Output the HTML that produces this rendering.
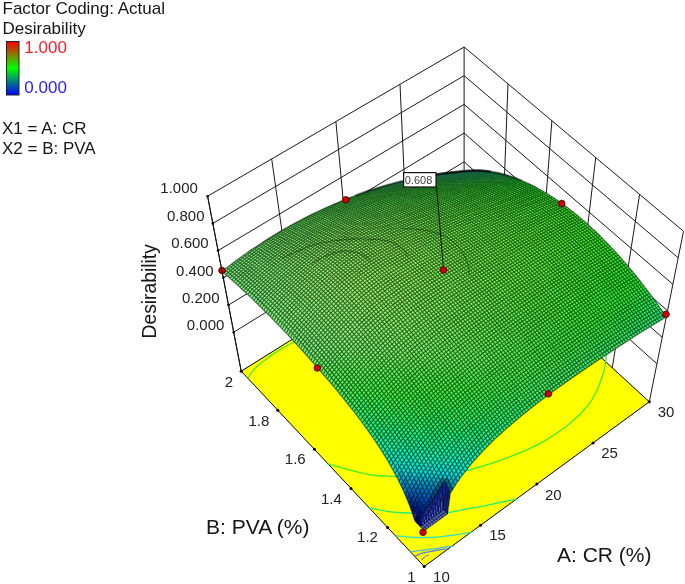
<!DOCTYPE html>
<html><head><meta charset="utf-8"><title>Desirability</title>
<style>html,body{margin:0;padding:0;background:#fff}svg{display:block;font-family:"Liberation Sans",sans-serif;filter:blur(0.45px)}</style></head>
<body>
<svg width="685" height="584" viewBox="0 0 685 584">
<rect width="685" height="584" fill="#fff"/>
<polygon points="424.2,566.5 649.3,401.8 464.1,231.7 241.2,371.2" fill="#ffff00" stroke="#000" stroke-width="1"/>
<path fill="none" stroke="#46eb32" stroke-width="1.3" d="M248.1 378.2 C249.1 376.7 251.3 372.3 254 369.4 C256.7 366.5 260.1 363.9 264.2 360.7 C268.3 357.5 273.5 353.7 278.8 350.4 C284.1 347.1 293.1 342.6 296 341"/>
<path fill="none" stroke="#46eb32" stroke-width="1.3" d="M327.5 463.8 C330.8 464.8 340 467.6 347.4 469.5 C354.8 471.4 363.9 473.8 372.1 475 C380.3 476.2 388.8 476.2 396.8 476.5 C404.8 476.8 412 476.8 420 476.5 C428 476.2 436.8 475.6 445 474.5 C453.2 473.4 458.7 472.8 469.1 470 C479.6 467.2 495.4 462.4 507.7 457.7 C520 453 532.3 447.8 542.8 441.9 C553.3 436 562.7 429.6 570.9 422.6 C579.1 415.6 586.3 408.6 591.9 399.8 C597.5 391 601.7 379.1 604.2 370 C606.7 360.9 606.5 349.2 607 345"/>
<path fill="none" stroke="#28eb6e" stroke-width="1.3" d="M369.3 507.8 C372 508.4 380.5 510.4 385.4 511.2 C390.3 512 394.3 512.2 398.7 512.5 C403.1 512.8 406.8 512.9 412 513.1 C417.2 513.3 423.8 513.6 430 513.5 C436.2 513.4 443.1 513.1 449.2 512.4 C455.3 511.6 460.8 510.1 466.8 509 C472.8 507.9 479.5 506.9 485 505.8 C490.5 504.7 494.8 503.6 500 502.5 C505.2 501.4 513.8 499.7 516.5 499.1"/>
<path fill="none" stroke="#32e1be" stroke-width="1.3" d="M396 535.8 C398.3 536 405.3 536.9 409.8 537.2 C414.3 537.5 418.6 537.7 423 537.7 C427.4 537.7 431.5 537.6 436.1 537.2 C440.7 536.8 446.3 536 450.7 535.5 C455.1 535 458.8 534.5 462.4 533.9 C466 533.3 470.9 532.4 472.6 532.1"/>
<path fill="none" stroke="#46bedc" stroke-width="1.3" d="M410.5 551.8 C412.3 551.6 417.7 550.9 421.5 550.4 C425.3 549.9 429.6 549.4 433.2 548.9 C436.8 548.4 440.1 547.9 443.4 547.4 C446.7 546.9 451.3 546.2 452.9 546"/>
<path fill="none" stroke="#5a82dc" stroke-width="1.3" d="M414.9 556.2 C415.9 555.8 418.7 554.3 421 553.6 C423.3 552.9 426 552.4 428.8 551.8 C431.6 551.2 434.8 550.5 438 550 C441.2 549.5 446.2 549.1 447.8 548.9"/>
<path fill="none" stroke="#8c8cc8" stroke-width="1.3" d="M421.5 559.9 C422.1 559.4 423.8 557.7 425 556.8 C426.2 555.9 428.2 555.1 428.8 554.7"/>
<path d="M233.7 332.2 L464.1 190.5 M464.1 190.5 L656.9 363.8 M228.5 305 L464.1 161.8 M464.1 161.8 L662.2 337.3 M223.3 277.8 L464.1 133.1 M464.1 133.1 L667.6 310.8 M218 250.6 L464.1 104.4 M464.1 104.4 L672.9 284.3 M212.8 223.4 L464.1 75.7 M464.1 75.7 L678.2 257.8 M207.6 196.2 L464.1 47 M464.1 47 L683.5 231.3 M241.2 371.2 L207.6 196.2 M296.9 336.3 L271.7 158.9 M352.6 301.4 L335.9 121.6 M408.4 266.6 L400 84.3 M464.1 231.7 L464.1 47 M649.3 401.8 L683.5 231.3 M612.3 367.8 L639.6 194.4 M575.2 333.8 L595.7 157.6 M538.2 299.7 L551.9 120.7 M501.1 265.7 L508 83.9" fill="none" stroke="#1a1a1a" stroke-width="1"/>
<g shape-rendering="crispEdges"><path fill="#3c9fec" d="M463.3 171.4l4.7-.5-3.9 .4-4.7 .4z"/><path fill="#3cb9ee" d="M467.3 171.2l4.7-.6-4 .3-4.7 .5z"/><path fill="#3cd3f0" d="M471.3 171.2l4.7-.6-4 0-4.7 .6z"/><path fill="#3bedf0" d="M475.3 171.4l4.7-.8-4 0-4.7 .6z"/><path fill="#3bf0df" d="M479.4 171.7l4.7-.8-4.1-.3-4.7 .8z"/><path fill="#3bf0cc" d="M483.4 172.3l4.7-1-4-.4-4.7 .8z"/><path fill="#3af0ba" d="M487.5 172.9l4.7-1-4.1-.6-4.7 1z"/><path fill="#3af0a9" d="M491.6 173.8l4.7-1.2-4.1-.7-4.7 1z"/><path fill="#39f099" d="M495.7 174.7l4.7-1.2-4.1-.9-4.7 1.2z"/><path fill="#39f089" d="M499.8 175.9l4.8-1.3-4.2-1.1-4.7 1.2z"/><path fill="#39f07b" d="M504 177.1l4.7-1.3-4.1-1.2-4.8 1.3z"/><path fill="#38f06d" d="M508.1 178.6l4.8-1.4-4.2-1.4-4.7 1.3z"/><path fill="#38f060" d="M512.3 180.2l4.7-1.5-4.1-1.5-4.8 1.4z"/><path fill="#37f054" d="M516.4 181.9l4.8-1.6-4.2-1.6-4.7 1.5z"/><path fill="#37f049" d="M520.6 183.7l4.8-1.6-4.2-1.8-4.8 1.6z"/><path fill="#37f03e" d="M524.8 185.7l4.8-1.7-4.2-1.9-4.8 1.6z"/><path fill="#36f036" d="M529 187.9l4.8-1.8-4.2-2.1-4.8 1.7z"/><path fill="#36f036" d="M533.2 190.1l4.7-1.8-4.1-2.2-4.8 1.8z"/><path fill="#36f036" d="M537.3 192.5l4.8-1.9-4.2-2.3-4.7 1.8z"/><path fill="#39f035" d="M541.5 195l4.8-1.9-4.2-2.5-4.8 1.9z"/><path fill="#3bf035" d="M545.7 197.7l4.8-2-4.2-2.6-4.8 1.9z"/><path fill="#3df034" d="M549.9 200.5l4.8-2.1-4.2-2.7-4.8 2z"/><path fill="#3ef034" d="M554.1 203.4l4.8-2.2-4.2-2.8-4.8 2.1z"/><path fill="#40f034" d="M558.3 206.4l4.8-2.2-4.2-3-4.8 2.2z"/><path fill="#41f033" d="M562.4 209.5l4.8-2.2-4.1-3.1-4.8 2.2z"/><path fill="#41f033" d="M566.6 212.8l4.8-2.3-4.2-3.2-4.8 2.2z"/><path fill="#42f032" d="M570.7 216.1l4.9-2.3-4.2-3.3-4.8 2.3z"/><path fill="#42f032" d="M574.9 219.6l4.8-2.4-4.1-3.4-4.9 2.3z"/><path fill="#42f032" d="M579 223.2l4.8-2.4-4.1-3.6-4.8 2.4z"/><path fill="#41f031" d="M583.1 226.9l4.9-2.5-4.2-3.6-4.8 2.4z"/><path fill="#41f031" d="M587.2 230.7l4.9-2.5-4.1-3.8-4.9 2.5z"/><path fill="#40f031" d="M591.3 234.6l4.9-2.6-4.1-3.8-4.9 2.5z"/><path fill="#3ef030" d="M595.4 238.6l4.8-2.6-4-4-4.9 2.6z"/><path fill="#3df030" d="M599.5 242.7l4.8-2.6-4.1-4.1-4.8 2.6z"/><path fill="#3bf02f" d="M603.5 246.8l4.8-2.6-4-4.1-4.8 2.6z"/><path fill="#39f02f" d="M607.5 251.1l4.9-2.6-4.1-4.3-4.8 2.6z"/><path fill="#37f02f" d="M611.6 255.5l4.8-2.7-4-4.3-4.9 2.6z"/><path fill="#34f02e" d="M615.5 260l4.9-2.8-4-4.4-4.8 2.7z"/><path fill="#31f02e" d="M619.5 264.5l4.8-2.7-3.9-4.6-4.9 2.8z"/><path fill="#2ef02d" d="M623.5 269.1l4.8-2.7-4-4.6-4.8 2.7z"/><path fill="#2df02d" d="M627.4 273.8l4.8-2.7-3.9-4.7-4.8 2.7z"/><path fill="#2df02d" d="M631.3 278.6l4.8-2.8-3.9-4.7-4.8 2.7z"/><path fill="#2cf030" d="M635.2 283.5l4.8-2.8-3.9-4.9-4.8 2.8z"/><path fill="#2cf039" d="M639 288.5l4.8-2.9-3.8-4.9-4.8 2.8z"/><path fill="#2cf042" d="M642.9 293.5l4.7-2.9-3.8-5-4.8 2.9z"/><path fill="#2bf04c" d="M646.7 298.6l4.7-2.9-3.8-5.1-4.7 2.9z"/><path fill="#2bf057" d="M650.4 303.7l4.8-2.8-3.8-5.2-4.7 2.9z"/><path fill="#2af062" d="M654.2 309l4.8-2.9-3.8-5.2-4.8 2.8z"/><path fill="#2af06d" d="M657.9 314.3l4.8-2.9-3.7-5.3-4.8 2.9z"/><path fill="#2af079" d="M661.6 319.6l4.8-2.8-3.7-5.4-4.8 2.9z"/><path fill="#3db0ee" d="M458.6 171.9l4.7-.5-3.9 .3-4.7 .4z"/><path fill="#3dcaf0" d="M462.6 171.8l4.7-.6-4 .2-4.7 .5z"/><path fill="#3de4f0" d="M466.6 171.9l4.7-.7-4 0-4.7 .6z"/><path fill="#3df0e5" d="M470.6 172.2l4.7-.8-4-.2-4.7 .7z"/><path fill="#3cf0d3" d="M474.6 172.7l4.8-1-4.1-.3-4.7 .8z"/><path fill="#3cf0c0" d="M478.7 173.3l4.7-1-4-.6-4.8 1z"/><path fill="#3cf0af" d="M482.7 174l4.8-1.1-4.1-.6-4.7 1z"/><path fill="#3bf09f" d="M486.8 174.9l4.8-1.1-4.1-.9-4.8 1.1z"/><path fill="#3bf08f" d="M490.9 176l4.8-1.3-4.1-.9-4.8 1.1z"/><path fill="#3af080" d="M495.1 177.2l4.7-1.3-4.1-1.2-4.8 1.3z"/><path fill="#3af072" d="M499.2 178.5l4.8-1.4-4.2-1.2-4.7 1.3z"/><path fill="#3af065" d="M503.3 180.1l4.8-1.5-4.1-1.5-4.8 1.4z"/><path fill="#39f058" d="M507.5 181.7l4.8-1.5-4.2-1.6-4.8 1.5z"/><path fill="#39f04c" d="M511.7 183.5l4.7-1.6-4.1-1.7-4.8 1.5z"/><path fill="#39f041" d="M515.8 185.4l4.8-1.7-4.2-1.8-4.7 1.6z"/><path fill="#38f038" d="M520 187.5l4.8-1.8-4.2-2-4.8 1.7z"/><path fill="#38f038" d="M524.2 189.7l4.8-1.8-4.2-2.2-4.8 1.8z"/><path fill="#38f037" d="M528.4 192l4.8-1.9-4.2-2.2-4.8 1.8z"/><path fill="#3bf037" d="M532.5 194.5l4.8-2-4.1-2.4-4.8 1.9z"/><path fill="#3df037" d="M536.7 197.1l4.8-2.1-4.2-2.5-4.8 2z"/><path fill="#3ff036" d="M540.9 199.8l4.8-2.1-4.2-2.7-4.8 2.1z"/><path fill="#41f036" d="M545.1 202.6l4.8-2.1-4.2-2.8-4.8 2.1z"/><path fill="#42f035" d="M549.3 205.6l4.8-2.2-4.2-2.9-4.8 2.1z"/><path fill="#43f035" d="M553.4 208.6l4.9-2.2-4.2-3-4.8 2.2z"/><path fill="#44f035" d="M557.6 211.8l4.8-2.3-4.1-3.1-4.9 2.2z"/><path fill="#45f034" d="M561.8 215.1l4.8-2.3-4.2-3.3-4.8 2.3z"/><path fill="#45f034" d="M565.9 218.5l4.8-2.4-4.1-3.3-4.8 2.3z"/><path fill="#45f034" d="M570.1 222l4.8-2.4-4.2-3.5-4.8 2.4z"/><path fill="#45f033" d="M574.2 225.7l4.8-2.5-4.1-3.6-4.8 2.4z"/><path fill="#45f033" d="M578.3 229.4l4.8-2.5-4.1-3.7-4.8 2.5z"/><path fill="#44f032" d="M582.4 233.2l4.8-2.5-4.1-3.8-4.8 2.5z"/><path fill="#43f032" d="M586.5 237.2l4.8-2.6-4.1-3.9-4.8 2.5z"/><path fill="#42f032" d="M590.6 241.2l4.8-2.6-4.1-4-4.8 2.6z"/><path fill="#40f031" d="M594.6 245.3l4.9-2.6-4.1-4.1-4.8 2.6z"/><path fill="#3ef031" d="M598.7 249.5l4.8-2.7-4-4.1-4.9 2.6z"/><path fill="#3cf030" d="M602.7 253.8l4.8-2.7-4-4.3-4.8 2.7z"/><path fill="#3af030" d="M606.7 258.2l4.9-2.7-4.1-4.4-4.8 2.7z"/><path fill="#37f030" d="M610.7 262.7l4.8-2.7-3.9-4.5-4.9 2.7z"/><path fill="#34f02f" d="M614.7 267.3l4.8-2.8-4-4.5-4.8 2.7z"/><path fill="#31f02f" d="M618.6 271.9l4.9-2.8-4-4.6-4.8 2.8z"/><path fill="#2ff02f" d="M622.6 276.7l4.8-2.9-3.9-4.7-4.9 2.8z"/><path fill="#2ef02e" d="M626.5 281.5l4.8-2.9-3.9-4.8-4.8 2.9z"/><path fill="#2ef02e" d="M630.4 286.4l4.8-2.9-3.9-4.9-4.8 2.9z"/><path fill="#2df037" d="M634.2 291.3l4.8-2.8-3.8-5-4.8 2.9z"/><path fill="#2df040" d="M638.1 296.4l4.8-2.9-3.9-5-4.8 2.8z"/><path fill="#2df04a" d="M641.9 301.5l4.8-2.9-3.8-5.1-4.8 2.9z"/><path fill="#2cf054" d="M645.7 306.6l4.7-2.9-3.7-5.1-4.8 2.9z"/><path fill="#2cf05f" d="M649.4 311.9l4.8-2.9-3.8-5.3-4.7 2.9z"/><path fill="#2bf06b" d="M653.2 317.2l4.7-2.9-3.7-5.3-4.8 2.9z"/><path fill="#2bf077" d="M656.9 322.6l4.7-3-3.7-5.3-4.7 2.9z"/><path fill="#3fc1ef" d="M453.9 172.5l4.7-.6-3.9 .2-4.7 .5z"/><path fill="#3fdbf0" d="M457.9 172.5l4.7-.7-4 .1-4.7 .6z"/><path fill="#3ff0ed" d="M461.8 172.7l4.8-.8-4-.1-4.7 .7z"/><path fill="#3ef0d9" d="M465.8 173.1l4.8-.9-4-.3-4.8 .8z"/><path fill="#3ef0c7" d="M469.9 173.6l4.7-.9-4-.5-4.8 .9z"/><path fill="#3df0b5" d="M473.9 174.3l4.8-1-4.1-.6-4.7 .9z"/><path fill="#3df0a5" d="M478 175.1l4.7-1.1-4-.7-4.8 1z"/><path fill="#3df095" d="M482.1 176.1l4.7-1.2-4.1-.9-4.7 1.1z"/><path fill="#3cf085" d="M486.2 177.3l4.7-1.3-4.1-1.1-4.7 1.2z"/><path fill="#3cf077" d="M490.3 178.6l4.8-1.4-4.2-1.2-4.7 1.3z"/><path fill="#3bf069" d="M494.4 180l4.8-1.5-4.1-1.3-4.8 1.4z"/><path fill="#3bf05c" d="M498.6 181.6l4.7-1.5-4.1-1.6-4.8 1.5z"/><path fill="#3bf050" d="M502.7 183.3l4.8-1.6-4.2-1.6-4.7 1.5z"/><path fill="#3af045" d="M506.9 185.2l4.8-1.7-4.2-1.8-4.8 1.6z"/><path fill="#3af03a" d="M511 187.2l4.8-1.8-4.1-1.9-4.8 1.7z"/><path fill="#3af03a" d="M515.2 189.3l4.8-1.8-4.2-2.1-4.8 1.8z"/><path fill="#3af039" d="M519.4 191.5l4.8-1.8-4.2-2.2-4.8 1.8z"/><path fill="#3cf039" d="M523.6 193.9l4.8-1.9-4.2-2.3-4.8 1.8z"/><path fill="#3ff038" d="M527.7 196.5l4.8-2-4.1-2.5-4.8 1.9z"/><path fill="#41f038" d="M531.9 199.1l4.8-2-4.2-2.6-4.8 2z"/><path fill="#43f038" d="M536.1 201.9l4.8-2.1-4.2-2.7-4.8 2z"/><path fill="#45f037" d="M540.3 204.8l4.8-2.2-4.2-2.8-4.8 2.1z"/><path fill="#46f037" d="M544.4 207.8l4.9-2.2-4.2-3-4.8 2.2z"/><path fill="#47f037" d="M548.6 210.9l4.8-2.3-4.1-3-4.9 2.2z"/><path fill="#48f036" d="M552.8 214.1l4.8-2.3-4.2-3.2-4.8 2.3z"/><path fill="#48f036" d="M556.9 217.5l4.9-2.4-4.2-3.3-4.8 2.3z"/><path fill="#49f035" d="M561.1 220.9l4.8-2.4-4.1-3.4-4.9 2.4z"/><path fill="#49f035" d="M565.2 224.5l4.9-2.5-4.2-3.5-4.8 2.4z"/><path fill="#48f035" d="M569.4 228.2l4.8-2.5-4.1-3.7-4.9 2.5z"/><path fill="#48f034" d="M573.5 231.9l4.8-2.5-4.1-3.7-4.8 2.5z"/><path fill="#47f034" d="M577.6 235.8l4.8-2.6-4.1-3.8-4.8 2.5z"/><path fill="#46f033" d="M581.7 239.8l4.8-2.6-4.1-4-4.8 2.6z"/><path fill="#44f033" d="M585.7 243.8l4.9-2.6-4.1-4-4.8 2.6z"/><path fill="#43f033" d="M589.8 248l4.8-2.7-4-4.1-4.9 2.6z"/><path fill="#41f032" d="M593.9 252.2l4.8-2.7-4.1-4.2-4.8 2.7z"/><path fill="#3ff032" d="M597.9 256.6l4.8-2.8-4-4.3-4.8 2.7z"/><path fill="#3cf032" d="M601.9 261l4.8-2.8-4-4.4-4.8 2.8z"/><path fill="#3af031" d="M605.9 265.5l4.8-2.8-4-4.5-4.8 2.8z"/><path fill="#37f031" d="M609.9 270.1l4.8-2.8-4-4.6-4.8 2.8z"/><path fill="#34f030" d="M613.8 274.8l4.8-2.9-3.9-4.6-4.8 2.8z"/><path fill="#30f030" d="M617.8 279.5l4.8-2.8-4-4.8-4.8 2.9z"/><path fill="#30f030" d="M621.7 284.3l4.8-2.8-3.9-4.8-4.8 2.8z"/><path fill="#2ff02f" d="M625.6 289.2l4.8-2.8-3.9-4.9-4.8 2.8z"/><path fill="#2ff035" d="M629.4 294.2l4.8-2.9-3.8-4.9-4.8 2.8z"/><path fill="#2ef03e" d="M633.3 299.3l4.8-2.9-3.9-5.1-4.8 2.9z"/><path fill="#2ef048" d="M637.1 304.4l4.8-2.9-3.8-5.1-4.8 2.9z"/><path fill="#2ef052" d="M640.9 309.6l4.8-3-3.8-5.1-4.8 2.9z"/><path fill="#2df05d" d="M644.7 314.8l4.7-2.9-3.7-5.3-4.8 3z"/><path fill="#2df069" d="M648.4 320.1l4.8-2.9-3.8-5.3-4.7 2.9z"/><path fill="#2df074" d="M652.1 325.5l4.8-2.9-3.7-5.4-4.8 2.9z"/><path fill="#41d1f0" d="M449.2 173.2l4.7-.7-3.9 .1-4.8 .6z"/><path fill="#40ebf0" d="M453.1 173.3l4.8-.8-4 0-4.7 .7z"/><path fill="#40f0e0" d="M457.1 173.6l4.7-.9-3.9-.2-4.8 .8z"/><path fill="#40f0ce" d="M461.1 174l4.7-.9-4-.4-4.7 .9z"/><path fill="#3ff0bc" d="M465.1 174.6l4.8-1-4.1-.5-4.7 .9z"/><path fill="#3ff0ab" d="M469.2 175.4l4.7-1.1-4-.7-4.8 1z"/><path fill="#3ef09b" d="M473.2 176.3l4.8-1.2-4.1-.8-4.7 1.1z"/><path fill="#3ef08b" d="M477.3 177.4l4.8-1.3-4.1-1-4.8 1.2z"/><path fill="#3ef07c" d="M481.4 178.6l4.8-1.3-4.1-1.2-4.8 1.3z"/><path fill="#3df06e" d="M485.5 180l4.8-1.4-4.1-1.3-4.8 1.3z"/><path fill="#3df061" d="M489.6 181.5l4.8-1.5-4.1-1.4-4.8 1.4z"/><path fill="#3df055" d="M493.8 183.2l4.8-1.6-4.2-1.6-4.8 1.5z"/><path fill="#3cf049" d="M497.9 184.9l4.8-1.6-4.1-1.7-4.8 1.6z"/><path fill="#3cf03e" d="M502.1 186.9l4.8-1.7-4.2-1.9-4.8 1.6z"/><path fill="#3bf03b" d="M506.2 188.9l4.8-1.7-4.1-2-4.8 1.7z"/><path fill="#3bf03b" d="M510.4 191.1l4.8-1.8-4.2-2.1-4.8 1.7z"/><path fill="#3ef03b" d="M514.6 193.5l4.8-2-4.2-2.2-4.8 1.8z"/><path fill="#41f03a" d="M518.7 195.9l4.9-2-4.2-2.4-4.8 2z"/><path fill="#43f03a" d="M522.9 198.5l4.8-2-4.1-2.6-4.9 2z"/><path fill="#45f039" d="M527.1 201.2l4.8-2.1-4.2-2.6-4.8 2z"/><path fill="#47f039" d="M531.3 204l4.8-2.1-4.2-2.8-4.8 2.1z"/><path fill="#48f039" d="M535.4 207l4.9-2.2-4.2-2.9-4.8 2.1z"/><path fill="#4af038" d="M539.6 210l4.8-2.2-4.1-3-4.9 2.2z"/><path fill="#4bf038" d="M543.8 213.2l4.8-2.3-4.2-3.1-4.8 2.2z"/><path fill="#4bf038" d="M547.9 216.5l4.9-2.4-4.2-3.2-4.8 2.3z"/><path fill="#4cf037" d="M552.1 219.9l4.8-2.4-4.1-3.4-4.9 2.4z"/><path fill="#4cf037" d="M556.2 223.4l4.9-2.5-4.2-3.4-4.8 2.4z"/><path fill="#4cf036" d="M560.4 227l4.8-2.5-4.1-3.6-4.9 2.5z"/><path fill="#4bf036" d="M564.5 230.7l4.9-2.5-4.2-3.7-4.8 2.5z"/><path fill="#4bf036" d="M568.6 234.5l4.9-2.6-4.1-3.7-4.9 2.5z"/><path fill="#4af035" d="M572.7 238.4l4.9-2.6-4.1-3.9-4.9 2.6z"/><path fill="#49f035" d="M576.8 242.4l4.9-2.6-4.1-4-4.9 2.6z"/><path fill="#47f034" d="M580.9 246.5l4.8-2.7-4-4-4.9 2.6z"/><path fill="#46f034" d="M585 250.7l4.8-2.7-4.1-4.2-4.8 2.7z"/><path fill="#44f034" d="M589 255l4.9-2.8-4.1-4.2-4.8 2.7z"/><path fill="#42f033" d="M593 259.3l4.9-2.7-4-4.4-4.9 2.8z"/><path fill="#3ff033" d="M597.1 263.8l4.8-2.8-4-4.4-4.9 2.7z"/><path fill="#3cf033" d="M601.1 268.3l4.8-2.8-4-4.5-4.8 2.8z"/><path fill="#3af032" d="M605 272.9l4.9-2.8-4-4.6-4.8 2.8z"/><path fill="#36f032" d="M609 277.6l4.8-2.8-3.9-4.7-4.9 2.8z"/><path fill="#33f031" d="M612.9 282.4l4.9-2.9-4-4.7-4.8 2.8z"/><path fill="#31f031" d="M616.8 287.2l4.9-2.9-3.9-4.8-4.9 2.9z"/><path fill="#31f031" d="M620.7 292.1l4.9-2.9-3.9-4.9-4.9 2.9z"/><path fill="#30f034" d="M624.6 297.1l4.8-2.9-3.8-5-4.9 2.9z"/><path fill="#30f03d" d="M628.5 302.2l4.8-2.9-3.9-5.1-4.8 2.9z"/><path fill="#30f046" d="M632.3 307.3l4.8-2.9-3.8-5.1-4.8 2.9z"/><path fill="#2ff051" d="M636.1 312.5l4.8-2.9-3.8-5.2-4.8 2.9z"/><path fill="#2ff05b" d="M639.9 317.8l4.8-3-3.8-5.2-4.8 2.9z"/><path fill="#2ef067" d="M643.6 323.1l4.8-3-3.7-5.3-4.8 3z"/><path fill="#2ef072" d="M647.3 328.4l4.8-2.9-3.7-5.4-4.8 3z"/><path fill="#42e1f0" d="M444.4 173.9l4.8-.7-4 0-4.7 .6z"/><path fill="#42f0e8" d="M448.4 174.1l4.7-.8-3.9-.1-4.8 .7z"/><path fill="#41f0d5" d="M452.3 174.5l4.8-.9-4-.3-4.7 .8z"/><path fill="#41f0c3" d="M456.3 175l4.8-1-4-.4-4.8 .9z"/><path fill="#41f0b1" d="M460.3 175.7l4.8-1.1-4-.6-4.8 1z"/><path fill="#40f0a1" d="M464.4 176.6l4.8-1.2-4.1-.8-4.8 1.1z"/><path fill="#40f091" d="M468.4 177.6l4.8-1.3-4-.9-4.8 1.2z"/><path fill="#40f082" d="M472.5 178.7l4.8-1.3-4.1-1.1-4.8 1.3z"/><path fill="#3ff074" d="M476.6 180l4.8-1.4-4.1-1.2-4.8 1.3z"/><path fill="#3ff066" d="M480.7 181.5l4.8-1.5-4.1-1.4-4.8 1.4z"/><path fill="#3ef059" d="M484.8 183.1l4.8-1.6-4.1-1.5-4.8 1.5z"/><path fill="#3ef04d" d="M489 184.8l4.8-1.6-4.2-1.7-4.8 1.6z"/><path fill="#3ef042" d="M493.1 186.6l4.8-1.7-4.1-1.7-4.8 1.6z"/><path fill="#3df03d" d="M497.2 188.6l4.9-1.7-4.2-2-4.8 1.7z"/><path fill="#3df03d" d="M501.4 190.8l4.8-1.9-4.1-2-4.9 1.7z"/><path fill="#3ff03c" d="M505.6 193l4.8-1.9-4.2-2.2-4.8 1.9z"/><path fill="#42f03c" d="M509.7 195.4l4.9-1.9-4.2-2.4-4.8 1.9z"/><path fill="#45f03c" d="M513.9 197.9l4.8-2-4.1-2.4-4.9 1.9z"/><path fill="#47f03b" d="M518.1 200.6l4.8-2.1-4.2-2.6-4.8 2z"/><path fill="#49f03b" d="M522.2 203.3l4.9-2.1-4.2-2.7-4.8 2.1z"/><path fill="#4bf03b" d="M526.4 206.2l4.9-2.2-4.2-2.8-4.9 2.1z"/><path fill="#4cf03a" d="M530.6 209.2l4.8-2.2-4.1-3-4.9 2.2z"/><path fill="#4df03a" d="M534.8 212.3l4.8-2.3-4.2-3-4.8 2.2z"/><path fill="#4ef039" d="M538.9 215.5l4.9-2.3-4.2-3.2-4.8 2.3z"/><path fill="#4ff039" d="M543.1 218.9l4.8-2.4-4.1-3.3-4.9 2.3z"/><path fill="#4ff039" d="M547.2 222.3l4.9-2.4-4.2-3.4-4.8 2.4z"/><path fill="#4ff038" d="M551.4 225.8l4.8-2.4-4.1-3.5-4.9 2.4z"/><path fill="#4ff038" d="M555.5 229.5l4.9-2.5-4.2-3.6-4.8 2.4z"/><path fill="#4ef037" d="M559.7 233.2l4.8-2.5-4.1-3.7-4.9 2.5z"/><path fill="#4ef037" d="M563.8 237.1l4.8-2.6-4.1-3.8-4.8 2.5z"/><path fill="#4df037" d="M567.9 241l4.8-2.6-4.1-3.9-4.8 2.6z"/><path fill="#4cf036" d="M572 245.1l4.8-2.7-4.1-4-4.8 2.6z"/><path fill="#4af036" d="M576 249.2l4.9-2.7-4.1-4.1-4.8 2.7z"/><path fill="#48f036" d="M580.1 253.4l4.9-2.7-4.1-4.2-4.9 2.7z"/><path fill="#46f035" d="M584.2 257.7l4.8-2.7-4-4.3-4.9 2.7z"/><path fill="#44f035" d="M588.2 262.1l4.8-2.8-4-4.3-4.8 2.7z"/><path fill="#42f034" d="M592.2 266.6l4.9-2.8-4.1-4.5-4.8 2.8z"/><path fill="#3ff034" d="M596.2 271.1l4.9-2.8-4-4.5-4.9 2.8z"/><path fill="#3cf034" d="M600.2 275.8l4.8-2.9-3.9-4.6-4.9 2.8z"/><path fill="#39f033" d="M604.2 280.5l4.8-2.9-4-4.7-4.8 2.9z"/><path fill="#36f033" d="M608.1 285.3l4.8-2.9-3.9-4.8-4.8 2.9z"/><path fill="#32f032" d="M612 290.1l4.8-2.9-3.9-4.8-4.8 2.9z"/><path fill="#32f032" d="M615.9 295.1l4.8-3-3.9-4.9-4.8 2.9z"/><path fill="#32f032" d="M619.8 300.1l4.8-3-3.9-5-4.8 3z"/><path fill="#31f03b" d="M623.7 305.1l4.8-2.9-3.9-5.1-4.8 3z"/><path fill="#31f045" d="M627.5 310.3l4.8-3-3.8-5.1-4.8 2.9z"/><path fill="#31f04f" d="M631.3 315.5l4.8-3-3.8-5.2-4.8 3z"/><path fill="#30f05a" d="M635.1 320.7l4.8-2.9-3.8-5.3-4.8 3z"/><path fill="#30f065" d="M638.8 326l4.8-2.9-3.7-5.3-4.8 2.9z"/><path fill="#2ff070" d="M642.6 331.4l4.7-3-3.7-5.3-4.8 2.9z"/><path fill="#44f0ef" d="M439.6 174.7l4.8-.8-3.9-.1-4.8 .7z"/><path fill="#43f0dc" d="M443.6 175l4.8-.9-4-.2-4.8 .8z"/><path fill="#43f0ca" d="M447.5 175.5l4.8-1-3.9-.4-4.8 .9z"/><path fill="#42f0b8" d="M451.5 176.1l4.8-1.1-4-.5-4.8 1z"/><path fill="#42f0a7" d="M455.5 176.9l4.8-1.2-4-.7-4.8 1.1z"/><path fill="#42f097" d="M459.6 177.8l4.8-1.2-4.1-.9-4.8 1.2z"/><path fill="#41f088" d="M463.6 178.9l4.8-1.3-4-1-4.8 1.2z"/><path fill="#41f079" d="M467.7 180.1l4.8-1.4-4.1-1.1-4.8 1.3z"/><path fill="#41f06c" d="M471.8 181.5l4.8-1.5-4.1-1.3-4.8 1.4z"/><path fill="#40f05e" d="M475.9 183l4.8-1.5-4.1-1.5-4.8 1.5z"/><path fill="#40f052" d="M480 184.6l4.8-1.5-4.1-1.6-4.8 1.5z"/><path fill="#3ff047" d="M484.1 186.4l4.9-1.6-4.2-1.7-4.8 1.5z"/><path fill="#3ff03f" d="M488.3 188.4l4.8-1.8-4.1-1.8-4.9 1.6z"/><path fill="#3ff03f" d="M492.4 190.4l4.8-1.8-4.1-2-4.8 1.8z"/><path fill="#41f03e" d="M496.6 192.6l4.8-1.8-4.2-2.2-4.8 1.8z"/><path fill="#44f03e" d="M500.7 194.9l4.9-1.9-4.2-2.2-4.8 1.8z"/><path fill="#46f03e" d="M504.9 197.4l4.8-2-4.1-2.4-4.9 1.9z"/><path fill="#49f03d" d="M509.1 200l4.8-2.1-4.2-2.5-4.8 2z"/><path fill="#4bf03d" d="M513.2 202.7l4.9-2.1-4.2-2.7-4.8 2.1z"/><path fill="#4df03c" d="M517.4 205.5l4.8-2.2-4.1-2.7-4.9 2.1z"/><path fill="#4ef03c" d="M521.6 208.4l4.8-2.2-4.2-2.9-4.8 2.2z"/><path fill="#50f03c" d="M525.7 211.5l4.9-2.3-4.2-3-4.8 2.2z"/><path fill="#51f03b" d="M529.9 214.6l4.9-2.3-4.2-3.1-4.9 2.3z"/><path fill="#51f03b" d="M534.1 217.9l4.8-2.4-4.1-3.2-4.9 2.3z"/><path fill="#52f03a" d="M538.2 221.3l4.9-2.4-4.2-3.4-4.8 2.4z"/><path fill="#52f03a" d="M542.4 224.8l4.8-2.5-4.1-3.4-4.9 2.4z"/><path fill="#52f03a" d="M546.5 228.4l4.9-2.6-4.2-3.5-4.8 2.5z"/><path fill="#52f039" d="M550.7 232l4.8-2.5-4.1-3.7-4.9 2.6z"/><path fill="#51f039" d="M554.8 235.8l4.9-2.6-4.2-3.7-4.8 2.5z"/><path fill="#51f039" d="M558.9 239.7l4.9-2.6-4.1-3.9-4.9 2.6z"/><path fill="#50f038" d="M563 243.7l4.9-2.7-4.1-3.9-4.9 2.6z"/><path fill="#4ef038" d="M567.1 247.8l4.9-2.7-4.1-4.1-4.9 2.7z"/><path fill="#4df037" d="M571.2 251.9l4.8-2.7-4-4.1-4.9 2.7z"/><path fill="#4bf037" d="M575.3 256.2l4.8-2.8-4.1-4.2-4.8 2.7z"/><path fill="#49f037" d="M579.3 260.5l4.9-2.8-4.1-4.3-4.8 2.8z"/><path fill="#47f036" d="M583.3 264.9l4.9-2.8-4-4.4-4.9 2.8z"/><path fill="#44f036" d="M587.4 269.4l4.8-2.8-4-4.5-4.9 2.8z"/><path fill="#42f035" d="M591.4 274l4.8-2.9-4-4.5-4.8 2.8z"/><path fill="#3ff035" d="M595.3 278.7l4.9-2.9-4-4.7-4.8 2.9z"/><path fill="#3cf035" d="M599.3 283.4l4.9-2.9-4-4.7-4.9 2.9z"/><path fill="#38f034" d="M603.3 288.2l4.8-2.9-3.9-4.8-4.9 2.9z"/><path fill="#35f034" d="M607.2 293.1l4.8-3-3.9-4.8-4.8 2.9z"/><path fill="#34f034" d="M611.1 298l4.8-2.9-3.9-5-4.8 3z"/><path fill="#33f033" d="M615 303l4.8-2.9-3.9-5-4.8 2.9z"/><path fill="#33f03a" d="M618.8 308.1l4.9-3-3.9-5-4.8 2.9z"/><path fill="#32f044" d="M622.7 313.3l4.8-3-3.8-5.2-4.9 3z"/><path fill="#32f04e" d="M626.5 318.5l4.8-3-3.8-5.2-4.8 3z"/><path fill="#32f058" d="M630.3 323.7l4.8-3-3.8-5.2-4.8 3z"/><path fill="#31f063" d="M634 329l4.8-3-3.7-5.3-4.8 3z"/><path fill="#31f06f" d="M637.8 334.4l4.8-3-3.8-5.4-4.8 3z"/><path fill="#45f0e3" d="M434.9 175.5l4.7-.8-3.9-.2-4.8 .8z"/><path fill="#45f0d1" d="M438.8 175.9l4.8-.9-4-.3-4.7 .8z"/><path fill="#44f0bf" d="M442.7 176.5l4.8-1-3.9-.5-4.8 .9z"/><path fill="#44f0ae" d="M446.7 177.2l4.8-1.1-4-.6-4.8 1z"/><path fill="#44f09e" d="M450.7 178.1l4.8-1.2-4-.8-4.8 1.1z"/><path fill="#43f08e" d="M454.8 179.1l4.8-1.3-4.1-.9-4.8 1.2z"/><path fill="#43f07f" d="M458.8 180.2l4.8-1.3-4-1.1-4.8 1.3z"/><path fill="#42f071" d="M462.9 181.5l4.8-1.4-4.1-1.2-4.8 1.3z"/><path fill="#42f064" d="M467 183l4.8-1.5-4.1-1.4-4.8 1.4z"/><path fill="#42f057" d="M471.1 184.6l4.8-1.6-4.1-1.5-4.8 1.5z"/><path fill="#41f04b" d="M475.2 186.3l4.8-1.7-4.1-1.6-4.8 1.6z"/><path fill="#41f041" d="M479.3 188.1l4.8-1.7-4.1-1.8-4.8 1.7z"/><path fill="#40f040" d="M483.4 190.1l4.9-1.7-4.2-2-4.8 1.7z"/><path fill="#42f040" d="M487.6 192.3l4.8-1.9-4.1-2-4.9 1.7z"/><path fill="#45f040" d="M491.7 194.5l4.9-1.9-4.2-2.2-4.8 1.9z"/><path fill="#48f03f" d="M495.9 196.9l4.8-2-4.1-2.3-4.9 1.9z"/><path fill="#4af03f" d="M500 199.4l4.9-2-4.2-2.5-4.8 2z"/><path fill="#4df03f" d="M504.2 202.1l4.9-2.1-4.2-2.6-4.9 2z"/><path fill="#4ff03e" d="M508.4 204.8l4.8-2.1-4.1-2.7-4.9 2.1z"/><path fill="#50f03e" d="M512.5 207.7l4.9-2.2-4.2-2.8-4.8 2.1z"/><path fill="#52f03d" d="M516.7 210.7l4.9-2.3-4.2-2.9-4.9 2.2z"/><path fill="#53f03d" d="M520.9 213.8l4.8-2.3-4.1-3.1-4.9 2.3z"/><path fill="#54f03d" d="M525 217l4.9-2.4-4.2-3.1-4.8 2.3z"/><path fill="#55f03c" d="M529.2 220.3l4.9-2.4-4.2-3.3-4.9 2.4z"/><path fill="#55f03c" d="M533.4 223.7l4.8-2.4-4.1-3.4-4.9 2.4z"/><path fill="#55f03b" d="M537.5 227.3l4.9-2.5-4.2-3.5-4.8 2.4z"/><path fill="#55f03b" d="M541.7 230.9l4.8-2.5-4.1-3.6-4.9 2.5z"/><path fill="#55f03b" d="M545.8 234.6l4.9-2.6-4.2-3.6-4.8 2.5z"/><path fill="#54f03a" d="M549.9 238.5l4.9-2.7-4.1-3.8-4.9 2.6z"/><path fill="#53f03a" d="M554 242.4l4.9-2.7-4.1-3.9-4.9 2.7z"/><path fill="#52f03a" d="M558.1 246.4l4.9-2.7-4.1-4-4.9 2.7z"/><path fill="#51f039" d="M562.2 250.5l4.9-2.7-4.1-4.1-4.9 2.7z"/><path fill="#4ff039" d="M566.3 254.7l4.9-2.8-4.1-4.1-4.9 2.7z"/><path fill="#4df038" d="M570.4 259l4.9-2.8-4.1-4.3-4.9 2.8z"/><path fill="#4bf038" d="M574.4 263.3l4.9-2.8-4-4.3-4.9 2.8z"/><path fill="#49f038" d="M578.5 267.8l4.8-2.9-4-4.4-4.9 2.8z"/><path fill="#47f037" d="M582.5 272.3l4.9-2.9-4.1-4.5-4.8 2.9z"/><path fill="#44f037" d="M586.5 276.9l4.9-2.9-4-4.6-4.9 2.9z"/><path fill="#41f037" d="M590.5 281.6l4.8-2.9-3.9-4.7-4.9 2.9z"/><path fill="#3ef036" d="M594.5 286.3l4.8-2.9-4-4.7-4.8 2.9z"/><path fill="#3bf036" d="M598.4 291.2l4.9-3-4-4.8-4.8 2.9z"/><path fill="#37f035" d="M602.3 296.1l4.9-3-3.9-4.9-4.9 3z"/><path fill="#35f035" d="M606.2 301l4.9-3-3.9-4.9-4.9 3z"/><path fill="#35f035" d="M610.1 306l4.9-3-3.9-5-4.9 3z"/><path fill="#34f039" d="M614 311.1l4.8-3-3.8-5.1-4.9 3z"/><path fill="#34f043" d="M617.9 316.3l4.8-3-3.9-5.2-4.8 3z"/><path fill="#33f04d" d="M621.7 321.5l4.8-3-3.8-5.2-4.8 3z"/><path fill="#33f057" d="M625.5 326.7l4.8-3-3.8-5.2-4.8 3z"/><path fill="#33f062" d="M629.3 332.1l4.7-3.1-3.7-5.3-4.8 3z"/><path fill="#32f06d" d="M633 337.4l4.8-3-3.8-5.4-4.7 3.1z"/><path fill="#47f0d8" d="M430.1 176.4l4.8-.9-4-.2-4.8 .8z"/><path fill="#46f0c6" d="M434 176.9l4.8-1-3.9-.4-4.8 .9z"/><path fill="#46f0b5" d="M437.9 177.6l4.8-1.1-3.9-.6-4.8 1z"/><path fill="#45f0a4" d="M441.9 178.3l4.8-1.1-4-.7-4.8 1.1z"/><path fill="#45f094" d="M445.9 179.3l4.8-1.2-4-.9-4.8 1.1z"/><path fill="#45f085" d="M450 180.4l4.8-1.3-4.1-1-4.8 1.2z"/><path fill="#44f077" d="M454 181.6l4.8-1.4-4-1.1-4.8 1.3z"/><path fill="#44f069" d="M458.1 183l4.8-1.5-4.1-1.3-4.8 1.4z"/><path fill="#43f05c" d="M462.1 184.5l4.9-1.5-4.1-1.5-4.8 1.5z"/><path fill="#43f050" d="M466.2 186.2l4.9-1.6-4.1-1.6-4.9 1.5z"/><path fill="#43f045" d="M470.3 188l4.9-1.7-4.1-1.7-4.9 1.6z"/><path fill="#42f042" d="M474.5 189.9l4.8-1.8-4.1-1.8-4.9 1.7z"/><path fill="#43f042" d="M478.6 192l4.8-1.9-4.1-2-4.8 1.8z"/><path fill="#46f042" d="M482.7 194.1l4.9-1.8-4.2-2.2-4.8 1.9z"/><path fill="#49f041" d="M486.9 196.5l4.8-2-4.1-2.2-4.9 1.8z"/><path fill="#4cf041" d="M491 198.9l4.9-2-4.2-2.4-4.8 2z"/><path fill="#4ef040" d="M495.2 201.5l4.8-2.1-4.1-2.5-4.9 2z"/><path fill="#50f040" d="M499.4 204.2l4.8-2.1-4.2-2.7-4.8 2.1z"/><path fill="#52f040" d="M503.5 207l4.9-2.2-4.2-2.7-4.8 2.1z"/><path fill="#54f03f" d="M507.7 209.9l4.8-2.2-4.1-2.9-4.9 2.2z"/><path fill="#55f03f" d="M511.9 212.9l4.8-2.2-4.2-3-4.8 2.2z"/><path fill="#56f03e" d="M516 216.1l4.9-2.3-4.2-3.1-4.8 2.2z"/><path fill="#57f03e" d="M520.2 219.4l4.8-2.4-4.1-3.2-4.9 2.3z"/><path fill="#58f03e" d="M524.3 222.7l4.9-2.4-4.2-3.3-4.8 2.4z"/><path fill="#58f03d" d="M528.5 226.2l4.9-2.5-4.2-3.4-4.9 2.4z"/><path fill="#58f03d" d="M532.6 229.8l4.9-2.5-4.1-3.6-4.9 2.5z"/><path fill="#58f03d" d="M536.8 233.5l4.9-2.6-4.2-3.6-4.9 2.5z"/><path fill="#57f03c" d="M540.9 237.2l4.9-2.6-4.1-3.7-4.9 2.6z"/><path fill="#57f03c" d="M545 241.1l4.9-2.6-4.1-3.9-4.9 2.6z"/><path fill="#56f03b" d="M549.2 245.1l4.8-2.7-4.1-3.9-4.9 2.6z"/><path fill="#55f03b" d="M553.3 249.1l4.8-2.7-4.1-4-4.8 2.7z"/><path fill="#53f03b" d="M557.4 253.3l4.8-2.8-4.1-4.1-4.8 2.7z"/><path fill="#52f03a" d="M561.4 257.5l4.9-2.8-4.1-4.2-4.8 2.8z"/><path fill="#50f03a" d="M565.5 261.8l4.9-2.8-4.1-4.3-4.9 2.8z"/><path fill="#4ef039" d="M569.6 266.2l4.8-2.9-4-4.3-4.9 2.8z"/><path fill="#4cf039" d="M573.6 270.7l4.9-2.9-4.1-4.5-4.8 2.9z"/><path fill="#49f039" d="M577.6 275.2l4.9-2.9-4-4.5-4.9 2.9z"/><path fill="#46f038" d="M581.6 279.8l4.9-2.9-4-4.6-4.9 2.9z"/><path fill="#43f038" d="M585.6 284.5l4.9-2.9-4-4.7-4.9 2.9z"/><path fill="#40f038" d="M589.6 289.3l4.9-3-4-4.7-4.9 2.9z"/><path fill="#3df037" d="M593.6 294.1l4.8-2.9-3.9-4.9-4.9 3z"/><path fill="#39f037" d="M597.5 299.1l4.8-3-3.9-4.9-4.8 2.9z"/><path fill="#36f036" d="M601.4 304l4.8-3-3.9-4.9-4.8 3z"/><path fill="#36f036" d="M605.3 309.1l4.8-3.1-3.9-5-4.8 3z"/><path fill="#36f038" d="M609.2 314.2l4.8-3.1-3.9-5.1-4.8 3.1z"/><path fill="#35f042" d="M613 319.3l4.9-3-3.9-5.2-4.8 3.1z"/><path fill="#35f04c" d="M616.9 324.5l4.8-3-3.8-5.2-4.9 3z"/><path fill="#34f056" d="M620.7 329.8l4.8-3.1-3.8-5.2-4.8 3z"/><path fill="#34f061" d="M624.5 335.1l4.8-3-3.8-5.4-4.8 3.1z"/><path fill="#34f06c" d="M628.2 340.5l4.8-3.1-3.7-5.3-4.8 3z"/><path fill="#48f0cd" d="M425.2 177.4l4.9-1-4-.3-4.8 .9z"/><path fill="#48f0bc" d="M429.2 178l4.8-1.1-3.9-.5-4.9 1z"/><path fill="#47f0ab" d="M433.1 178.7l4.8-1.1-3.9-.7-4.8 1.1z"/><path fill="#47f09b" d="M437.1 179.6l4.8-1.3-4-.7-4.8 1.1z"/><path fill="#46f08c" d="M441.1 180.6l4.8-1.3-4-1-4.8 1.3z"/><path fill="#46f07d" d="M445.1 181.8l4.9-1.4-4.1-1.1-4.8 1.3z"/><path fill="#46f06f" d="M449.2 183.1l4.8-1.5-4-1.2-4.9 1.4z"/><path fill="#45f062" d="M453.2 184.5l4.9-1.5-4.1-1.4-4.8 1.5z"/><path fill="#45f055" d="M457.3 186.1l4.8-1.6-4-1.5-4.9 1.5z"/><path fill="#45f04a" d="M461.4 187.8l4.8-1.6-4.1-1.7-4.8 1.6z"/><path fill="#44f044" d="M465.5 189.7l4.8-1.7-4.1-1.8-4.8 1.6z"/><path fill="#44f044" d="M469.6 191.7l4.9-1.8-4.2-1.9-4.8 1.7z"/><path fill="#47f043" d="M473.7 193.8l4.9-1.8-4.1-2.1-4.9 1.8z"/><path fill="#4af043" d="M477.9 196.1l4.8-2-4.1-2.1-4.9 1.8z"/><path fill="#4df043" d="M482 198.4l4.9-1.9-4.2-2.4-4.8 2z"/><path fill="#50f042" d="M486.2 200.9l4.8-2-4.1-2.4-4.9 1.9z"/><path fill="#52f042" d="M490.3 203.6l4.9-2.1-4.2-2.6-4.8 2z"/><path fill="#54f041" d="M494.5 206.3l4.9-2.1-4.2-2.7-4.9 2.1z"/><path fill="#56f041" d="M498.7 209.2l4.8-2.2-4.1-2.8-4.9 2.1z"/><path fill="#57f041" d="M502.8 212.2l4.9-2.3-4.2-2.9-4.8 2.2z"/><path fill="#59f040" d="M507 215.3l4.9-2.4-4.2-3-4.9 2.3z"/><path fill="#5af040" d="M511.1 218.5l4.9-2.4-4.1-3.2-4.9 2.4z"/><path fill="#5af040" d="M515.3 221.8l4.9-2.4-4.2-3.3-4.9 2.4z"/><path fill="#5bf03f" d="M519.5 225.2l4.8-2.5-4.1-3.3-4.9 2.4z"/><path fill="#5bf03f" d="M523.6 228.7l4.9-2.5-4.2-3.5-4.8 2.5z"/><path fill="#5bf03e" d="M527.8 232.3l4.8-2.5-4.1-3.6-4.9 2.5z"/><path fill="#5bf03e" d="M531.9 236.1l4.9-2.6-4.2-3.7-4.8 2.5z"/><path fill="#5af03e" d="M536 239.9l4.9-2.7-4.1-3.7-4.9 2.6z"/><path fill="#59f03d" d="M540.2 243.8l4.8-2.7-4.1-3.9-4.9 2.7z"/><path fill="#58f03d" d="M544.3 247.8l4.9-2.7-4.2-4-4.8 2.7z"/><path fill="#57f03c" d="M548.4 251.9l4.9-2.8-4.1-4-4.9 2.7z"/><path fill="#56f03c" d="M552.5 256.1l4.9-2.8-4.1-4.2-4.9 2.8z"/><path fill="#54f03c" d="M556.6 260.3l4.8-2.8-4-4.2-4.9 2.8z"/><path fill="#52f03b" d="M560.6 264.7l4.9-2.9-4.1-4.3-4.8 2.8z"/><path fill="#50f03b" d="M564.7 269.1l4.9-2.9-4.1-4.4-4.9 2.9z"/><path fill="#4ef03b" d="M568.7 273.6l4.9-2.9-4-4.5-4.9 2.9z"/><path fill="#4bf03a" d="M572.8 278.2l4.8-3-4-4.5-4.9 2.9z"/><path fill="#49f03a" d="M576.8 282.8l4.8-3-4-4.6-4.8 3z"/><path fill="#46f039" d="M580.8 287.5l4.8-3-4-4.7-4.8 3z"/><path fill="#42f039" d="M584.7 292.3l4.9-3-4-4.8-4.8 3z"/><path fill="#3ff039" d="M588.7 297.2l4.9-3.1-4-4.8-4.9 3z"/><path fill="#3cf038" d="M592.6 302.1l4.9-3-3.9-5-4.9 3.1z"/><path fill="#38f038" d="M596.6 307.1l4.8-3.1-3.9-4.9-4.9 3z"/><path fill="#37f037" d="M600.5 312.1l4.8-3-3.9-5.1-4.8 3.1z"/><path fill="#37f038" d="M604.3 317.2l4.9-3-3.9-5.1-4.8 3z"/><path fill="#37f041" d="M608.2 322.4l4.8-3.1-3.8-5.1-4.9 3z"/><path fill="#36f04b" d="M612 327.6l4.9-3.1-3.9-5.2-4.8 3.1z"/><path fill="#36f055" d="M615.8 332.9l4.9-3.1-3.8-5.3-4.9 3.1z"/><path fill="#36f060" d="M619.6 338.2l4.9-3.1-3.8-5.3-4.9 3.1z"/><path fill="#35f06b" d="M623.4 343.6l4.8-3.1-3.7-5.4-4.9 3.1z"/><path fill="#49f0c3" d="M420.4 178.4l4.8-1-3.9-.4-4.8 1z"/><path fill="#49f0b2" d="M424.3 179.1l4.9-1.1-4-.6-4.8 1z"/><path fill="#49f0a2" d="M428.3 179.9l4.8-1.2-3.9-.7-4.9 1.1z"/><path fill="#48f092" d="M432.3 180.8l4.8-1.2-4-.9-4.8 1.2z"/><path fill="#48f083" d="M436.3 181.9l4.8-1.3-4-1-4.8 1.2z"/><path fill="#47f075" d="M440.3 183.2l4.8-1.4-4-1.2-4.8 1.3z"/><path fill="#47f068" d="M444.3 184.6l4.9-1.5-4.1-1.3-4.8 1.4z"/><path fill="#47f05b" d="M448.4 186.1l4.8-1.6-4-1.4-4.9 1.5z"/><path fill="#46f04f" d="M452.4 187.7l4.9-1.6-4.1-1.6-4.8 1.6z"/><path fill="#46f046" d="M456.5 189.5l4.9-1.7-4.1-1.7-4.9 1.6z"/><path fill="#46f046" d="M460.6 191.4l4.9-1.7-4.1-1.9-4.9 1.7z"/><path fill="#48f045" d="M464.8 193.5l4.8-1.8-4.1-2-4.9 1.7z"/><path fill="#4bf045" d="M468.9 195.7l4.8-1.9-4.1-2.1-4.8 1.8z"/><path fill="#4ef044" d="M473 198l4.9-1.9-4.2-2.3-4.8 1.9z"/><path fill="#51f044" d="M477.2 200.4l4.8-2-4.1-2.3-4.9 1.9z"/><path fill="#53f044" d="M481.3 203l4.9-2.1-4.2-2.5-4.8 2z"/><path fill="#56f043" d="M485.5 205.7l4.8-2.1-4.1-2.7-4.9 2.1z"/><path fill="#58f043" d="M489.6 208.5l4.9-2.2-4.2-2.7-4.8 2.1z"/><path fill="#59f042" d="M493.8 211.4l4.9-2.2-4.2-2.9-4.9 2.2z"/><path fill="#5bf042" d="M497.9 214.4l4.9-2.2-4.1-3-4.9 2.2z"/><path fill="#5cf042" d="M502.1 217.6l4.9-2.3-4.2-3.1-4.9 2.2z"/><path fill="#5df041" d="M506.3 220.8l4.8-2.3-4.1-3.2-4.9 2.3z"/><path fill="#5df041" d="M510.4 224.2l4.9-2.4-4.2-3.3-4.8 2.3z"/><path fill="#5ef041" d="M514.6 227.7l4.9-2.5-4.2-3.4-4.9 2.4z"/><path fill="#5ef040" d="M518.7 231.2l4.9-2.5-4.1-3.5-4.9 2.5z"/><path fill="#5ef040" d="M522.9 234.9l4.9-2.6-4.2-3.6-4.9 2.5z"/><path fill="#5df03f" d="M527 238.7l4.9-2.6-4.1-3.8-4.9 2.6z"/><path fill="#5df03f" d="M531.1 242.6l4.9-2.7-4.1-3.8-4.9 2.6z"/><path fill="#5cf03f" d="M535.3 246.5l4.9-2.7-4.2-3.9-4.9 2.7z"/><path fill="#5bf03e" d="M539.4 250.5l4.9-2.7-4.1-4-4.9 2.7z"/><path fill="#5af03e" d="M543.5 254.7l4.9-2.8-4.1-4.1-4.9 2.7z"/><path fill="#58f03e" d="M547.6 258.9l4.9-2.8-4.1-4.2-4.9 2.8z"/><path fill="#56f03d" d="M551.7 263.2l4.9-2.9-4.1-4.2-4.9 2.8z"/><path fill="#54f03d" d="M555.7 267.6l4.9-2.9-4-4.4-4.9 2.9z"/><path fill="#52f03c" d="M559.8 272l4.9-2.9-4.1-4.4-4.9 2.9z"/><path fill="#50f03c" d="M563.8 276.5l4.9-2.9-4-4.5-4.9 2.9z"/><path fill="#4df03c" d="M567.9 281.1l4.9-2.9-4.1-4.6-4.9 2.9z"/><path fill="#4bf03b" d="M571.9 285.8l4.9-3-4-4.6-4.9 2.9z"/><path fill="#48f03b" d="M575.9 290.5l4.9-3-4-4.7-4.9 3z"/><path fill="#45f03a" d="M579.9 295.3l4.8-3-3.9-4.8-4.9 3z"/><path fill="#41f03a" d="M583.8 300.2l4.9-3-4-4.9-4.8 3z"/><path fill="#3ef03a" d="M587.8 305.1l4.8-3-3.9-4.9-4.9 3z"/><path fill="#3af039" d="M591.7 310.1l4.9-3-4-5-4.8 3z"/><path fill="#39f039" d="M595.6 315.2l4.9-3.1-3.9-5-4.9 3z"/><path fill="#39f039" d="M599.5 320.3l4.8-3.1-3.8-5.1-4.9 3.1z"/><path fill="#38f041" d="M603.4 325.5l4.8-3.1-3.9-5.2-4.8 3.1z"/><path fill="#38f04a" d="M607.2 330.7l4.8-3.1-3.8-5.2-4.8 3.1z"/><path fill="#37f054" d="M611 336l4.8-3.1-3.8-5.3-4.8 3.1z"/><path fill="#37f05f" d="M614.8 341.3l4.8-3.1-3.8-5.3-4.8 3.1z"/><path fill="#37f06a" d="M618.6 346.7l4.8-3.1-3.8-5.4-4.8 3.1z"/><path fill="#4bf0ba" d="M415.6 179.5l4.8-1.1-3.9-.4-4.8 1z"/><path fill="#4af0a9" d="M419.5 180.2l4.8-1.1-3.9-.7-4.8 1.1z"/><path fill="#4af099" d="M423.4 181.1l4.9-1.2-4-.8-4.8 1.1z"/><path fill="#4af08a" d="M427.4 182.2l4.9-1.4-4-.9-4.9 1.2z"/><path fill="#49f07c" d="M431.4 183.3l4.9-1.4-4-1.1-4.9 1.4z"/><path fill="#49f06e" d="M435.4 184.6l4.9-1.4-4-1.3-4.9 1.4z"/><path fill="#49f061" d="M439.5 186.1l4.8-1.5-4-1.4-4.9 1.4z"/><path fill="#48f054" d="M443.5 187.7l4.9-1.6-4.1-1.5-4.8 1.5z"/><path fill="#48f049" d="M447.6 189.4l4.8-1.7-4-1.6-4.9 1.6z"/><path fill="#47f047" d="M451.7 191.3l4.8-1.8-4.1-1.8-4.8 1.7z"/><path fill="#49f047" d="M455.8 193.2l4.8-1.8-4.1-1.9-4.8 1.8z"/><path fill="#4cf047" d="M459.9 195.4l4.9-1.9-4.2-2.1-4.8 1.8z"/><path fill="#4ff046" d="M464 197.6l4.9-1.9-4.1-2.2-4.9 1.9z"/><path fill="#52f046" d="M468.1 200l4.9-2-4.1-2.3-4.9 1.9z"/><path fill="#55f045" d="M472.3 202.5l4.9-2.1-4.2-2.4-4.9 2z"/><path fill="#57f045" d="M476.4 205.1l4.9-2.1-4.1-2.6-4.9 2.1z"/><path fill="#59f045" d="M480.6 207.8l4.9-2.1-4.2-2.7-4.9 2.1z"/><path fill="#5bf044" d="M484.7 210.7l4.9-2.2-4.1-2.8-4.9 2.1z"/><path fill="#5df044" d="M488.9 213.6l4.9-2.2-4.2-2.9-4.9 2.2z"/><path fill="#5ef044" d="M493.1 216.7l4.8-2.3-4.1-3-4.9 2.2z"/><path fill="#5ff043" d="M497.2 219.9l4.9-2.3-4.2-3.2-4.8 2.3z"/><path fill="#60f043" d="M501.4 223.2l4.9-2.4-4.2-3.2-4.9 2.3z"/><path fill="#60f042" d="M505.5 226.7l4.9-2.5-4.1-3.4-4.9 2.4z"/><path fill="#60f042" d="M509.7 230.2l4.9-2.5-4.2-3.5-4.9 2.5z"/><path fill="#61f042" d="M513.8 233.8l4.9-2.6-4.1-3.5-4.9 2.5z"/><path fill="#60f041" d="M518 237.5l4.9-2.6-4.2-3.7-4.9 2.6z"/><path fill="#60f041" d="M522.1 241.3l4.9-2.6-4.1-3.8-4.9 2.6z"/><path fill="#5ff040" d="M526.3 245.2l4.8-2.6-4.1-3.9-4.9 2.6z"/><path fill="#5ef040" d="M530.4 249.2l4.9-2.7-4.2-3.9-4.8 2.6z"/><path fill="#5df040" d="M534.5 253.3l4.9-2.8-4.1-4-4.9 2.7z"/><path fill="#5cf03f" d="M538.6 257.5l4.9-2.8-4.1-4.2-4.9 2.8z"/><path fill="#5af03f" d="M542.7 261.7l4.9-2.8-4.1-4.2-4.9 2.8z"/><path fill="#59f03f" d="M546.8 266.1l4.9-2.9-4.1-4.3-4.9 2.8z"/><path fill="#57f03e" d="M550.9 270.5l4.8-2.9-4-4.4-4.9 2.9z"/><path fill="#54f03e" d="M554.9 274.9l4.9-2.9-4.1-4.4-4.8 2.9z"/><path fill="#52f03d" d="M559 279.5l4.8-3-4-4.5-4.9 2.9z"/><path fill="#50f03d" d="M563 284.1l4.9-3-4.1-4.6-4.8 3z"/><path fill="#4df03d" d="M567 288.8l4.9-3-4-4.7-4.9 3z"/><path fill="#4af03c" d="M571 293.6l4.9-3.1-4-4.7-4.9 3z"/><path fill="#47f03c" d="M575 298.4l4.9-3.1-4-4.8-4.9 3.1z"/><path fill="#43f03b" d="M579 303.3l4.8-3.1-3.9-4.9-4.9 3.1z"/><path fill="#40f03b" d="M582.9 308.2l4.9-3.1-4-4.9-4.8 3.1z"/><path fill="#3cf03b" d="M586.8 313.2l4.9-3.1-3.9-5-4.9 3.1z"/><path fill="#3af03a" d="M590.7 318.3l4.9-3.1-3.9-5.1-4.9 3.1z"/><path fill="#3af03a" d="M594.6 323.4l4.9-3.1-3.9-5.1-4.9 3.1z"/><path fill="#3af040" d="M598.5 328.6l4.9-3.1-3.9-5.2-4.9 3.1z"/><path fill="#39f04a" d="M602.4 333.8l4.8-3.1-3.8-5.2-4.9 3.1z"/><path fill="#39f054" d="M606.2 339.1l4.8-3.1-3.8-5.3-4.8 3.1z"/><path fill="#38f05e" d="M610 344.4l4.8-3.1-3.8-5.3-4.8 3.1z"/><path fill="#38f069" d="M613.8 349.8l4.8-3.1-3.8-5.4-4.8 3.1z"/><path fill="#4cf0b0" d="M410.7 180.7l4.9-1.2-3.9-.5-4.9 1.1z"/><path fill="#4cf0a0" d="M414.6 181.5l4.9-1.3-3.9-.7-4.9 1.2z"/><path fill="#4cf091" d="M418.6 182.4l4.8-1.3-3.9-.9-4.9 1.3z"/><path fill="#4bf082" d="M422.6 183.5l4.8-1.3-4-1.1-4.8 1.3z"/><path fill="#4bf074" d="M426.6 184.8l4.8-1.5-4-1.1-4.8 1.3z"/><path fill="#4af067" d="M430.6 186.2l4.8-1.6-4-1.3-4.8 1.5z"/><path fill="#4af05a" d="M434.6 187.7l4.9-1.6-4.1-1.5-4.8 1.6z"/><path fill="#4af04e" d="M438.6 189.3l4.9-1.6-4-1.6-4.9 1.6z"/><path fill="#49f049" d="M442.7 191.1l4.9-1.7-4.1-1.7-4.9 1.6z"/><path fill="#49f049" d="M446.8 193l4.9-1.7-4.1-1.9-4.9 1.7z"/><path fill="#4df048" d="M450.9 195.1l4.9-1.9-4.1-1.9-4.9 1.7z"/><path fill="#50f048" d="M455 197.2l4.9-1.8-4.1-2.2-4.9 1.9z"/><path fill="#53f048" d="M459.1 199.5l4.9-1.9-4.1-2.2-4.9 1.8z"/><path fill="#56f047" d="M463.3 202l4.8-2-4.1-2.4-4.9 1.9z"/><path fill="#59f047" d="M467.4 204.5l4.9-2-4.2-2.5-4.8 2z"/><path fill="#5bf047" d="M471.5 207.2l4.9-2.1-4.1-2.6-4.9 2z"/><path fill="#5df046" d="M475.7 210l4.9-2.2-4.2-2.7-4.9 2.1z"/><path fill="#5ef046" d="M479.8 212.9l4.9-2.2-4.1-2.9-4.9 2.2z"/><path fill="#60f045" d="M484 215.9l4.9-2.3-4.2-2.9-4.9 2.2z"/><path fill="#61f045" d="M488.2 219.1l4.9-2.4-4.2-3.1-4.9 2.3z"/><path fill="#62f045" d="M492.3 222.3l4.9-2.4-4.1-3.2-4.9 2.4z"/><path fill="#63f044" d="M496.5 225.7l4.9-2.5-4.2-3.3-4.9 2.4z"/><path fill="#63f044" d="M500.6 229.2l4.9-2.5-4.1-3.5-4.9 2.5z"/><path fill="#63f043" d="M504.8 232.7l4.9-2.5-4.2-3.5-4.9 2.5z"/><path fill="#63f043" d="M508.9 236.4l4.9-2.6-4.1-3.6-4.9 2.5z"/><path fill="#63f043" d="M513.1 240.2l4.9-2.7-4.2-3.7-4.9 2.6z"/><path fill="#62f042" d="M517.2 244l4.9-2.7-4.1-3.8-4.9 2.7z"/><path fill="#62f042" d="M521.4 248l4.9-2.8-4.2-3.9-4.9 2.7z"/><path fill="#61f042" d="M525.5 252l4.9-2.8-4.1-4-4.9 2.8z"/><path fill="#60f041" d="M529.6 256.1l4.9-2.8-4.1-4.1-4.9 2.8z"/><path fill="#5ef041" d="M533.7 260.3l4.9-2.8-4.1-4.2-4.9 2.8z"/><path fill="#5df040" d="M537.8 264.6l4.9-2.9-4.1-4.2-4.9 2.8z"/><path fill="#5bf040" d="M541.9 269l4.9-2.9-4.1-4.4-4.9 2.9z"/><path fill="#59f040" d="M546 273.4l4.9-2.9-4.1-4.4-4.9 2.9z"/><path fill="#57f03f" d="M550 277.9l4.9-3-4-4.4-4.9 2.9z"/><path fill="#54f03f" d="M554.1 282.5l4.9-3-4.1-4.6-4.9 3z"/><path fill="#52f03e" d="M558.1 287.1l4.9-3-4-4.6-4.9 3z"/><path fill="#4ff03e" d="M562.1 291.8l4.9-3-4-4.7-4.9 3z"/><path fill="#4cf03e" d="M566.1 296.6l4.9-3-4-4.8-4.9 3z"/><path fill="#49f03d" d="M570.1 301.5l4.9-3.1-4-4.8-4.9 3z"/><path fill="#45f03d" d="M574.1 306.4l4.9-3.1-4-4.9-4.9 3.1z"/><path fill="#42f03d" d="M578 311.3l4.9-3.1-3.9-4.9-4.9 3.1z"/><path fill="#3ef03c" d="M582 316.3l4.8-3.1-3.9-5-4.9 3.1z"/><path fill="#3cf03c" d="M585.9 321.4l4.8-3.1-3.9-5.1-4.8 3.1z"/><path fill="#3bf03b" d="M589.8 326.5l4.8-3.1-3.9-5.1-4.8 3.1z"/><path fill="#3bf040" d="M593.7 331.7l4.8-3.1-3.9-5.2-4.8 3.1z"/><path fill="#3bf04a" d="M597.5 336.9l4.9-3.1-3.9-5.2-4.8 3.1z"/><path fill="#3af053" d="M601.4 342.2l4.8-3.1-3.8-5.3-4.9 3.1z"/><path fill="#3af05e" d="M605.2 347.6l4.8-3.2-3.8-5.3-4.8 3.1z"/><path fill="#39f068" d="M609 352.9l4.8-3.1-3.8-5.4-4.8 3.2z"/><path fill="#4ef0a8" d="M405.9 181.9l4.8-1.2-3.9-.6-4.8 1.1z"/><path fill="#4df098" d="M409.8 182.8l4.8-1.3-3.9-.8-4.8 1.2z"/><path fill="#4df089" d="M413.7 183.8l4.9-1.4-4-.9-4.8 1.3z"/><path fill="#4df07b" d="M417.7 185l4.9-1.5-4-1.1-4.9 1.4z"/><path fill="#4cf06d" d="M421.7 186.3l4.9-1.5-4-1.3-4.9 1.5z"/><path fill="#4cf060" d="M425.7 187.7l4.9-1.5-4-1.4-4.9 1.5z"/><path fill="#4bf054" d="M429.7 189.3l4.9-1.6-4-1.5-4.9 1.5z"/><path fill="#4bf04b" d="M433.8 191l4.8-1.7-4-1.6-4.9 1.6z"/><path fill="#4bf04b" d="M437.8 192.8l4.9-1.7-4.1-1.8-4.8 1.7z"/><path fill="#4ef04a" d="M441.9 194.8l4.9-1.8-4.1-1.9-4.9 1.7z"/><path fill="#51f04a" d="M446 196.9l4.9-1.8-4.1-2.1-4.9 1.8z"/><path fill="#54f049" d="M450.1 199.1l4.9-1.9-4.1-2.1-4.9 1.8z"/><path fill="#57f049" d="M454.2 201.5l4.9-2-4.1-2.3-4.9 1.9z"/><path fill="#5af049" d="M458.4 204l4.9-2-4.2-2.5-4.9 2z"/><path fill="#5cf048" d="M462.5 206.6l4.9-2.1-4.1-2.5-4.9 2z"/><path fill="#5ef048" d="M466.6 209.3l4.9-2.1-4.1-2.7-4.9 2.1z"/><path fill="#60f048" d="M470.8 212.2l4.9-2.2-4.2-2.8-4.9 2.1z"/><path fill="#62f047" d="M474.9 215.1l4.9-2.2-4.1-2.9-4.9 2.2z"/><path fill="#63f047" d="M479.1 218.2l4.9-2.3-4.2-3-4.9 2.2z"/><path fill="#64f046" d="M483.3 221.4l4.9-2.3-4.2-3.2-4.9 2.3z"/><path fill="#65f046" d="M487.4 224.7l4.9-2.4-4.1-3.2-4.9 2.3z"/><path fill="#65f046" d="M491.6 228.1l4.9-2.4-4.2-3.4-4.9 2.4z"/><path fill="#66f045" d="M495.7 231.7l4.9-2.5-4.1-3.5-4.9 2.4z"/><path fill="#66f045" d="M499.9 235.3l4.9-2.6-4.2-3.5-4.9 2.5z"/><path fill="#66f045" d="M504 239l4.9-2.6-4.1-3.7-4.9 2.6z"/><path fill="#65f044" d="M508.2 242.8l4.9-2.6-4.2-3.8-4.9 2.6z"/><path fill="#65f044" d="M512.3 246.7l4.9-2.7-4.1-3.8-4.9 2.6z"/><path fill="#64f043" d="M516.5 250.7l4.9-2.7-4.2-4-4.9 2.7z"/><path fill="#63f043" d="M520.6 254.8l4.9-2.8-4.1-4-4.9 2.7z"/><path fill="#62f043" d="M524.7 259l4.9-2.9-4.1-4.1-4.9 2.8z"/><path fill="#60f042" d="M528.8 263.2l4.9-2.9-4.1-4.2-4.9 2.9z"/><path fill="#5ff042" d="M532.9 267.5l4.9-2.9-4.1-4.3-4.9 2.9z"/><path fill="#5df041" d="M537 271.9l4.9-2.9-4.1-4.4-4.9 2.9z"/><path fill="#5bf041" d="M541.1 276.4l4.9-3-4.1-4.4-4.9 2.9z"/><path fill="#59f041" d="M545.1 280.9l4.9-3-4-4.5-4.9 3z"/><path fill="#56f040" d="M549.2 285.5l4.9-3-4.1-4.6-4.9 3z"/><path fill="#53f040" d="M553.2 290.2l4.9-3.1-4-4.6-4.9 3z"/><path fill="#51f040" d="M557.2 294.9l4.9-3.1-4-4.7-4.9 3.1z"/><path fill="#4ef03f" d="M561.2 299.7l4.9-3.1-4-4.8-4.9 3.1z"/><path fill="#4bf03f" d="M565.2 304.6l4.9-3.1-4-4.9-4.9 3.1z"/><path fill="#47f03e" d="M569.2 309.5l4.9-3.1-4-4.9-4.9 3.1z"/><path fill="#44f03e" d="M573.2 314.5l4.8-3.2-3.9-4.9-4.9 3.1z"/><path fill="#40f03e" d="M577.1 319.5l4.9-3.2-4-5-4.8 3.2z"/><path fill="#3df03d" d="M581 324.6l4.9-3.2-3.9-5.1-4.9 3.2z"/><path fill="#3df03d" d="M584.9 329.7l4.9-3.2-3.9-5.1-4.9 3.2z"/><path fill="#3cf040" d="M588.8 334.9l4.9-3.2-3.9-5.2-4.9 3.2z"/><path fill="#3cf04a" d="M592.7 340.1l4.8-3.2-3.8-5.2-4.9 3.2z"/><path fill="#3cf053" d="M596.5 345.4l4.9-3.2-3.9-5.3-4.8 3.2z"/><path fill="#3bf05d" d="M600.3 350.7l4.9-3.1-3.8-5.4-4.9 3.2z"/><path fill="#3bf068" d="M604.1 356.1l4.9-3.2-3.8-5.3-4.9 3.1z"/><path fill="#4ff0a0" d="M401 183.1l4.9-1.2-3.9-.7-4.9 1.2z"/><path fill="#4ff090" d="M404.9 184.1l4.9-1.3-3.9-.9-4.9 1.2z"/><path fill="#4ef082" d="M408.9 185.2l4.8-1.4-3.9-1-4.9 1.3z"/><path fill="#4ef074" d="M412.8 186.4l4.9-1.4-4-1.2-4.8 1.4z"/><path fill="#4ef066" d="M416.8 187.8l4.9-1.5-4-1.3-4.9 1.4z"/><path fill="#4df05a" d="M420.8 189.3l4.9-1.6-4-1.4-4.9 1.5z"/><path fill="#4df04e" d="M424.8 191l4.9-1.7-4-1.6-4.9 1.6z"/><path fill="#4cf04c" d="M428.9 192.7l4.9-1.7-4.1-1.7-4.9 1.7z"/><path fill="#4ef04c" d="M432.9 194.6l4.9-1.8-4-1.8-4.9 1.7z"/><path fill="#52f04c" d="M437 196.6l4.9-1.8-4.1-2-4.9 1.8z"/><path fill="#55f04b" d="M441.1 198.8l4.9-1.9-4.1-2.1-4.9 1.8z"/><path fill="#58f04b" d="M445.2 201.1l4.9-2-4.1-2.2-4.9 1.9z"/><path fill="#5bf04b" d="M449.3 203.5l4.9-2-4.1-2.4-4.9 2z"/><path fill="#5df04a" d="M453.5 206l4.9-2-4.2-2.5-4.9 2z"/><path fill="#60f04a" d="M457.6 208.7l4.9-2.1-4.1-2.6-4.9 2z"/><path fill="#62f049" d="M461.7 211.5l4.9-2.2-4.1-2.7-4.9 2.1z"/><path fill="#63f049" d="M465.9 214.4l4.9-2.2-4.2-2.9-4.9 2.2z"/><path fill="#65f049" d="M470 217.4l4.9-2.3-4.1-2.9-4.9 2.2z"/><path fill="#66f048" d="M474.2 220.5l4.9-2.3-4.2-3.1-4.9 2.3z"/><path fill="#67f048" d="M478.4 223.8l4.9-2.4-4.2-3.2-4.9 2.3z"/><path fill="#68f047" d="M482.5 227.2l4.9-2.5-4.1-3.3-4.9 2.4z"/><path fill="#68f047" d="M486.7 230.6l4.9-2.5-4.2-3.4-4.9 2.5z"/><path fill="#68f047" d="M490.8 234.2l4.9-2.5-4.1-3.6-4.9 2.5z"/><path fill="#68f046" d="M495 237.9l4.9-2.6-4.2-3.6-4.9 2.5z"/><path fill="#68f046" d="M499.1 241.6l4.9-2.6-4.1-3.7-4.9 2.6z"/><path fill="#68f046" d="M503.3 245.5l4.9-2.7-4.2-3.8-4.9 2.6z"/><path fill="#67f045" d="M507.4 249.4l4.9-2.7-4.1-3.9-4.9 2.7z"/><path fill="#66f045" d="M511.5 253.5l5-2.8-4.2-4-4.9 2.7z"/><path fill="#65f044" d="M515.7 257.6l4.9-2.8-4.1-4.1-5 2.8z"/><path fill="#64f044" d="M519.8 261.8l4.9-2.8-4.1-4.2-4.9 2.8z"/><path fill="#62f044" d="M523.9 266.1l4.9-2.9-4.1-4.2-4.9 2.8z"/><path fill="#61f043" d="M528 270.4l4.9-2.9-4.1-4.3-4.9 2.9z"/><path fill="#5ff043" d="M532.1 274.9l4.9-3-4.1-4.4-4.9 2.9z"/><path fill="#5df042" d="M536.2 279.4l4.9-3-4.1-4.5-4.9 3z"/><path fill="#5af042" d="M540.2 283.9l4.9-3-4-4.5-4.9 3z"/><path fill="#58f042" d="M544.3 288.6l4.9-3.1-4.1-4.6-4.9 3z"/><path fill="#55f041" d="M548.3 293.3l4.9-3.1-4-4.7-4.9 3.1z"/><path fill="#53f041" d="M552.3 298l4.9-3.1-4-4.7-4.9 3.1z"/><path fill="#50f041" d="M556.3 302.8l4.9-3.1-4-4.8-4.9 3.1z"/><path fill="#4cf040" d="M560.3 307.7l4.9-3.1-4-4.9-4.9 3.1z"/><path fill="#49f040" d="M564.3 312.6l4.9-3.1-4-4.9-4.9 3.1z"/><path fill="#46f03f" d="M568.3 317.6l4.9-3.1-4-5-4.9 3.1z"/><path fill="#42f03f" d="M572.2 322.7l4.9-3.2-3.9-5-4.9 3.1z"/><path fill="#3ff03f" d="M576.1 327.7l4.9-3.1-3.9-5.1-4.9 3.2z"/><path fill="#3ef03e" d="M580.1 332.9l4.8-3.2-3.9-5.1-4.9 3.1z"/><path fill="#3ef041" d="M583.9 338.1l4.9-3.2-3.9-5.2-4.8 3.2z"/><path fill="#3ef04a" d="M587.8 343.3l4.9-3.2-3.9-5.2-4.9 3.2z"/><path fill="#3df053" d="M591.7 348.6l4.8-3.2-3.8-5.3-4.9 3.2z"/><path fill="#3df05d" d="M595.5 353.9l4.8-3.2-3.8-5.3-4.8 3.2z"/><path fill="#3cf068" d="M599.3 359.3l4.8-3.2-3.8-5.4-4.8 3.2z"/><path fill="#51f098" d="M396.1 184.5l4.9-1.4-3.9-.7-4.9 1.3z"/><path fill="#50f089" d="M400 185.5l4.9-1.4-3.9-1-4.9 1.4z"/><path fill="#50f07b" d="M404 186.7l4.9-1.5-4-1.1-4.9 1.4z"/><path fill="#4ff06d" d="M407.9 188l4.9-1.6-3.9-1.2-4.9 1.5z"/><path fill="#4ff060" d="M411.9 189.4l4.9-1.6-4-1.4-4.9 1.6z"/><path fill="#4ff054" d="M415.9 191l4.9-1.7-4-1.5-4.9 1.6z"/><path fill="#4ef04e" d="M419.9 192.7l4.9-1.7-4-1.7-4.9 1.7z"/><path fill="#4ff04e" d="M424 194.5l4.9-1.8-4.1-1.7-4.9 1.7z"/><path fill="#52f04e" d="M428 196.4l4.9-1.8-4-1.9-4.9 1.8z"/><path fill="#56f04d" d="M432.1 198.5l4.9-1.9-4.1-2-4.9 1.8z"/><path fill="#59f04d" d="M436.2 200.7l4.9-1.9-4.1-2.2-4.9 1.9z"/><path fill="#5cf04c" d="M440.3 203l4.9-1.9-4.1-2.3-4.9 1.9z"/><path fill="#5ff04c" d="M444.4 205.5l4.9-2-4.1-2.4-4.9 1.9z"/><path fill="#61f04c" d="M448.6 208.1l4.9-2.1-4.2-2.5-4.9 2z"/><path fill="#63f04b" d="M452.7 210.8l4.9-2.1-4.1-2.7-4.9 2.1z"/><path fill="#65f04b" d="M456.8 213.6l4.9-2.1-4.1-2.8-4.9 2.1z"/><path fill="#67f04a" d="M461 216.6l4.9-2.2-4.2-2.9-4.9 2.1z"/><path fill="#68f04a" d="M465.1 219.7l4.9-2.3-4.1-3-4.9 2.2z"/><path fill="#69f04a" d="M469.3 222.9l4.9-2.4-4.2-3.1-4.9 2.3z"/><path fill="#6af049" d="M473.4 226.2l5-2.4-4.2-3.3-4.9 2.4z"/><path fill="#6bf049" d="M477.6 229.6l4.9-2.4-4.1-3.4-5 2.4z"/><path fill="#6bf049" d="M481.8 233.1l4.9-2.5-4.2-3.4-4.9 2.4z"/><path fill="#6bf048" d="M485.9 236.7l4.9-2.5-4.1-3.6-4.9 2.5z"/><path fill="#6bf048" d="M490.1 240.5l4.9-2.6-4.2-3.7-4.9 2.5z"/><path fill="#6bf047" d="M494.2 244.3l4.9-2.7-4.1-3.7-4.9 2.6z"/><path fill="#6af047" d="M498.4 248.2l4.9-2.7-4.2-3.9-4.9 2.7z"/><path fill="#69f047" d="M502.5 252.2l4.9-2.8-4.1-3.9-4.9 2.7z"/><path fill="#68f046" d="M506.6 256.3l4.9-2.8-4.1-4.1-4.9 2.8z"/><path fill="#67f046" d="M510.8 260.4l4.9-2.8-4.2-4.1-4.9 2.8z"/><path fill="#66f045" d="M514.9 264.7l4.9-2.9-4.1-4.2-4.9 2.8z"/><path fill="#64f045" d="M519 269l4.9-2.9-4.1-4.3-4.9 2.9z"/><path fill="#63f045" d="M523.1 273.4l4.9-3-4.1-4.3-4.9 2.9z"/><path fill="#61f044" d="M527.2 277.9l4.9-3-4.1-4.5-4.9 3z"/><path fill="#5ff044" d="M531.2 282.4l5-3-4.1-4.5-4.9 3z"/><path fill="#5cf044" d="M535.3 287l4.9-3.1-4-4.5-5 3z"/><path fill="#5af043" d="M539.4 291.6l4.9-3-4.1-4.7-4.9 3.1z"/><path fill="#57f043" d="M543.4 296.4l4.9-3.1-4-4.7-4.9 3z"/><path fill="#54f042" d="M547.4 301.1l4.9-3.1-4-4.7-4.9 3.1z"/><path fill="#51f042" d="M551.4 306l4.9-3.2-4-4.8-4.9 3.1z"/><path fill="#4ef042" d="M555.4 310.9l4.9-3.2-4-4.9-4.9 3.2z"/><path fill="#4bf041" d="M559.4 315.8l4.9-3.2-4-4.9-4.9 3.2z"/><path fill="#47f041" d="M563.4 320.8l4.9-3.2-4-5-4.9 3.2z"/><path fill="#44f040" d="M567.3 325.9l4.9-3.2-3.9-5.1-4.9 3.2z"/><path fill="#40f040" d="M571.3 331l4.8-3.3-3.9-5-4.9 3.2z"/><path fill="#40f040" d="M575.2 336.1l4.9-3.2-4-5.2-4.8 3.3z"/><path fill="#3ff041" d="M579.1 341.3l4.8-3.2-3.8-5.2-4.9 3.2z"/><path fill="#3ff04a" d="M583 346.6l4.8-3.3-3.9-5.2-4.8 3.2z"/><path fill="#3ff054" d="M586.8 351.8l4.9-3.2-3.9-5.3-4.8 3.3z"/><path fill="#3ef05d" d="M590.7 357.2l4.8-3.3-3.8-5.3-4.9 3.2z"/><path fill="#3ef068" d="M594.5 362.5l4.8-3.2-3.8-5.4-4.8 3.3z"/><path fill="#52f091" d="M391.2 185.9l4.9-1.4-3.9-.8-4.8 1.4z"/><path fill="#52f082" d="M395.1 186.9l4.9-1.4-3.9-1-4.9 1.4z"/><path fill="#51f074" d="M399.1 188.2l4.9-1.5-4-1.2-4.9 1.4z"/><path fill="#51f067" d="M403 189.5l4.9-1.5-3.9-1.3-4.9 1.5z"/><path fill="#50f05a" d="M407 191l4.9-1.6-4-1.4-4.9 1.5z"/><path fill="#50f050" d="M411 192.6l4.9-1.6-4-1.6-4.9 1.6z"/><path fill="#50f050" d="M415 194.4l4.9-1.7-4-1.7-4.9 1.6z"/><path fill="#53f04f" d="M419.1 196.3l4.9-1.8-4.1-1.8-4.9 1.7z"/><path fill="#56f04f" d="M423.1 198.3l4.9-1.9-4-1.9-4.9 1.8z"/><path fill="#5af04f" d="M427.2 200.4l4.9-1.9-4.1-2.1-4.9 1.9z"/><path fill="#5df04e" d="M431.3 202.6l4.9-1.9-4.1-2.2-4.9 1.9z"/><path fill="#60f04e" d="M435.4 205l4.9-2-4.1-2.3-4.9 1.9z"/><path fill="#62f04d" d="M439.5 207.5l4.9-2-4.1-2.5-4.9 2z"/><path fill="#64f04d" d="M443.6 210.1l5-2-4.2-2.6-4.9 2z"/><path fill="#67f04d" d="M447.8 212.9l4.9-2.1-4.1-2.7-5 2z"/><path fill="#68f04c" d="M451.9 215.8l4.9-2.2-4.1-2.8-4.9 2.1z"/><path fill="#6af04c" d="M456.1 218.8l4.9-2.2-4.2-3-4.9 2.2z"/><path fill="#6bf04c" d="M460.2 222l4.9-2.3-4.1-3.1-4.9 2.2z"/><path fill="#6cf04b" d="M464.4 225.2l4.9-2.3-4.2-3.2-4.9 2.3z"/><path fill="#6df04b" d="M468.5 228.6l4.9-2.4-4.1-3.3-4.9 2.3z"/><path fill="#6df04a" d="M472.7 232l4.9-2.4-4.2-3.4-4.9 2.4z"/><path fill="#6ef04a" d="M476.8 235.6l5-2.5-4.2-3.5-4.9 2.4z"/><path fill="#6ef04a" d="M481 239.3l4.9-2.6-4.1-3.6-5 2.5z"/><path fill="#6ef049" d="M485.1 243.1l5-2.6-4.2-3.8-4.9 2.6z"/><path fill="#6df049" d="M489.3 246.9l4.9-2.6-4.1-3.8-5 2.6z"/><path fill="#6cf048" d="M493.4 250.9l5-2.7-4.2-3.9-4.9 2.6z"/><path fill="#6cf048" d="M497.6 254.9l4.9-2.7-4.1-4-5 2.7z"/><path fill="#6bf048" d="M501.7 259.1l4.9-2.8-4.1-4.1-4.9 2.7z"/><path fill="#69f047" d="M505.8 263.3l5-2.9-4.2-4.1-4.9 2.8z"/><path fill="#68f047" d="M510 267.6l4.9-2.9-4.1-4.3-5 2.9z"/><path fill="#66f047" d="M514.1 271.9l4.9-2.9-4.1-4.3-4.9 2.9z"/><path fill="#64f046" d="M518.2 276.4l4.9-3-4.1-4.4-4.9 2.9z"/><path fill="#62f046" d="M522.3 280.9l4.9-3-4.1-4.5-4.9 3z"/><path fill="#60f045" d="M526.3 285.4l4.9-3-4-4.5-4.9 3z"/><path fill="#5ef045" d="M530.4 290.1l4.9-3.1-4.1-4.6-4.9 3z"/><path fill="#5bf045" d="M534.5 294.7l4.9-3.1-4.1-4.6-4.9 3.1z"/><path fill="#59f044" d="M538.5 299.5l4.9-3.1-4-4.8-4.9 3.1z"/><path fill="#56f044" d="M542.5 304.3l4.9-3.2-4-4.7-4.9 3.1z"/><path fill="#53f043" d="M546.5 309.2l4.9-3.2-4-4.9-4.9 3.2z"/><path fill="#50f043" d="M550.5 314.1l4.9-3.2-4-4.9-4.9 3.2z"/><path fill="#4cf043" d="M554.5 319l4.9-3.2-4-4.9-4.9 3.2z"/><path fill="#49f042" d="M558.5 324l4.9-3.2-4-5-4.9 3.2z"/><path fill="#45f042" d="M562.5 329.1l4.8-3.2-3.9-5.1-4.9 3.2z"/><path fill="#42f042" d="M566.4 334.2l4.9-3.2-4-5.1-4.8 3.2z"/><path fill="#41f041" d="M570.3 339.4l4.9-3.3-3.9-5.1-4.9 3.2z"/><path fill="#41f042" d="M574.2 344.6l4.9-3.3-3.9-5.2-4.9 3.3z"/><path fill="#40f04b" d="M578.1 349.8l4.9-3.2-3.9-5.3-4.9 3.3z"/><path fill="#40f054" d="M582 355.1l4.8-3.3-3.8-5.2-4.9 3.2z"/><path fill="#40f05e" d="M585.8 360.4l4.9-3.2-3.9-5.4-4.8 3.3z"/><path fill="#3ff068" d="M589.6 365.8l4.9-3.3-3.8-5.3-4.9 3.2z"/><path fill="#53f08a" d="M386.3 187.3l4.9-1.4-3.8-.8-4.9 1.4z"/><path fill="#53f07b" d="M390.2 188.4l4.9-1.5-3.9-1-4.9 1.4z"/><path fill="#53f06e" d="M394.2 189.7l4.9-1.5-4-1.3-4.9 1.5z"/><path fill="#52f061" d="M398.1 191.1l4.9-1.6-3.9-1.3-4.9 1.5z"/><path fill="#52f055" d="M402.1 192.7l4.9-1.7-4-1.5-4.9 1.6z"/><path fill="#52f052" d="M406.1 194.4l4.9-1.8-4-1.6-4.9 1.7z"/><path fill="#53f051" d="M410.1 196.2l4.9-1.8-4-1.8-4.9 1.8z"/><path fill="#57f051" d="M414.2 198.1l4.9-1.8-4.1-1.9-4.9 1.8z"/><path fill="#5af050" d="M418.2 200.1l4.9-1.8-4-2-4.9 1.8z"/><path fill="#5df050" d="M422.3 202.3l4.9-1.9-4.1-2.1-4.9 1.8z"/><path fill="#60f050" d="M426.4 204.6l4.9-2-4.1-2.2-4.9 1.9z"/><path fill="#63f04f" d="M430.5 207l4.9-2-4.1-2.4-4.9 2z"/><path fill="#66f04f" d="M434.6 209.5l4.9-2-4.1-2.5-4.9 2z"/><path fill="#68f04e" d="M438.7 212.2l4.9-2.1-4.1-2.6-4.9 2z"/><path fill="#6af04e" d="M442.9 215.1l4.9-2.2-4.2-2.8-4.9 2.1z"/><path fill="#6bf04e" d="M447 218l4.9-2.2-4.1-2.9-4.9 2.2z"/><path fill="#6df04d" d="M451.1 221.1l5-2.3-4.2-3-4.9 2.2z"/><path fill="#6ef04d" d="M455.3 224.3l4.9-2.3-4.1-3.2-5 2.3z"/><path fill="#6ff04d" d="M459.4 227.6l5-2.4-4.2-3.2-4.9 2.3z"/><path fill="#70f04c" d="M463.6 231l4.9-2.4-4.1-3.4-5 2.4z"/><path fill="#70f04c" d="M467.8 234.5l4.9-2.5-4.2-3.4-4.9 2.4z"/><path fill="#70f04b" d="M471.9 238.1l4.9-2.5-4.1-3.6-4.9 2.5z"/><path fill="#70f04b" d="M476.1 241.9l4.9-2.6-4.2-3.7-4.9 2.5z"/><path fill="#70f04b" d="M480.2 245.7l4.9-2.6-4.1-3.8-4.9 2.6z"/><path fill="#6ff04a" d="M484.4 249.6l4.9-2.7-4.2-3.8-4.9 2.6z"/><path fill="#6ff04a" d="M488.5 253.6l4.9-2.7-4.1-4-4.9 2.7z"/><path fill="#6ef049" d="M492.7 257.7l4.9-2.8-4.2-4-4.9 2.7z"/><path fill="#6df049" d="M496.8 261.9l4.9-2.8-4.1-4.2-4.9 2.8z"/><path fill="#6bf049" d="M500.9 266.2l4.9-2.9-4.1-4.2-4.9 2.8z"/><path fill="#6af048" d="M505 270.5l5-2.9-4.2-4.3-4.9 2.9z"/><path fill="#68f048" d="M509.1 274.9l5-3-4.1-4.3-5 2.9z"/><path fill="#66f048" d="M513.2 279.4l5-3-4.1-4.5-5 3z"/><path fill="#64f047" d="M517.3 283.9l5-3-4.1-4.5-5 3z"/><path fill="#62f047" d="M521.4 288.5l4.9-3.1-4-4.5-5 3z"/><path fill="#60f046" d="M525.5 293.2l4.9-3.1-4.1-4.7-4.9 3.1z"/><path fill="#5df046" d="M529.5 297.9l5-3.2-4.1-4.6-4.9 3.1z"/><path fill="#5af046" d="M533.6 302.6l4.9-3.1-4-4.8-5 3.2z"/><path fill="#58f045" d="M537.6 307.5l4.9-3.2-4-4.8-4.9 3.1z"/><path fill="#55f045" d="M541.6 312.4l4.9-3.2-4-4.9-4.9 3.2z"/><path fill="#51f045" d="M545.6 317.3l4.9-3.2-4-4.9-4.9 3.2z"/><path fill="#4ef044" d="M549.6 322.3l4.9-3.3-4-4.9-4.9 3.2z"/><path fill="#4bf044" d="M553.6 327.3l4.9-3.3-4-5-4.9 3.3z"/><path fill="#47f043" d="M557.6 332.4l4.9-3.3-4-5.1-4.9 3.3z"/><path fill="#43f043" d="M561.5 337.5l4.9-3.3-3.9-5.1-4.9 3.3z"/><path fill="#43f043" d="M565.4 342.6l4.9-3.2-3.9-5.2-4.9 3.3z"/><path fill="#42f043" d="M569.3 347.9l4.9-3.3-3.9-5.2-4.9 3.2z"/><path fill="#42f04c" d="M573.2 353.1l4.9-3.3-3.9-5.2-4.9 3.3z"/><path fill="#41f055" d="M577.1 358.4l4.9-3.3-3.9-5.3-4.9 3.3z"/><path fill="#41f05e" d="M581 363.7l4.8-3.3-3.8-5.3-4.9 3.3z"/><path fill="#41f068" d="M584.8 369.1l4.8-3.3-3.8-5.4-4.8 3.3z"/><path fill="#55f083" d="M381.4 188.8l4.9-1.5-3.8-.8-4.9 1.5z"/><path fill="#55f075" d="M385.3 190l4.9-1.6-3.9-1.1-4.9 1.5z"/><path fill="#54f068" d="M389.3 191.3l4.9-1.6-4-1.3-4.9 1.6z"/><path fill="#54f05b" d="M393.2 192.8l4.9-1.7-3.9-1.4-4.9 1.6z"/><path fill="#53f053" d="M397.2 194.4l4.9-1.7-4-1.6-4.9 1.7z"/><path fill="#53f053" d="M401.2 196.1l4.9-1.7-4-1.7-4.9 1.7z"/><path fill="#57f053" d="M405.2 198l4.9-1.8-4-1.8-4.9 1.7z"/><path fill="#5bf052" d="M409.3 199.9l4.9-1.8-4.1-1.9-4.9 1.8z"/><path fill="#5ef052" d="M413.3 202l4.9-1.9-4-2-4.9 1.8z"/><path fill="#61f051" d="M417.4 204.2l4.9-1.9-4.1-2.2-4.9 1.9z"/><path fill="#64f051" d="M421.5 206.5l4.9-1.9-4.1-2.3-4.9 1.9z"/><path fill="#67f051" d="M425.6 209l4.9-2-4.1-2.4-4.9 1.9z"/><path fill="#69f050" d="M429.7 211.6l4.9-2.1-4.1-2.5-4.9 2z"/><path fill="#6bf050" d="M433.8 214.4l4.9-2.2-4.1-2.7-4.9 2.1z"/><path fill="#6df050" d="M437.9 217.2l5-2.1-4.2-2.9-4.9 2.2z"/><path fill="#6ff04f" d="M442.1 220.2l4.9-2.2-4.1-2.9-5 2.1z"/><path fill="#70f04f" d="M446.2 223.3l4.9-2.2-4.1-3.1-4.9 2.2z"/><path fill="#71f04e" d="M450.4 226.6l4.9-2.3-4.2-3.2-4.9 2.2z"/><path fill="#72f04e" d="M454.5 229.9l4.9-2.3-4.1-3.3-4.9 2.3z"/><path fill="#72f04e" d="M458.7 233.4l4.9-2.4-4.2-3.4-4.9 2.3z"/><path fill="#73f04d" d="M462.8 237l5-2.5-4.2-3.5-4.9 2.4z"/><path fill="#73f04d" d="M467 240.6l4.9-2.5-4.1-3.6-5 2.5z"/><path fill="#73f04c" d="M471.1 244.4l5-2.5-4.2-3.8-4.9 2.5z"/><path fill="#72f04c" d="M475.3 248.3l4.9-2.6-4.1-3.8-5 2.5z"/><path fill="#72f04c" d="M479.4 252.3l5-2.7-4.2-3.9-4.9 2.6z"/><path fill="#71f04b" d="M483.6 256.4l4.9-2.8-4.1-4-5 2.7z"/><path fill="#70f04b" d="M487.7 260.5l5-2.8-4.2-4.1-4.9 2.8z"/><path fill="#6ff04b" d="M491.9 264.7l4.9-2.8-4.1-4.2-5 2.8z"/><path fill="#6df04a" d="M496 269.1l4.9-2.9-4.1-4.3-4.9 2.8z"/><path fill="#6cf04a" d="M500.1 273.4l4.9-2.9-4.1-4.3-4.9 2.9z"/><path fill="#6af049" d="M504.2 277.9l4.9-3-4.1-4.4-4.9 2.9z"/><path fill="#68f049" d="M508.3 282.4l4.9-3-4.1-4.5-4.9 3z"/><path fill="#66f049" d="M512.4 287l4.9-3.1-4.1-4.5-4.9 3z"/><path fill="#64f048" d="M516.5 291.6l4.9-3.1-4.1-4.6-4.9 3.1z"/><path fill="#61f048" d="M520.6 296.3l4.9-3.1-4.1-4.7-4.9 3.1z"/><path fill="#5ff047" d="M524.6 301l4.9-3.1-4-4.7-4.9 3.1z"/><path fill="#5cf047" d="M528.7 305.8l4.9-3.2-4.1-4.7-4.9 3.1z"/><path fill="#59f047" d="M532.7 310.7l4.9-3.2-4-4.9-4.9 3.2z"/><path fill="#56f046" d="M536.7 315.6l4.9-3.2-4-4.9-4.9 3.2z"/><path fill="#53f046" d="M540.7 320.5l4.9-3.2-4-4.9-4.9 3.2z"/><path fill="#50f046" d="M544.7 325.5l4.9-3.2-4-5-4.9 3.2z"/><path fill="#4cf045" d="M548.7 330.6l4.9-3.3-4-5-4.9 3.2z"/><path fill="#49f045" d="M552.7 335.7l4.9-3.3-4-5.1-4.9 3.3z"/><path fill="#45f044" d="M556.6 340.8l4.9-3.3-3.9-5.1-4.9 3.3z"/><path fill="#44f044" d="M560.5 346l4.9-3.4-3.9-5.1-4.9 3.3z"/><path fill="#44f044" d="M564.5 351.2l4.8-3.3-3.9-5.3-4.9 3.4z"/><path fill="#43f04d" d="M568.4 356.4l4.8-3.3-3.9-5.2-4.8 3.3z"/><path fill="#43f056" d="M572.2 361.7l4.9-3.3-3.9-5.3-4.8 3.3z"/><path fill="#42f05f" d="M576.1 367.1l4.9-3.4-3.9-5.3-4.9 3.3z"/><path fill="#42f069" d="M579.9 372.4l4.9-3.3-3.8-5.4-4.9 3.4z"/><path fill="#56f07d" d="M376.5 190.4l4.9-1.6-3.8-.8-4.9 1.5z"/><path fill="#56f06f" d="M380.4 191.6l4.9-1.6-3.9-1.2-4.9 1.6z"/><path fill="#56f062" d="M384.4 193l4.9-1.7-4-1.3-4.9 1.6z"/><path fill="#55f056" d="M388.3 194.5l4.9-1.7-3.9-1.5-4.9 1.7z"/><path fill="#55f055" d="M392.3 196.2l4.9-1.8-4-1.6-4.9 1.7z"/><path fill="#57f054" d="M396.3 197.9l4.9-1.8-4-1.7-4.9 1.8z"/><path fill="#5bf054" d="M400.3 199.8l4.9-1.8-4-1.9-4.9 1.8z"/><path fill="#5ef054" d="M404.3 201.8l5-1.9-4.1-1.9-4.9 1.8z"/><path fill="#62f053" d="M408.4 203.9l4.9-1.9-4-2.1-5 1.9z"/><path fill="#65f053" d="M412.4 206.1l5-1.9-4.1-2.2-4.9 1.9z"/><path fill="#68f053" d="M416.5 208.5l5-2-4.1-2.3-5 1.9z"/><path fill="#6af052" d="M420.6 211l5-2-4.1-2.5-5 2z"/><path fill="#6df052" d="M424.7 213.7l5-2.1-4.1-2.6-5 2z"/><path fill="#6ff051" d="M428.9 216.5l4.9-2.1-4.1-2.8-5 2.1z"/><path fill="#70f051" d="M433 219.4l4.9-2.2-4.1-2.8-4.9 2.1z"/><path fill="#72f051" d="M437.1 222.4l5-2.2-4.2-3-4.9 2.2z"/><path fill="#73f050" d="M441.3 225.6l4.9-2.3-4.1-3.1-5 2.2z"/><path fill="#74f050" d="M445.4 228.9l5-2.3-4.2-3.3-4.9 2.3z"/><path fill="#75f04f" d="M449.6 232.3l4.9-2.4-4.1-3.3-5 2.3z"/><path fill="#75f04f" d="M453.7 235.8l5-2.4-4.2-3.5-4.9 2.4z"/><path fill="#75f04f" d="M457.9 239.4l4.9-2.4-4.1-3.6-5 2.4z"/><path fill="#75f04e" d="M462.1 243.2l4.9-2.6-4.2-3.6-4.9 2.4z"/><path fill="#75f04e" d="M466.2 247l4.9-2.6-4.1-3.8-4.9 2.6z"/><path fill="#75f04e" d="M470.4 251l4.9-2.7-4.2-3.9-4.9 2.6z"/><path fill="#74f04d" d="M474.5 255l4.9-2.7-4.1-4-4.9 2.7z"/><path fill="#73f04d" d="M478.7 259.1l4.9-2.7-4.2-4.1-4.9 2.7z"/><path fill="#72f04c" d="M482.8 263.3l4.9-2.8-4.1-4.1-4.9 2.7z"/><path fill="#71f04c" d="M486.9 267.6l5-2.9-4.2-4.2-4.9 2.8z"/><path fill="#6ff04c" d="M491.1 272l4.9-2.9-4.1-4.4-5 2.9z"/><path fill="#6ef04b" d="M495.2 276.4l4.9-3-4.1-4.3-4.9 2.9z"/><path fill="#6cf04b" d="M499.3 280.9l4.9-3-4.1-4.5-4.9 3z"/><path fill="#6af04a" d="M503.4 285.4l4.9-3-4.1-4.5-4.9 3z"/><path fill="#68f04a" d="M507.5 290.1l4.9-3.1-4.1-4.6-4.9 3z"/><path fill="#65f04a" d="M511.6 294.7l4.9-3.1-4.1-4.6-4.9 3.1z"/><path fill="#63f049" d="M515.6 299.4l5-3.1-4.1-4.7-4.9 3.1z"/><path fill="#60f049" d="M519.7 304.2l4.9-3.2-4-4.7-5 3.1z"/><path fill="#5df049" d="M523.8 309.1l4.9-3.3-4.1-4.8-4.9 3.2z"/><path fill="#5bf048" d="M527.8 313.9l4.9-3.2-4-4.9-4.9 3.3z"/><path fill="#58f048" d="M531.8 318.8l4.9-3.2-4-4.9-4.9 3.2z"/><path fill="#54f047" d="M535.8 323.8l4.9-3.3-4-4.9-4.9 3.2z"/><path fill="#51f047" d="M539.8 328.8l4.9-3.3-4-5-4.9 3.3z"/><path fill="#4ef047" d="M543.8 333.9l4.9-3.3-4-5.1-4.9 3.3z"/><path fill="#4af046" d="M547.8 339l4.9-3.3-4-5.1-4.9 3.3z"/><path fill="#46f046" d="M551.7 344.1l4.9-3.3-3.9-5.1-4.9 3.3z"/><path fill="#45f045" d="M555.7 349.3l4.8-3.3-3.9-5.2-4.9 3.3z"/><path fill="#45f045" d="M559.6 354.5l4.9-3.3-4-5.2-4.8 3.3z"/><path fill="#45f04e" d="M563.5 359.8l4.9-3.4-3.9-5.2-4.9 3.3z"/><path fill="#44f057" d="M567.4 365.1l4.8-3.4-3.8-5.3-4.9 3.4z"/><path fill="#44f060" d="M571.2 370.4l4.9-3.3-3.9-5.4-4.8 3.4z"/><path fill="#44f06a" d="M575.1 375.8l4.8-3.4-3.8-5.3-4.9 3.3z"/><path fill="#58f078" d="M371.6 192l4.9-1.6-3.8-.9-4.9 1.6z"/><path fill="#57f06a" d="M375.5 193.3l4.9-1.7-3.9-1.2-4.9 1.6z"/><path fill="#57f05d" d="M379.4 194.7l5-1.7-4-1.4-4.9 1.7z"/><path fill="#57f057" d="M383.4 196.3l4.9-1.8-3.9-1.5-5 1.7z"/><path fill="#57f056" d="M387.4 197.9l4.9-1.7-4-1.7-4.9 1.8z"/><path fill="#5bf056" d="M391.3 199.7l5-1.8-4-1.7-4.9 1.7z"/><path fill="#5ff055" d="M395.4 201.7l4.9-1.9-4-1.9-5 1.8z"/><path fill="#62f055" d="M399.4 203.7l4.9-1.9-4-2-4.9 1.9z"/><path fill="#65f055" d="M403.4 205.8l5-1.9-4.1-2.1-4.9 1.9z"/><path fill="#68f054" d="M407.5 208.1l4.9-2-4-2.2-5 1.9z"/><path fill="#6bf054" d="M411.6 210.5l4.9-2-4.1-2.4-4.9 2z"/><path fill="#6ef054" d="M415.7 213.1l4.9-2.1-4.1-2.5-4.9 2z"/><path fill="#70f053" d="M419.8 215.8l4.9-2.1-4.1-2.7-4.9 2.1z"/><path fill="#72f053" d="M423.9 218.6l5-2.1-4.2-2.8-4.9 2.1z"/><path fill="#73f052" d="M428.1 221.6l4.9-2.2-4.1-2.9-5 2.1z"/><path fill="#75f052" d="M432.2 224.7l4.9-2.3-4.1-3-4.9 2.2z"/><path fill="#76f052" d="M436.3 227.9l5-2.3-4.2-3.2-4.9 2.3z"/><path fill="#77f051" d="M440.5 231.2l4.9-2.3-4.1-3.3-5 2.3z"/><path fill="#77f051" d="M444.6 234.7l5-2.4-4.2-3.4-4.9 2.3z"/><path fill="#78f050" d="M448.8 238.2l4.9-2.4-4.1-3.5-5 2.4z"/><path fill="#78f050" d="M453 241.9l4.9-2.5-4.2-3.6-4.9 2.4z"/><path fill="#78f050" d="M457.1 245.7l5-2.5-4.2-3.8-4.9 2.5z"/><path fill="#78f04f" d="M461.3 249.6l4.9-2.6-4.1-3.8-5 2.5z"/><path fill="#77f04f" d="M465.4 253.6l5-2.6-4.2-4-4.9 2.6z"/><path fill="#76f04f" d="M469.6 257.7l4.9-2.7-4.1-4-5 2.6z"/><path fill="#75f04e" d="M473.7 261.9l5-2.8-4.2-4.1-4.9 2.7z"/><path fill="#74f04e" d="M477.9 266.1l4.9-2.8-4.1-4.2-5 2.8z"/><path fill="#73f04d" d="M482 270.5l4.9-2.9-4.1-4.3-4.9 2.8z"/><path fill="#71f04d" d="M486.1 274.9l5-2.9-4.2-4.4-4.9 2.9z"/><path fill="#6ff04d" d="M490.3 279.4l4.9-3-4.1-4.4-5 2.9z"/><path fill="#6df04c" d="M494.4 283.9l4.9-3-4.1-4.5-4.9 3z"/><path fill="#6bf04c" d="M498.5 288.5l4.9-3.1-4.1-4.5-4.9 3z"/><path fill="#69f04c" d="M502.6 293.2l4.9-3.1-4.1-4.7-4.9 3.1z"/><path fill="#67f04b" d="M506.7 297.9l4.9-3.2-4.1-4.6-4.9 3.1z"/><path fill="#64f04b" d="M510.7 302.6l4.9-3.2-4-4.7-4.9 3.2z"/><path fill="#62f04a" d="M514.8 307.4l4.9-3.2-4.1-4.8-4.9 3.2z"/><path fill="#5ff04a" d="M518.8 312.3l5-3.2-4.1-4.9-4.9 3.2z"/><path fill="#5cf04a" d="M522.9 317.2l4.9-3.3-4-4.8-5 3.2z"/><path fill="#59f049" d="M526.9 322.1l4.9-3.3-4-4.9-4.9 3.3z"/><path fill="#56f049" d="M530.9 327.1l4.9-3.3-4-5-4.9 3.3z"/><path fill="#52f048" d="M534.9 332.2l4.9-3.4-4-5-4.9 3.3z"/><path fill="#4ff048" d="M538.9 337.2l4.9-3.3-4-5.1-4.9 3.4z"/><path fill="#4bf048" d="M542.9 342.3l4.9-3.3-4-5.1-4.9 3.3z"/><path fill="#48f047" d="M546.8 347.5l4.9-3.4-3.9-5.1-4.9 3.3z"/><path fill="#47f047" d="M550.8 352.7l4.9-3.4-4-5.2-4.9 3.4z"/><path fill="#47f047" d="M554.7 357.9l4.9-3.4-3.9-5.2-4.9 3.4z"/><path fill="#46f04f" d="M558.6 363.2l4.9-3.4-3.9-5.3-4.9 3.4z"/><path fill="#46f058" d="M562.5 368.5l4.9-3.4-3.9-5.3-4.9 3.4z"/><path fill="#45f061" d="M566.4 373.8l4.8-3.4-3.8-5.3-4.9 3.4z"/><path fill="#45f06b" d="M570.2 379.2l4.9-3.4-3.9-5.4-4.8 3.4z"/><path fill="#59f073" d="M366.7 193.7l4.9-1.7-3.8-.9-4.9 1.7z"/><path fill="#59f065" d="M370.6 195l4.9-1.7-3.9-1.3-4.9 1.7z"/><path fill="#58f059" d="M374.5 196.5l4.9-1.8-3.9-1.4-4.9 1.7z"/><path fill="#58f058" d="M378.5 198.1l4.9-1.8-4-1.6-4.9 1.8z"/><path fill="#5bf058" d="M382.4 199.8l5-1.9-4-1.6-4.9 1.8z"/><path fill="#5ff057" d="M386.4 201.6l4.9-1.9-3.9-1.8-5 1.9z"/><path fill="#62f057" d="M390.4 203.6l5-1.9-4.1-2-4.9 1.9z"/><path fill="#66f057" d="M394.5 205.6l4.9-1.9-4-2-5 1.9z"/><path fill="#69f056" d="M398.5 207.8l4.9-2-4-2.1-4.9 1.9z"/><path fill="#6cf056" d="M402.6 210.1l4.9-2-4.1-2.3-4.9 2z"/><path fill="#6ff055" d="M406.6 212.5l5-2-4.1-2.4-4.9 2z"/><path fill="#71f055" d="M410.7 215.1l5-2-4.1-2.6-5 2z"/><path fill="#73f055" d="M414.8 217.9l5-2.1-4.1-2.7-5 2z"/><path fill="#75f054" d="M419 220.8l4.9-2.2-4.1-2.8-5 2.1z"/><path fill="#76f054" d="M423.1 223.8l5-2.2-4.2-3-4.9 2.2z"/><path fill="#78f053" d="M427.2 226.9l5-2.2-4.1-3.1-5 2.2z"/><path fill="#79f053" d="M431.4 230.2l4.9-2.3-4.1-3.2-5 2.2z"/><path fill="#7af053" d="M435.5 233.5l5-2.3-4.2-3.3-4.9 2.3z"/><path fill="#7af052" d="M439.7 237.1l4.9-2.4-4.1-3.5-5 2.3z"/><path fill="#7af052" d="M443.9 240.7l4.9-2.5-4.2-3.5-4.9 2.4z"/><path fill="#7bf052" d="M448 244.4l5-2.5-4.2-3.7-4.9 2.5z"/><path fill="#7af051" d="M452.2 248.3l4.9-2.6-4.1-3.8-5 2.5z"/><path fill="#7af051" d="M456.3 252.2l5-2.6-4.2-3.9-4.9 2.6z"/><path fill="#79f050" d="M460.5 256.3l4.9-2.7-4.1-4-5 2.6z"/><path fill="#78f050" d="M464.6 260.4l5-2.7-4.2-4.1-4.9 2.7z"/><path fill="#77f050" d="M468.8 264.7l4.9-2.8-4.1-4.2-5 2.7z"/><path fill="#76f04f" d="M472.9 269l5-2.9-4.2-4.2-4.9 2.8z"/><path fill="#74f04f" d="M477.1 273.4l4.9-2.9-4.1-4.4-5 2.9z"/><path fill="#73f04e" d="M481.2 277.8l4.9-2.9-4.1-4.4-4.9 2.9z"/><path fill="#71f04e" d="M485.3 282.4l5-3-4.2-4.5-4.9 2.9z"/><path fill="#6ff04e" d="M489.4 287l5-3.1-4.1-4.5-5 3z"/><path fill="#6df04d" d="M493.5 291.6l5-3.1-4.1-4.6-5 3.1z"/><path fill="#6bf04d" d="M497.6 296.3l5-3.1-4.1-4.7-5 3.1z"/><path fill="#68f04d" d="M501.7 301l5-3.1-4.1-4.7-5 3.1z"/><path fill="#66f04c" d="M505.8 305.8l4.9-3.2-4-4.7-5 3.1z"/><path fill="#63f04c" d="M509.9 310.7l4.9-3.3-4.1-4.8-4.9 3.2z"/><path fill="#60f04b" d="M513.9 315.6l4.9-3.3-4-4.9-4.9 3.3z"/><path fill="#5df04b" d="M518 320.5l4.9-3.3-4.1-4.9-4.9 3.3z"/><path fill="#5af04b" d="M522 325.5l4.9-3.4-4-4.9-4.9 3.3z"/><path fill="#57f04a" d="M526 330.5l4.9-3.4-4-5-4.9 3.4z"/><path fill="#54f04a" d="M530 335.5l4.9-3.3-4-5.1-4.9 3.4z"/><path fill="#50f049" d="M534 340.6l4.9-3.4-4-5-4.9 3.3z"/><path fill="#4df049" d="M538 345.7l4.9-3.4-4-5.1-4.9 3.4z"/><path fill="#49f049" d="M541.9 350.9l4.9-3.4-3.9-5.2-4.9 3.4z"/><path fill="#48f048" d="M545.9 356.1l4.9-3.4-4-5.2-4.9 3.4z"/><path fill="#48f048" d="M549.8 361.3l4.9-3.4-3.9-5.2-4.9 3.4z"/><path fill="#48f051" d="M553.7 366.6l4.9-3.4-3.9-5.3-4.9 3.4z"/><path fill="#47f05a" d="M557.6 371.9l4.9-3.4-3.9-5.3-4.9 3.4z"/><path fill="#47f063" d="M561.5 377.2l4.9-3.4-3.9-5.3-4.9 3.4z"/><path fill="#46f06c" d="M565.3 382.6l4.9-3.4-3.8-5.4-4.9 3.4z"/><path fill="#5bf06e" d="M361.8 195.4l4.9-1.7-3.8-.9-4.9 1.8z"/><path fill="#5af060" d="M365.7 196.8l4.9-1.8-3.9-1.3-4.9 1.7z"/><path fill="#5af05a" d="M369.6 198.3l4.9-1.8-3.9-1.5-4.9 1.8z"/><path fill="#5bf05a" d="M373.5 199.9l5-1.8-4-1.6-4.9 1.8z"/><path fill="#5ff059" d="M377.5 201.7l4.9-1.9-3.9-1.7-5 1.8z"/><path fill="#62f059" d="M381.5 203.5l4.9-1.9-4-1.8-4.9 1.9z"/><path fill="#66f058" d="M385.5 205.5l4.9-1.9-4-2-4.9 1.9z"/><path fill="#69f058" d="M389.5 207.6l5-2-4.1-2-4.9 1.9z"/><path fill="#6cf058" d="M393.5 209.8l5-2-4-2.2-5 2z"/><path fill="#6ff057" d="M397.6 212.1l5-2-4.1-2.3-5 2z"/><path fill="#72f057" d="M401.7 214.6l4.9-2.1-4-2.4-5 2z"/><path fill="#74f056" d="M405.8 217.2l4.9-2.1-4.1-2.6-4.9 2.1z"/><path fill="#76f056" d="M409.9 220l4.9-2.1-4.1-2.8-4.9 2.1z"/><path fill="#78f056" d="M414 222.9l5-2.1-4.2-2.9-4.9 2.1z"/><path fill="#79f055" d="M418.1 226l5-2.2-4.1-3-5 2.1z"/><path fill="#7bf055" d="M422.3 229.2l4.9-2.3-4.1-3.1-5 2.2z"/><path fill="#7cf055" d="M426.4 232.5l5-2.3-4.2-3.3-4.9 2.3z"/><path fill="#7cf054" d="M430.6 235.9l4.9-2.4-4.1-3.3-5 2.3z"/><path fill="#7df054" d="M434.7 239.5l5-2.4-4.2-3.6-4.9 2.4z"/><path fill="#7df053" d="M438.9 243.1l5-2.4-4.2-3.6-5 2.4z"/><path fill="#7df053" d="M443.1 246.9l4.9-2.5-4.1-3.7-5 2.4z"/><path fill="#7df053" d="M447.2 250.8l5-2.5-4.2-3.9-4.9 2.5z"/><path fill="#7cf052" d="M451.4 254.8l4.9-2.6-4.1-3.9-5 2.5z"/><path fill="#7bf052" d="M455.5 259l5-2.7-4.2-4.1-4.9 2.6z"/><path fill="#7af051" d="M459.7 263.2l4.9-2.8-4.1-4.1-5 2.7z"/><path fill="#79f051" d="M463.9 267.5l4.9-2.8-4.2-4.3-4.9 2.8z"/><path fill="#78f051" d="M468 271.8l4.9-2.8-4.1-4.3-4.9 2.8z"/><path fill="#76f050" d="M472.1 276.3l5-2.9-4.2-4.4-4.9 2.8z"/><path fill="#75f050" d="M476.3 280.8l4.9-3-4.1-4.4-5 2.9z"/><path fill="#73f050" d="M480.4 285.4l4.9-3-4.1-4.6-4.9 3z"/><path fill="#71f04f" d="M484.5 290l4.9-3-4.1-4.6-4.9 3z"/><path fill="#6ef04f" d="M488.6 294.7l4.9-3.1-4.1-4.6-4.9 3z"/><path fill="#6cf04e" d="M492.7 299.5l4.9-3.2-4.1-4.7-4.9 3.1z"/><path fill="#6af04e" d="M496.8 304.2l4.9-3.2-4.1-4.7-4.9 3.2z"/><path fill="#67f04e" d="M500.9 309.1l4.9-3.3-4.1-4.8-4.9 3.2z"/><path fill="#64f04d" d="M504.9 314l5-3.3-4.1-4.9-4.9 3.3z"/><path fill="#61f04d" d="M509 318.9l4.9-3.3-4-4.9-5 3.3z"/><path fill="#5ff04c" d="M513 323.8l5-3.3-4.1-4.9-4.9 3.3z"/><path fill="#5bf04c" d="M517.1 328.8l4.9-3.3-4-5-5 3.3z"/><path fill="#58f04c" d="M521.1 333.9l4.9-3.4-4-5-4.9 3.3z"/><path fill="#55f04b" d="M525.1 338.9l4.9-3.4-4-5-4.9 3.4z"/><path fill="#52f04b" d="M529.1 344l4.9-3.4-4-5.1-4.9 3.4z"/><path fill="#4ef04b" d="M533.1 349.2l4.9-3.5-4-5.1-4.9 3.4z"/><path fill="#4af04a" d="M537 354.3l4.9-3.4-3.9-5.2-4.9 3.5z"/><path fill="#4af04a" d="M541 359.5l4.9-3.4-4-5.2-4.9 3.4z"/><path fill="#49f04a" d="M544.9 364.8l4.9-3.5-3.9-5.2-4.9 3.4z"/><path fill="#49f053" d="M548.8 370.1l4.9-3.5-3.9-5.3-4.9 3.5z"/><path fill="#49f05b" d="M552.7 375.4l4.9-3.5-3.9-5.3-4.9 3.5z"/><path fill="#48f064" d="M556.6 380.7l4.9-3.5-3.9-5.3-4.9 3.5z"/><path fill="#45f06b" d="M560.5 386.1l4.8-3.5-3.8-5.4-4.9 3.5z"/><path fill="#5cf06a" d="M356.9 197.2l4.9-1.8-3.8-.8-5 1.8z"/><path fill="#5cf05c" d="M360.7 198.6l5-1.8-3.9-1.4-4.9 1.8z"/><path fill="#5bf05b" d="M364.6 200.2l5-1.9-3.9-1.5-5 1.8z"/><path fill="#5ef05b" d="M368.6 201.8l4.9-1.9-3.9-1.6-5 1.9z"/><path fill="#62f05b" d="M372.5 203.6l5-1.9-4-1.8-4.9 1.9z"/><path fill="#66f05a" d="M376.5 205.5l5-2-4-1.8-5 1.9z"/><path fill="#69f05a" d="M380.5 207.5l5-2-4-2-5 2z"/><path fill="#6df059" d="M384.6 209.6l4.9-2-4-2.1-5 2z"/><path fill="#70f059" d="M388.6 211.8l4.9-2-4-2.2-4.9 2z"/><path fill="#72f059" d="M392.7 214.2l4.9-2.1-4.1-2.3-4.9 2z"/><path fill="#75f058" d="M396.7 216.6l5-2-4.1-2.5-4.9 2.1z"/><path fill="#77f058" d="M400.8 219.3l5-2.1-4.1-2.6-5 2z"/><path fill="#79f057" d="M404.9 222.2l5-2.2-4.1-2.8-5 2.1z"/><path fill="#7bf057" d="M409.1 225.1l4.9-2.2-4.1-2.9-5 2.2z"/><path fill="#7cf057" d="M413.2 228.2l4.9-2.2-4.1-3.1-4.9 2.2z"/><path fill="#7ef056" d="M417.3 231.4l5-2.2-4.2-3.2-4.9 2.2z"/><path fill="#7ef056" d="M421.5 234.8l4.9-2.3-4.1-3.3-5 2.2z"/><path fill="#7ff056" d="M425.6 238.3l5-2.4-4.2-3.4-4.9 2.3z"/><path fill="#7ff055" d="M429.8 241.9l4.9-2.4-4.1-3.6-5 2.4z"/><path fill="#80f055" d="M434 245.6l4.9-2.5-4.2-3.6-4.9 2.4z"/><path fill="#7ff054" d="M438.1 249.5l5-2.6-4.2-3.8-4.9 2.5z"/><path fill="#7ff054" d="M442.3 253.4l4.9-2.6-4.1-3.9-5 2.6z"/><path fill="#7ef054" d="M446.4 257.5l5-2.7-4.2-4-4.9 2.6z"/><path fill="#7ef053" d="M450.6 261.7l4.9-2.7-4.1-4.2-5 2.7z"/><path fill="#7cf053" d="M454.8 265.9l4.9-2.7-4.2-4.2-4.9 2.7z"/><path fill="#7bf053" d="M458.9 270.3l5-2.8-4.2-4.3-4.9 2.7z"/><path fill="#7af052" d="M463.1 274.7l4.9-2.9-4.1-4.3-5 2.8z"/><path fill="#78f052" d="M467.2 279.2l4.9-2.9-4.1-4.5-4.9 2.9z"/><path fill="#76f051" d="M471.3 283.8l5-3-4.2-4.5-4.9 2.9z"/><path fill="#74f051" d="M475.5 288.4l4.9-3-4.1-4.6-5 3z"/><path fill="#72f051" d="M479.6 293.1l4.9-3.1-4.1-4.6-4.9 3z"/><path fill="#70f050" d="M483.7 297.9l4.9-3.2-4.1-4.7-4.9 3.1z"/><path fill="#6df050" d="M487.8 302.6l4.9-3.1-4.1-4.8-4.9 3.2z"/><path fill="#6bf04f" d="M491.9 307.5l4.9-3.3-4.1-4.7-4.9 3.1z"/><path fill="#68f04f" d="M495.9 312.4l5-3.3-4.1-4.9-4.9 3.3z"/><path fill="#66f04f" d="M500 317.3l4.9-3.3-4-4.9-5 3.3z"/><path fill="#63f04e" d="M504.1 322.2l4.9-3.3-4.1-4.9-4.9 3.3z"/><path fill="#60f04e" d="M508.1 327.2l4.9-3.4-4-4.9-4.9 3.3z"/><path fill="#5df04e" d="M512.2 332.2l4.9-3.4-4.1-5-4.9 3.4z"/><path fill="#59f04d" d="M516.2 337.3l4.9-3.4-4-5.1-4.9 3.4z"/><path fill="#56f04d" d="M520.2 342.4l4.9-3.5-4-5-4.9 3.4z"/><path fill="#53f04c" d="M524.2 347.5l4.9-3.5-4-5.1-4.9 3.5z"/><path fill="#4ff04c" d="M528.2 352.6l4.9-3.4-4-5.2-4.9 3.5z"/><path fill="#4cf04c" d="M532.1 357.8l4.9-3.5-3.9-5.1-4.9 3.4z"/><path fill="#4bf04b" d="M536.1 363l4.9-3.5-4-5.2-4.9 3.5z"/><path fill="#4bf04c" d="M540 368.3l4.9-3.5-3.9-5.3-4.9 3.5z"/><path fill="#4af055" d="M543.9 373.6l4.9-3.5-3.9-5.3-4.9 3.5z"/><path fill="#4af05d" d="M547.8 378.9l4.9-3.5-3.9-5.3-4.9 3.5z"/><path fill="#46f063" d="M551.7 384.2l4.9-3.5-3.9-5.3-4.9 3.5z"/><path fill="#43f06a" d="M555.6 389.6l4.9-3.5-3.9-5.4-4.9 3.5z"/><path fill="#5ef066" d="M351.9 199.1l5-1.9-3.9-.8-4.9 1.9z"/><path fill="#5df05d" d="M355.8 200.5l4.9-1.9-3.8-1.4-5 1.9z"/><path fill="#5ef05d" d="M359.7 202.1l4.9-1.9-3.9-1.6-4.9 1.9z"/><path fill="#62f05c" d="M363.6 203.8l5-2-4-1.6-4.9 1.9z"/><path fill="#65f05c" d="M367.6 205.6l4.9-2-3.9-1.8-5 2z"/><path fill="#69f05c" d="M371.6 207.5l4.9-2-4-1.9-4.9 2z"/><path fill="#6df05b" d="M375.6 209.5l4.9-2-4-2-4.9 2z"/><path fill="#70f05b" d="M379.6 211.6l5-2-4.1-2.1-4.9 2z"/><path fill="#73f05a" d="M383.6 213.9l5-2.1-4-2.2-5 2z"/><path fill="#76f05a" d="M387.7 216.2l5-2-4.1-2.4-5 2.1z"/><path fill="#78f05a" d="M391.8 218.8l4.9-2.2-4-2.4-5 2z"/><path fill="#7af059" d="M395.9 221.5l4.9-2.2-4.1-2.7-4.9 2.2z"/><path fill="#7cf059" d="M400 224.3l4.9-2.1-4.1-2.9-4.9 2.2z"/><path fill="#7ef059" d="M404.1 227.3l5-2.2-4.2-2.9-4.9 2.1z"/><path fill="#7ff058" d="M408.2 230.5l5-2.3-4.1-3.1-5 2.2z"/><path fill="#80f058" d="M412.4 233.7l4.9-2.3-4.1-3.2-5 2.3z"/><path fill="#81f057" d="M416.5 237.1l5-2.3-4.2-3.4-4.9 2.3z"/><path fill="#82f057" d="M420.7 240.6l4.9-2.3-4.1-3.5-5 2.3z"/><path fill="#82f057" d="M424.8 244.3l5-2.4-4.2-3.6-4.9 2.3z"/><path fill="#82f056" d="M429 248.1l5-2.5-4.2-3.7-5 2.4z"/><path fill="#82f056" d="M433.2 252l4.9-2.5-4.1-3.9-5 2.5z"/><path fill="#81f055" d="M437.3 256l5-2.6-4.2-3.9-4.9 2.5z"/><path fill="#81f055" d="M441.5 260.1l4.9-2.6-4.1-4.1-5 2.6z"/><path fill="#80f055" d="M445.7 264.4l4.9-2.7-4.2-4.2-4.9 2.6z"/><path fill="#7ef054" d="M449.8 268.7l5-2.8-4.2-4.2-4.9 2.7z"/><path fill="#7df054" d="M454 273.1l4.9-2.8-4.1-4.4-5 2.8z"/><path fill="#7cf054" d="M458.1 277.6l5-2.9-4.2-4.4-4.9 2.8z"/><path fill="#7af053" d="M462.3 282.2l4.9-3-4.1-4.5-5 2.9z"/><path fill="#78f053" d="M466.4 286.8l4.9-3-4.1-4.6-4.9 3z"/><path fill="#76f052" d="M470.5 291.5l5-3.1-4.2-4.6-4.9 3z"/><path fill="#74f052" d="M474.6 296.2l5-3.1-4.1-4.7-5 3.1z"/><path fill="#71f052" d="M478.7 301l5-3.1-4.1-4.8-5 3.1z"/><path fill="#6ff051" d="M482.8 305.9l5-3.3-4.1-4.7-5 3.1z"/><path fill="#6cf051" d="M486.9 310.7l5-3.2-4.1-4.9-5 3.3z"/><path fill="#69f050" d="M491 315.7l4.9-3.3-4-4.9-5 3.2z"/><path fill="#67f050" d="M495.1 320.6l4.9-3.3-4.1-4.9-4.9 3.3z"/><path fill="#64f050" d="M499.1 325.6l5-3.4-4.1-4.9-4.9 3.3z"/><path fill="#61f04f" d="M503.2 330.6l4.9-3.4-4-5-5 3.4z"/><path fill="#5ef04f" d="M507.2 335.6l5-3.4-4.1-5-4.9 3.4z"/><path fill="#5af04f" d="M511.3 340.7l4.9-3.4-4-5.1-5 3.4z"/><path fill="#57f04e" d="M515.3 345.8l4.9-3.4-4-5.1-4.9 3.4z"/><path fill="#54f04e" d="M519.3 351l4.9-3.5-4-5.1-4.9 3.4z"/><path fill="#50f04d" d="M523.2 356.1l5-3.5-4-5.1-4.9 3.5z"/><path fill="#4df04d" d="M527.2 361.3l4.9-3.5-3.9-5.2-5 3.5z"/><path fill="#4df04d" d="M531.2 366.6l4.9-3.6-4-5.2-4.9 3.5z"/><path fill="#4cf04f" d="M535.1 371.8l4.9-3.5-3.9-5.3-4.9 3.6z"/><path fill="#4cf057" d="M539 377.1l4.9-3.5-3.9-5.3-4.9 3.5z"/><path fill="#48f05c" d="M543 382.4l4.8-3.5-3.9-5.3-4.9 3.5z"/><path fill="#44f063" d="M546.8 387.8l4.9-3.6-3.9-5.3-4.8 3.5z"/><path fill="#41f069" d="M550.7 393.2l4.9-3.6-3.9-5.4-4.9 3.6z"/><path fill="#5ff062" d="M347 201l4.9-1.9-3.8-.8-4.9 1.9z"/><path fill="#5ff05f" d="M350.9 202.5l4.9-2-3.9-1.4-4.9 1.9z"/><path fill="#61f05e" d="M354.8 204.1l4.9-2-3.9-1.6-4.9 2z"/><path fill="#65f05e" d="M358.7 205.8l4.9-2-3.9-1.7-4.9 2z"/><path fill="#69f05d" d="M362.6 207.6l5-2-4-1.8-4.9 2z"/><path fill="#6cf05d" d="M366.6 209.6l5-2.1-4-1.9-5 2z"/><path fill="#70f05d" d="M370.6 211.6l5-2.1-4-2-5 2.1z"/><path fill="#73f05c" d="M374.6 213.7l5-2.1-4-2.1-5 2.1z"/><path fill="#76f05c" d="M378.7 216l4.9-2.1-4-2.3-5 2.1z"/><path fill="#79f05c" d="M382.7 218.4l5-2.2-4.1-2.3-4.9 2.1z"/><path fill="#7bf05b" d="M386.8 220.9l5-2.1-4.1-2.6-5 2.2z"/><path fill="#7df05b" d="M390.9 223.7l5-2.2-4.1-2.7-5 2.1z"/><path fill="#7ff05a" d="M395 226.6l5-2.3-4.1-2.8-5 2.2z"/><path fill="#81f05a" d="M399.1 229.6l5-2.3-4.1-3-5 2.3z"/><path fill="#82f05a" d="M403.2 232.7l5-2.2-4.1-3.2-5 2.3z"/><path fill="#83f059" d="M407.4 236.1l5-2.4-4.2-3.2-5 2.2z"/><path fill="#84f059" d="M411.5 239.5l5-2.4-4.1-3.4-5 2.4z"/><path fill="#84f058" d="M415.7 243.1l5-2.5-4.2-3.5-5 2.4z"/><path fill="#85f058" d="M419.9 246.8l4.9-2.5-4.1-3.7-5 2.5z"/><path fill="#84f058" d="M424 250.6l5-2.5-4.2-3.8-4.9 2.5z"/><path fill="#84f057" d="M428.2 254.6l5-2.6-4.2-3.9-5 2.5z"/><path fill="#84f057" d="M432.4 258.7l4.9-2.7-4.1-4-5 2.6z"/><path fill="#83f057" d="M436.5 262.8l5-2.7-4.2-4.1-4.9 2.7z"/><path fill="#82f056" d="M440.7 267.1l5-2.7-4.2-4.3-5 2.7z"/><path fill="#80f056" d="M444.9 271.5l4.9-2.8-4.1-4.3-5 2.7z"/><path fill="#7ff055" d="M449 276l5-2.9-4.2-4.4-4.9 2.8z"/><path fill="#7df055" d="M453.2 280.5l4.9-2.9-4.1-4.5-5 2.9z"/><path fill="#7bf055" d="M457.3 285.2l5-3-4.2-4.6-4.9 2.9z"/><path fill="#79f054" d="M461.4 289.9l5-3.1-4.1-4.6-5 3z"/><path fill="#77f054" d="M465.6 294.6l4.9-3.1-4.1-4.7-5 3.1z"/><path fill="#75f053" d="M469.7 299.4l4.9-3.2-4.1-4.7-4.9 3.1z"/><path fill="#73f053" d="M473.8 304.2l4.9-3.2-4.1-4.8-4.9 3.2z"/><path fill="#70f053" d="M477.9 309.1l4.9-3.2-4.1-4.9-4.9 3.2z"/><path fill="#6df052" d="M482 314l4.9-3.3-4.1-4.8-4.9 3.2z"/><path fill="#6bf052" d="M486.1 319l4.9-3.3-4.1-5-4.9 3.3z"/><path fill="#68f052" d="M490.2 324l4.9-3.4-4.1-4.9-4.9 3.3z"/><path fill="#65f051" d="M494.2 329l4.9-3.4-4-5-4.9 3.4z"/><path fill="#62f051" d="M498.3 334l4.9-3.4-4.1-5-4.9 3.4z"/><path fill="#5ff050" d="M502.3 339.1l4.9-3.5-4-5-4.9 3.4z"/><path fill="#5bf050" d="M506.3 344.2l5-3.5-4.1-5.1-4.9 3.5z"/><path fill="#58f050" d="M510.3 349.3l5-3.5-4-5.1-5 3.5z"/><path fill="#55f04f" d="M514.3 354.5l5-3.5-4-5.2-5 3.5z"/><path fill="#51f04f" d="M518.3 359.7l4.9-3.6-3.9-5.1-5 3.5z"/><path fill="#4ef04e" d="M522.3 364.9l4.9-3.6-4-5.2-4.9 3.6z"/><path fill="#4ef04e" d="M526.3 370.1l4.9-3.5-4-5.3-4.9 3.6z"/><path fill="#4ef051" d="M530.2 375.4l4.9-3.6-3.9-5.2-4.9 3.5z"/><path fill="#4af056" d="M534.1 380.7l4.9-3.6-3.9-5.3-4.9 3.6z"/><path fill="#46f05c" d="M538.1 386l4.9-3.6-4-5.3-4.9 3.6z"/><path fill="#42f062" d="M542 391.4l4.8-3.6-3.8-5.4-4.9 3.6z"/><path fill="#3ef069" d="M545.8 396.8l4.9-3.6-3.9-5.4-4.8 3.6z"/><path fill="#60f060" d="M342.1 203l4.9-2-3.8-.8-4.9 2z"/><path fill="#60f060" d="M345.9 204.5l5-2-3.9-1.5-4.9 2z"/><path fill="#64f060" d="M349.8 206.1l5-2-3.9-1.6-5 2z"/><path fill="#68f05f" d="M353.7 207.9l5-2.1-3.9-1.7-5 2z"/><path fill="#6cf05f" d="M357.7 209.7l4.9-2.1-3.9-1.8-5 2.1z"/><path fill="#6ff05e" d="M361.7 211.7l4.9-2.1-4-2-4.9 2.1z"/><path fill="#73f05e" d="M365.7 213.7l4.9-2.1-4-2-4.9 2.1z"/><path fill="#76f05e" d="M369.7 215.9l4.9-2.2-4-2.1-4.9 2.1z"/><path fill="#79f05d" d="M373.7 218.2l5-2.2-4.1-2.3-4.9 2.2z"/><path fill="#7cf05d" d="M377.7 220.6l5-2.2-4-2.4-5 2.2z"/><path fill="#7ef05d" d="M381.8 223.1l5-2.2-4.1-2.5-5 2.2z"/><path fill="#80f05c" d="M385.9 225.9l5-2.2-4.1-2.8-5 2.2z"/><path fill="#82f05c" d="M390 228.8l5-2.2-4.1-2.9-5 2.2z"/><path fill="#83f05b" d="M394.1 231.9l5-2.3-4.1-3-5 2.2z"/><path fill="#85f05b" d="M398.3 235.1l4.9-2.4-4.1-3.1-5 2.3z"/><path fill="#86f05b" d="M402.4 238.4l5-2.3-4.2-3.4-4.9 2.4z"/><path fill="#86f05a" d="M406.6 241.9l4.9-2.4-4.1-3.4-5 2.3z"/><path fill="#87f05a" d="M410.7 245.5l5-2.4-4.2-3.6-4.9 2.4z"/><path fill="#87f05a" d="M414.9 249.3l5-2.5-4.2-3.7-5 2.4z"/><path fill="#87f059" d="M419.1 253.2l4.9-2.6-4.1-3.8-5 2.5z"/><path fill="#86f059" d="M423.2 257.2l5-2.6-4.2-4-4.9 2.6z"/><path fill="#86f058" d="M427.4 261.3l5-2.6-4.2-4.1-5 2.6z"/><path fill="#85f058" d="M431.6 265.6l4.9-2.8-4.1-4.1-5 2.6z"/><path fill="#84f058" d="M435.7 269.9l5-2.8-4.2-4.3-4.9 2.8z"/><path fill="#82f057" d="M439.9 274.4l5-2.9-4.2-4.4-5 2.8z"/><path fill="#81f057" d="M444.1 278.9l4.9-2.9-4.1-4.5-5 2.9z"/><path fill="#7ff056" d="M448.2 283.5l5-3-4.2-4.5-4.9 2.9z"/><path fill="#7df056" d="M452.4 288.2l4.9-3-4.1-4.7-5 3z"/><path fill="#7bf056" d="M456.5 292.9l4.9-3-4.1-4.7-4.9 3z"/><path fill="#79f055" d="M460.6 297.7l5-3.1-4.2-4.7-4.9 3z"/><path fill="#76f055" d="M464.8 302.6l4.9-3.2-4.1-4.8-5 3.1z"/><path fill="#74f055" d="M468.9 307.5l4.9-3.3-4.1-4.8-4.9 3.2z"/><path fill="#71f054" d="M473 312.4l4.9-3.3-4.1-4.9-4.9 3.3z"/><path fill="#6ef054" d="M477.1 317.4l4.9-3.4-4.1-4.9-4.9 3.3z"/><path fill="#6cf053" d="M481.2 322.4l4.9-3.4-4.1-5-4.9 3.4z"/><path fill="#69f053" d="M485.2 327.4l5-3.4-4.1-5-4.9 3.4z"/><path fill="#66f053" d="M489.3 332.4l4.9-3.4-4-5-5 3.4z"/><path fill="#63f052" d="M493.3 337.5l5-3.5-4.1-5-4.9 3.4z"/><path fill="#60f052" d="M497.4 342.6l4.9-3.5-4-5.1-5 3.5z"/><path fill="#5cf051" d="M501.4 347.7l4.9-3.5-4-5.1-4.9 3.5z"/><path fill="#59f051" d="M505.4 352.9l4.9-3.6-4-5.1-4.9 3.5z"/><path fill="#56f051" d="M509.4 358l4.9-3.5-4-5.2-4.9 3.6z"/><path fill="#52f050" d="M513.4 363.2l4.9-3.5-4-5.2-4.9 3.5z"/><path fill="#50f050" d="M517.4 368.5l4.9-3.6-4-5.2-4.9 3.5z"/><path fill="#50f050" d="M521.4 373.7l4.9-3.6-4-5.2-4.9 3.6z"/><path fill="#4cf050" d="M525.3 379l4.9-3.6-3.9-5.3-4.9 3.6z"/><path fill="#48f055" d="M529.2 384.3l4.9-3.6-3.9-5.3-4.9 3.6z"/><path fill="#44f05b" d="M533.2 389.7l4.9-3.7-4-5.3-4.9 3.6z"/><path fill="#40f062" d="M537.1 395.1l4.9-3.7-3.9-5.4-4.9 3.7z"/><path fill="#3cf069" d="M541 400.5l4.8-3.7-3.8-5.4-4.9 3.7z"/><path fill="#62f062" d="M337.1 205l5-2-3.8-.8-4.9 2.1z"/><path fill="#63f061" d="M341 206.6l4.9-2.1-3.8-1.5-5 2z"/><path fill="#67f061" d="M344.9 208.2l4.9-2.1-3.9-1.6-4.9 2.1z"/><path fill="#6bf061" d="M348.8 210l4.9-2.1-3.9-1.8-4.9 2.1z"/><path fill="#6ff060" d="M352.7 211.9l5-2.2-4-1.8-4.9 2.1z"/><path fill="#72f060" d="M356.7 213.9l5-2.2-4-2-5 2.2z"/><path fill="#76f060" d="M360.7 215.9l5-2.2-4-2-5 2.2z"/><path fill="#79f05f" d="M364.7 218.1l5-2.2-4-2.2-5 2.2z"/><path fill="#7cf05f" d="M368.7 220.4l5-2.2-4-2.3-5 2.2z"/><path fill="#7ef05e" d="M372.8 222.8l4.9-2.2-4-2.4-5 2.2z"/><path fill="#81f05e" d="M376.8 225.4l5-2.3-4.1-2.5-4.9 2.2z"/><path fill="#83f05e" d="M380.9 228.2l5-2.3-4.1-2.8-5 2.3z"/><path fill="#85f05d" d="M385 231.1l5-2.3-4.1-2.9-5 2.3z"/><path fill="#86f05d" d="M389.2 234.2l4.9-2.3-4.1-3.1-5 2.3z"/><path fill="#87f05c" d="M393.3 237.5l5-2.4-4.2-3.2-4.9 2.3z"/><path fill="#88f05c" d="M397.4 240.8l5-2.4-4.1-3.3-5 2.4z"/><path fill="#89f05c" d="M401.6 244.4l5-2.5-4.2-3.5-5 2.4z"/><path fill="#89f05b" d="M405.8 248l4.9-2.5-4.1-3.6-5 2.5z"/><path fill="#89f05b" d="M409.9 251.8l5-2.5-4.2-3.8-4.9 2.5z"/><path fill="#89f05b" d="M414.1 255.8l5-2.6-4.2-3.9-5 2.5z"/><path fill="#88f05a" d="M418.3 259.8l4.9-2.6-4.1-4-5 2.6z"/><path fill="#88f05a" d="M422.4 264l5-2.7-4.2-4.1-4.9 2.6z"/><path fill="#87f059" d="M426.6 268.3l5-2.7-4.2-4.3-5 2.7z"/><path fill="#85f059" d="M430.8 272.8l4.9-2.9-4.1-4.3-5 2.7z"/><path fill="#84f059" d="M434.9 277.3l5-2.9-4.2-4.5-4.9 2.9z"/><path fill="#82f058" d="M439.1 281.9l5-3-4.2-4.5-5 2.9z"/><path fill="#80f058" d="M443.3 286.5l4.9-3-4.1-4.6-5 3z"/><path fill="#7ef057" d="M447.4 291.3l5-3.1-4.2-4.7-4.9 3z"/><path fill="#7cf057" d="M451.6 296.1l4.9-3.2-4.1-4.7-5 3.1z"/><path fill="#7af057" d="M455.7 300.9l4.9-3.2-4.1-4.8-4.9 3.2z"/><path fill="#77f056" d="M459.8 305.8l5-3.2-4.2-4.9-4.9 3.2z"/><path fill="#75f056" d="M463.9 310.8l5-3.3-4.1-4.9-5 3.2z"/><path fill="#72f056" d="M468 315.7l5-3.3-4.1-4.9-5 3.3z"/><path fill="#6ff055" d="M472.1 320.7l5-3.3-4.1-5-5 3.3z"/><path fill="#6df055" d="M476.2 325.8l5-3.4-4.1-5-5 3.3z"/><path fill="#6af054" d="M480.3 330.8l4.9-3.4-4-5-5 3.4z"/><path fill="#67f054" d="M484.4 335.9l4.9-3.5-4.1-5-4.9 3.4z"/><path fill="#64f054" d="M488.4 341l4.9-3.5-4-5.1-4.9 3.5z"/><path fill="#60f053" d="M492.5 346.1l4.9-3.5-4.1-5.1-4.9 3.5z"/><path fill="#5df053" d="M496.5 351.3l4.9-3.6-4-5.1-4.9 3.5z"/><path fill="#5af053" d="M500.5 356.5l4.9-3.6-4-5.2-4.9 3.6z"/><path fill="#56f052" d="M504.5 361.7l4.9-3.7-4-5.1-4.9 3.6z"/><path fill="#53f052" d="M508.5 366.9l4.9-3.7-4-5.2-4.9 3.7z"/><path fill="#51f051" d="M512.5 372.1l4.9-3.6-4-5.3-4.9 3.7z"/><path fill="#4df04d" d="M516.5 377.4l4.9-3.7-4-5.2-4.9 3.6z"/><path fill="#49f050" d="M520.4 382.7l4.9-3.7-3.9-5.3-4.9 3.7z"/><path fill="#45f055" d="M524.3 388l4.9-3.7-3.9-5.3-4.9 3.7z"/><path fill="#41f05b" d="M528.3 393.4l4.9-3.7-4-5.4-4.9 3.7z"/><path fill="#3df062" d="M532.2 398.8l4.9-3.7-3.9-5.4-4.9 3.7z"/><path fill="#39f069" d="M536.1 404.2l4.9-3.7-3.9-5.4-4.9 3.7z"/><path fill="#63f063" d="M332.2 207.2l4.9-2.2-3.7-.7-5 2.2z"/><path fill="#66f063" d="M336 208.7l5-2.1-3.9-1.6-4.9 2.2z"/><path fill="#6af063" d="M339.9 210.4l5-2.2-3.9-1.6-5 2.1z"/><path fill="#6ef062" d="M343.8 212.2l5-2.2-3.9-1.8-5 2.2z"/><path fill="#72f062" d="M347.8 214.1l4.9-2.2-3.9-1.9-5 2.2z"/><path fill="#75f061" d="M351.7 216.1l5-2.2-4-2-4.9 2.2z"/><path fill="#78f061" d="M355.7 218.2l5-2.3-4-2-5 2.2z"/><path fill="#7bf061" d="M359.7 220.4l5-2.3-4-2.2-5 2.3z"/><path fill="#7ef060" d="M363.8 222.7l4.9-2.3-4-2.3-5 2.3z"/><path fill="#81f060" d="M367.8 225.1l5-2.3-4.1-2.4-4.9 2.3z"/><path fill="#83f05f" d="M371.9 227.7l4.9-2.3-4-2.6-5 2.3z"/><path fill="#85f05f" d="M376 230.5l4.9-2.3-4.1-2.8-4.9 2.3z"/><path fill="#87f05f" d="M380.1 233.5l4.9-2.4-4.1-2.9-4.9 2.3z"/><path fill="#88f05e" d="M384.2 236.6l5-2.4-4.2-3.1-4.9 2.4z"/><path fill="#8af05e" d="M388.3 239.9l5-2.4-4.1-3.3-5 2.4z"/><path fill="#8af05e" d="M392.5 243.3l4.9-2.5-4.1-3.3-5 2.4z"/><path fill="#8bf05d" d="M396.6 246.9l5-2.5-4.2-3.6-4.9 2.5z"/><path fill="#8bf05d" d="M400.8 250.6l5-2.6-4.2-3.6-5 2.5z"/><path fill="#8bf05c" d="M404.9 254.4l5-2.6-4.1-3.8-5 2.6z"/><path fill="#8bf05c" d="M409.1 258.4l5-2.6-4.2-4-5 2.6z"/><path fill="#8af05c" d="M413.3 262.6l5-2.8-4.2-4-5 2.6z"/><path fill="#8af05b" d="M417.5 266.8l4.9-2.8-4.1-4.2-5 2.8z"/><path fill="#88f05b" d="M421.6 271.2l5-2.9-4.2-4.3-4.9 2.8z"/><path fill="#87f05a" d="M425.8 275.6l5-2.8-4.2-4.5-5 2.9z"/><path fill="#86f05a" d="M430 280.2l4.9-2.9-4.1-4.5-5 2.8z"/><path fill="#84f05a" d="M434.2 284.9l4.9-3-4.2-4.6-4.9 2.9z"/><path fill="#82f059" d="M438.3 289.6l5-3.1-4.2-4.6-4.9 3z"/><path fill="#80f059" d="M442.5 294.4l4.9-3.1-4.1-4.8-5 3.1z"/><path fill="#7ef059" d="M446.6 299.3l5-3.2-4.2-4.8-4.9 3.1z"/><path fill="#7bf058" d="M450.7 304.2l5-3.3-4.1-4.8-5 3.2z"/><path fill="#79f058" d="M454.9 309.1l4.9-3.3-4.1-4.9-5 3.3z"/><path fill="#76f057" d="M459 314.1l4.9-3.3-4.1-5-4.9 3.3z"/><path fill="#73f057" d="M463.1 319.1l4.9-3.4-4.1-4.9-4.9 3.3z"/><path fill="#70f057" d="M467.2 324.2l4.9-3.5-4.1-5-4.9 3.4z"/><path fill="#6ef056" d="M471.3 329.2l4.9-3.4-4.1-5.1-4.9 3.5z"/><path fill="#6bf056" d="M475.4 334.3l4.9-3.5-4.1-5-4.9 3.4z"/><path fill="#68f055" d="M479.4 339.4l5-3.5-4.1-5.1-4.9 3.5z"/><path fill="#64f055" d="M483.5 344.6l4.9-3.6-4-5.1-5 3.5z"/><path fill="#61f055" d="M487.5 349.7l5-3.6-4.1-5.1-4.9 3.6z"/><path fill="#5ef054" d="M491.6 354.9l4.9-3.6-4-5.2-5 3.6z"/><path fill="#5bf054" d="M495.6 360.1l4.9-3.6-4-5.2-4.9 3.6z"/><path fill="#57f054" d="M499.6 365.3l4.9-3.6-4-5.2-4.9 3.6z"/><path fill="#54f053" d="M503.6 370.5l4.9-3.6-4-5.2-4.9 3.6z"/><path fill="#4ff04f" d="M507.6 375.8l4.9-3.7-4-5.2-4.9 3.6z"/><path fill="#4bf04b" d="M511.5 381.1l5-3.7-4-5.3-4.9 3.7z"/><path fill="#47f050" d="M515.5 386.4l4.9-3.7-3.9-5.3-5 3.7z"/><path fill="#43f055" d="M519.4 391.8l4.9-3.8-3.9-5.3-4.9 3.7z"/><path fill="#3ff05b" d="M523.4 397.1l4.9-3.7-4-5.4-4.9 3.8z"/><path fill="#3bf062" d="M527.3 402.5l4.9-3.7-3.9-5.4-4.9 3.7z"/><path fill="#37f06a" d="M531.2 408l4.9-3.8-3.9-5.4-4.9 3.7z"/><path fill="#65f065" d="M327.2 209.4l5-2.2-3.8-.7-4.9 2.2z"/><path fill="#69f064" d="M331.1 211l4.9-2.3-3.8-1.5-5 2.2z"/><path fill="#6df064" d="M335 212.7l4.9-2.3-3.9-1.7-4.9 2.3z"/><path fill="#71f064" d="M338.9 214.5l4.9-2.3-3.9-1.8-4.9 2.3z"/><path fill="#74f063" d="M342.8 216.4l5-2.3-4-1.9-4.9 2.3z"/><path fill="#78f063" d="M346.8 218.4l4.9-2.3-3.9-2-5 2.3z"/><path fill="#7bf062" d="M350.8 220.5l4.9-2.3-4-2.1-4.9 2.3z"/><path fill="#7ef062" d="M354.8 222.8l4.9-2.4-4-2.2-4.9 2.3z"/><path fill="#81f062" d="M358.8 225.1l5-2.4-4.1-2.3-4.9 2.4z"/><path fill="#83f061" d="M362.8 227.5l5-2.4-4-2.4-5 2.4z"/><path fill="#86f061" d="M366.9 230.1l5-2.4-4.1-2.6-5 2.4z"/><path fill="#88f061" d="M371 232.9l5-2.4-4.1-2.8-5 2.4z"/><path fill="#89f060" d="M375.1 235.9l5-2.4-4.1-3-5 2.4z"/><path fill="#8bf060" d="M379.2 239.1l5-2.5-4.1-3.1-5 2.4z"/><path fill="#8cf05f" d="M383.3 242.4l5-2.5-4.1-3.3-5 2.5z"/><path fill="#8df05f" d="M387.5 245.9l5-2.6-4.2-3.4-5 2.5z"/><path fill="#8df05f" d="M391.6 249.5l5-2.6-4.1-3.6-5 2.6z"/><path fill="#8df05e" d="M395.8 253.2l5-2.6-4.2-3.7-5 2.6z"/><path fill="#8df05e" d="M400 257.1l4.9-2.7-4.1-3.8-5 2.6z"/><path fill="#8df05d" d="M404.1 261.2l5-2.8-4.2-4-4.9 2.7z"/><path fill="#8cf05d" d="M408.3 265.3l5-2.7-4.2-4.2-5 2.8z"/><path fill="#8bf05d" d="M412.5 269.6l5-2.8-4.2-4.2-5 2.7z"/><path fill="#8af05c" d="M416.7 274.1l4.9-2.9-4.1-4.4-5 2.8z"/><path fill="#89f05c" d="M420.9 278.6l4.9-3-4.2-4.4-4.9 2.9z"/><path fill="#87f05c" d="M425 283.2l5-3-4.2-4.6-4.9 3z"/><path fill="#85f05b" d="M429.2 287.9l5-3-4.2-4.7-5 3z"/><path fill="#83f05b" d="M433.4 292.7l4.9-3.1-4.1-4.7-5 3z"/><path fill="#81f05a" d="M437.5 297.6l5-3.2-4.2-4.8-4.9 3.1z"/><path fill="#7ff05a" d="M441.7 302.5l4.9-3.2-4.1-4.9-5 3.2z"/><path fill="#7cf05a" d="M445.8 307.4l4.9-3.2-4.1-4.9-4.9 3.2z"/><path fill="#7af059" d="M449.9 312.4l5-3.3-4.2-4.9-4.9 3.2z"/><path fill="#77f059" d="M454.1 317.5l4.9-3.4-4.1-5-5 3.3z"/><path fill="#74f058" d="M458.2 322.5l4.9-3.4-4.1-5-4.9 3.4z"/><path fill="#71f058" d="M462.3 327.6l4.9-3.4-4.1-5.1-4.9 3.4z"/><path fill="#6ef058" d="M466.4 332.7l4.9-3.5-4.1-5-4.9 3.4z"/><path fill="#6bf057" d="M470.4 337.9l5-3.6-4.1-5.1-4.9 3.5z"/><path fill="#68f057" d="M474.5 343l4.9-3.6-4-5.1-5 3.6z"/><path fill="#65f057" d="M478.6 348.2l4.9-3.6-4.1-5.2-4.9 3.6z"/><path fill="#62f056" d="M482.6 353.3l4.9-3.6-4-5.1-4.9 3.6z"/><path fill="#5ff056" d="M486.6 358.5l5-3.6-4.1-5.2-4.9 3.6z"/><path fill="#5bf055" d="M490.7 363.8l4.9-3.7-4-5.2-5 3.6z"/><path fill="#58f055" d="M494.7 369l4.9-3.7-4-5.2-4.9 3.7z"/><path fill="#51f051" d="M498.7 374.3l4.9-3.8-4-5.2-4.9 3.7z"/><path fill="#4df04d" d="M502.7 379.5l4.9-3.7-4-5.3-4.9 3.8z"/><path fill="#48f04b" d="M506.6 384.9l4.9-3.8-3.9-5.3-4.9 3.7z"/><path fill="#44f050" d="M510.6 390.2l4.9-3.8-4-5.3-4.9 3.8z"/><path fill="#40f055" d="M514.5 395.6l4.9-3.8-3.9-5.4-4.9 3.8z"/><path fill="#3cf05b" d="M518.5 401l4.9-3.9-4-5.3-4.9 3.8z"/><path fill="#38f063" d="M522.4 406.4l4.9-3.9-3.9-5.4-4.9 3.9z"/><path fill="#34f06b" d="M526.3 411.9l4.9-3.9-3.9-5.5-4.9 3.9z"/><path fill="#67f066" d="M322.3 211.6l4.9-2.2-3.7-.7-4.9 2.3z"/><path fill="#6cf066" d="M326.2 213.3l4.9-2.3-3.9-1.6-4.9 2.2z"/><path fill="#70f065" d="M330 215l5-2.3-3.9-1.7-4.9 2.3z"/><path fill="#73f065" d="M334 216.9l4.9-2.4-3.9-1.8-5 2.3z"/><path fill="#77f065" d="M337.9 218.8l4.9-2.4-3.9-1.9-4.9 2.4z"/><path fill="#7af064" d="M341.8 220.9l5-2.5-4-2-4.9 2.4z"/><path fill="#7df064" d="M345.8 223l5-2.5-4-2.1-5 2.5z"/><path fill="#80f063" d="M349.8 225.2l5-2.4-4-2.3-5 2.5z"/><path fill="#83f063" d="M353.8 227.6l5-2.5-4-2.3-5 2.4z"/><path fill="#85f063" d="M357.8 230l5-2.5-4-2.4-5 2.5z"/><path fill="#88f062" d="M361.9 232.6l5-2.5-4.1-2.6-5 2.5z"/><path fill="#8af062" d="M366 235.4l5-2.5-4.1-2.8-5 2.5z"/><path fill="#8cf062" d="M370.1 238.5l5-2.6-4.1-3-5 2.5z"/><path fill="#8df061" d="M374.2 241.7l5-2.6-4.1-3.2-5 2.6z"/><path fill="#8ef061" d="M378.3 245l5-2.6-4.1-3.3-5 2.6z"/><path fill="#8ff060" d="M382.5 248.5l5-2.6-4.2-3.5-5 2.6z"/><path fill="#8ff060" d="M386.6 252.1l5-2.6-4.1-3.6-5 2.6z"/><path fill="#8ff060" d="M390.8 255.9l5-2.7-4.2-3.7-5 2.6z"/><path fill="#8ff05f" d="M395 259.9l5-2.8-4.2-3.9-5 2.7z"/><path fill="#8ff05f" d="M399.2 264l4.9-2.8-4.1-4.1-5 2.8z"/><path fill="#8ef05e" d="M403.3 268.2l5-2.9-4.2-4.1-4.9 2.8z"/><path fill="#8df05e" d="M407.5 272.5l5-2.9-4.2-4.3-5 2.9z"/><path fill="#8cf05e" d="M411.7 277l5-2.9-4.2-4.5-5 2.9z"/><path fill="#8af05d" d="M415.9 281.6l5-3-4.2-4.5-5 2.9z"/><path fill="#88f05d" d="M420.1 286.3l4.9-3.1-4.1-4.6-5 3z"/><path fill="#87f05d" d="M424.2 291.1l5-3.2-4.2-4.7-4.9 3.1z"/><path fill="#84f05c" d="M428.4 295.9l5-3.2-4.2-4.8-5 3.2z"/><path fill="#82f05c" d="M432.6 300.8l4.9-3.2-4.1-4.9-5 3.2z"/><path fill="#80f05b" d="M436.7 305.8l5-3.3-4.2-4.9-4.9 3.2z"/><path fill="#7df05b" d="M440.9 310.8l4.9-3.4-4.1-4.9-5 3.3z"/><path fill="#7af05b" d="M445 315.8l4.9-3.4-4.1-5-4.9 3.4z"/><path fill="#78f05a" d="M449.1 320.9l5-3.4-4.2-5.1-4.9 3.4z"/><path fill="#75f05a" d="M453.2 326l5-3.5-4.1-5-5 3.4z"/><path fill="#72f05a" d="M457.3 331.2l5-3.6-4.1-5.1-5 3.5z"/><path fill="#6ff059" d="M461.4 336.3l5-3.6-4.1-5.1-5 3.6z"/><path fill="#6cf059" d="M465.5 341.5l4.9-3.6-4-5.2-5 3.6z"/><path fill="#69f058" d="M469.6 346.6l4.9-3.6-4.1-5.1-4.9 3.6z"/><path fill="#66f058" d="M473.6 351.8l5-3.6-4.1-5.2-4.9 3.6z"/><path fill="#62f058" d="M477.7 357l4.9-3.7-4-5.1-5 3.6z"/><path fill="#5ff057" d="M481.7 362.3l4.9-3.8-4-5.2-4.9 3.7z"/><path fill="#5cf057" d="M485.8 367.5l4.9-3.7-4.1-5.3-4.9 3.8z"/><path fill="#54f053" d="M489.8 372.8l4.9-3.8-4-5.2-4.9 3.7z"/><path fill="#4ef04e" d="M493.8 378l4.9-3.7-4-5.3-4.9 3.8z"/><path fill="#4af04a" d="M497.8 383.3l4.9-3.8-4-5.2-4.9 3.7z"/><path fill="#46f04b" d="M501.7 388.7l4.9-3.8-3.9-5.4-4.9 3.8z"/><path fill="#42f050" d="M505.7 394l4.9-3.8-4-5.3-4.9 3.8z"/><path fill="#3df056" d="M509.6 399.4l4.9-3.8-3.9-5.4-4.9 3.8z"/><path fill="#39f05c" d="M513.6 404.8l4.9-3.8-4-5.4-4.9 3.8z"/><path fill="#35f064" d="M517.5 410.3l4.9-3.9-3.9-5.4-4.9 3.8z"/><path fill="#31f06c" d="M521.4 415.9l4.9-4-3.9-5.5-4.9 3.9z"/><path fill="#6af068" d="M317.4 214l4.9-2.4-3.7-.6-4.9 2.4z"/><path fill="#6ef067" d="M321.2 215.6l5-2.3-3.9-1.7-4.9 2.4z"/><path fill="#72f067" d="M325.1 217.4l4.9-2.4-3.8-1.7-5 2.3z"/><path fill="#76f066" d="M329 219.3l5-2.4-4-1.9-4.9 2.4z"/><path fill="#79f066" d="M332.9 221.3l5-2.5-3.9-1.9-5 2.4z"/><path fill="#7cf066" d="M336.9 223.4l4.9-2.5-3.9-2.1-5 2.5z"/><path fill="#7ff065" d="M340.8 225.5l5-2.5-4-2.1-4.9 2.5z"/><path fill="#82f065" d="M344.8 227.8l5-2.6-4-2.2-5 2.5z"/><path fill="#85f065" d="M348.8 230.1l5-2.5-4-2.4-5 2.6z"/><path fill="#88f064" d="M352.9 232.6l4.9-2.6-4-2.4-5 2.5z"/><path fill="#8af064" d="M356.9 235.2l5-2.6-4.1-2.6-4.9 2.6z"/><path fill="#8cf063" d="M361 238l5-2.6-4.1-2.8-5 2.6z"/><path fill="#8ef063" d="M365.1 241.1l5-2.6-4.1-3.1-5 2.6z"/><path fill="#8ff063" d="M369.2 244.3l5-2.6-4.1-3.2-5 2.6z"/><path fill="#90f062" d="M373.4 247.7l4.9-2.7-4.1-3.3-5 2.6z"/><path fill="#90f062" d="M377.5 251.2l5-2.7-4.2-3.5-4.9 2.7z"/><path fill="#91f061" d="M381.7 254.9l4.9-2.8-4.1-3.6-5 2.7z"/><path fill="#91f061" d="M385.8 258.7l5-2.8-4.2-3.8-4.9 2.8z"/><path fill="#91f061" d="M390 262.7l5-2.8-4.2-4-5 2.8z"/><path fill="#90f060" d="M394.2 266.9l5-2.9-4.2-4.1-5 2.8z"/><path fill="#8ff060" d="M398.4 271.1l4.9-2.9-4.1-4.2-5 2.9z"/><path fill="#8ef060" d="M402.6 275.5l4.9-3-4.2-4.3-4.9 2.9z"/><path fill="#8df05f" d="M406.7 280.1l5-3.1-4.2-4.5-4.9 3z"/><path fill="#8bf05f" d="M410.9 284.7l5-3.1-4.2-4.6-5 3.1z"/><path fill="#8af05e" d="M415.1 289.4l5-3.1-4.2-4.7-5 3.1z"/><path fill="#88f05e" d="M419.3 294.3l4.9-3.2-4.1-4.8-5 3.1z"/><path fill="#85f05e" d="M423.5 299.2l4.9-3.3-4.2-4.8-4.9 3.2z"/><path fill="#83f05d" d="M427.6 304.1l5-3.3-4.2-4.9-4.9 3.3z"/><path fill="#81f05d" d="M431.8 309.1l4.9-3.3-4.1-5-5 3.3z"/><path fill="#7ef05c" d="M435.9 314.2l5-3.4-4.2-5-4.9 3.3z"/><path fill="#7bf05c" d="M440.1 319.3l4.9-3.5-4.1-5-5 3.4z"/><path fill="#78f05c" d="M444.2 324.4l4.9-3.5-4.1-5.1-4.9 3.5z"/><path fill="#76f05b" d="M448.3 329.6l4.9-3.6-4.1-5.1-4.9 3.5z"/><path fill="#73f05b" d="M452.4 334.7l4.9-3.5-4.1-5.2-4.9 3.6z"/><path fill="#70f05b" d="M456.5 339.9l4.9-3.6-4.1-5.1-4.9 3.5z"/><path fill="#6cf05a" d="M460.6 345.1l4.9-3.6-4.1-5.2-4.9 3.6z"/><path fill="#69f05a" d="M464.7 350.3l4.9-3.7-4.1-5.1-4.9 3.6z"/><path fill="#66f059" d="M468.7 355.5l4.9-3.7-4-5.2-4.9 3.7z"/><path fill="#63f059" d="M472.8 360.8l4.9-3.8-4.1-5.2-4.9 3.7z"/><path fill="#60f059" d="M476.8 366l4.9-3.7-4-5.3-4.9 3.8z"/><path fill="#58f054" d="M480.8 371.3l5-3.8-4.1-5.2-4.9 3.7z"/><path fill="#51f050" d="M484.9 376.6l4.9-3.8-4-5.3-5 3.8z"/><path fill="#4cf04c" d="M488.9 381.9l4.9-3.9-4-5.2-4.9 3.8z"/><path fill="#47f047" d="M492.8 387.2l5-3.9-4-5.3-4.9 3.9z"/><path fill="#43f04b" d="M496.8 392.6l4.9-3.9-3.9-5.4-5 3.9z"/><path fill="#3ff050" d="M500.8 397.9l4.9-3.9-4-5.3-4.9 3.9z"/><path fill="#3bf057" d="M504.7 403.3l4.9-3.9-3.9-5.4-4.9 3.9z"/><path fill="#36f05e" d="M508.7 408.8l4.9-4-4-5.4-4.9 3.9z"/><path fill="#32f065" d="M512.6 414.3l4.9-4-3.9-5.5-4.9 4z"/><path fill="#2ef06e" d="M516.5 419.9l4.9-4-3.9-5.6-4.9 4z"/><path fill="#6cf069" d="M312.5 216.4l4.9-2.4-3.7-.6-4.9 2.4z"/><path fill="#71f069" d="M316.3 218.1l4.9-2.5-3.8-1.6-4.9 2.4z"/><path fill="#74f068" d="M320.2 219.9l4.9-2.5-3.9-1.8-4.9 2.5z"/><path fill="#78f068" d="M324.1 221.9l4.9-2.6-3.9-1.9-4.9 2.5z"/><path fill="#7bf068" d="M328 223.9l4.9-2.6-3.9-2-4.9 2.6z"/><path fill="#7ef067" d="M331.9 226l5-2.6-4-2.1-4.9 2.6z"/><path fill="#81f067" d="M335.9 228.2l4.9-2.7-3.9-2.1-5 2.6z"/><path fill="#84f066" d="M339.9 230.4l4.9-2.6-4-2.3-4.9 2.7z"/><path fill="#87f066" d="M343.9 232.8l4.9-2.7-4-2.3-4.9 2.6z"/><path fill="#89f066" d="M347.9 235.3l5-2.7-4.1-2.5-4.9 2.7z"/><path fill="#8cf065" d="M352 238l4.9-2.8-4-2.6-5 2.7z"/><path fill="#8ef065" d="M356 240.7l5-2.7-4.1-2.8-4.9 2.8z"/><path fill="#8ff064" d="M360.1 243.8l5-2.7-4.1-3.1-5 2.7z"/><path fill="#90f064" d="M364.3 247.1l4.9-2.8-4.1-3.2-5 2.7z"/><path fill="#91f064" d="M368.4 250.5l5-2.8-4.2-3.4-4.9 2.8z"/><path fill="#92f063" d="M372.5 254l5-2.8-4.1-3.5-5 2.8z"/><path fill="#92f063" d="M376.7 257.8l5-2.9-4.2-3.7-5 2.8z"/><path fill="#92f063" d="M380.9 261.6l4.9-2.9-4.1-3.8-5 2.9z"/><path fill="#92f062" d="M385 265.7l5-3-4.2-4-4.9 2.9z"/><path fill="#92f062" d="M389.2 269.9l5-3-4.2-4.2-5 3z"/><path fill="#91f061" d="M393.4 274.2l5-3.1-4.2-4.2-5 3z"/><path fill="#90f061" d="M397.6 278.6l5-3.1-4.2-4.4-5 3.1z"/><path fill="#8ef061" d="M401.8 283.2l4.9-3.1-4.1-4.6-5 3.1z"/><path fill="#8df060" d="M406 287.9l4.9-3.2-4.2-4.6-4.9 3.1z"/><path fill="#8bf060" d="M410.2 292.7l4.9-3.3-4.2-4.7-4.9 3.2z"/><path fill="#89f05f" d="M414.3 297.5l5-3.2-4.2-4.9-4.9 3.3z"/><path fill="#86f05f" d="M418.5 302.5l5-3.3-4.2-4.9-5 3.2z"/><path fill="#84f05f" d="M422.7 307.5l4.9-3.4-4.1-4.9-5 3.3z"/><path fill="#81f05e" d="M426.8 312.6l5-3.5-4.2-5-4.9 3.4z"/><path fill="#7ff05e" d="M431 317.7l4.9-3.5-4.1-5.1-5 3.5z"/><path fill="#7cf05e" d="M435.1 322.8l5-3.5-4.2-5.1-4.9 3.5z"/><path fill="#79f05d" d="M439.2 328l5-3.6-4.1-5.1-5 3.5z"/><path fill="#76f05d" d="M443.4 333.2l4.9-3.6-4.1-5.2-5 3.6z"/><path fill="#73f05c" d="M447.5 338.4l4.9-3.7-4.1-5.1-4.9 3.6z"/><path fill="#70f05c" d="M451.6 343.6l4.9-3.7-4.1-5.2-4.9 3.7z"/><path fill="#6df05c" d="M455.7 348.8l4.9-3.7-4.1-5.2-4.9 3.7z"/><path fill="#6af05b" d="M459.7 354l5-3.7-4.1-5.2-4.9 3.7z"/><path fill="#67f05b" d="M463.8 359.3l4.9-3.8-4-5.2-5 3.7z"/><path fill="#63f05a" d="M467.8 364.6l5-3.8-4.1-5.3-4.9 3.8z"/><path fill="#5cf056" d="M471.9 369.9l4.9-3.9-4-5.2-5 3.8z"/><path fill="#55f052" d="M475.9 375.1l4.9-3.8-4-5.3-4.9 3.9z"/><path fill="#4df04d" d="M479.9 380.5l5-3.9-4.1-5.3-4.9 3.8z"/><path fill="#49f049" d="M483.9 385.8l5-3.9-4-5.3-5 3.9z"/><path fill="#44f047" d="M487.9 391.1l4.9-3.9-3.9-5.3-5 3.9z"/><path fill="#40f04c" d="M491.9 396.5l4.9-3.9-4-5.4-4.9 3.9z"/><path fill="#3cf052" d="M495.9 401.9l4.9-4-4-5.3-4.9 3.9z"/><path fill="#38f058" d="M499.8 407.4l4.9-4.1-3.9-5.4-4.9 4z"/><path fill="#33f05f" d="M503.8 412.9l4.9-4.1-4-5.5-4.9 4.1z"/><path fill="#2ff068" d="M507.7 418.4l4.9-4.1-3.9-5.5-4.9 4.1z"/><path fill="#2bf071" d="M511.6 424l4.9-4.1-3.9-5.6-4.9 4.1z"/><path fill="#6ef06a" d="M307.6 218.9l4.9-2.5-3.7-.6-4.9 2.5z"/><path fill="#73f06a" d="M311.4 220.7l4.9-2.6-3.8-1.7-4.9 2.5z"/><path fill="#76f06a" d="M315.3 222.5l4.9-2.6-3.9-1.8-4.9 2.6z"/><path fill="#7af069" d="M319.1 224.5l5-2.6-3.9-2-4.9 2.6z"/><path fill="#7df069" d="M323.1 226.6l4.9-2.7-3.9-2-5 2.6z"/><path fill="#80f069" d="M327 228.7l4.9-2.7-3.9-2.1-4.9 2.7z"/><path fill="#83f068" d="M331 230.9l4.9-2.7-4-2.2-4.9 2.7z"/><path fill="#86f068" d="M334.9 233.2l5-2.8-4-2.2-4.9 2.7z"/><path fill="#88f067" d="M338.9 235.6l5-2.8-4-2.4-5 2.8z"/><path fill="#8bf067" d="M343 238.2l4.9-2.9-4-2.5-5 2.8z"/><path fill="#8df067" d="M347 240.8l5-2.8-4.1-2.7-4.9 2.9z"/><path fill="#8ff066" d="M351.1 243.6l4.9-2.9-4-2.7-5 2.8z"/><path fill="#91f066" d="M355.2 246.7l4.9-2.9-4.1-3.1-4.9 2.9z"/><path fill="#92f065" d="M359.3 250l5-2.9-4.2-3.3-4.9 2.9z"/><path fill="#93f065" d="M363.4 253.4l5-2.9-4.1-3.4-5 2.9z"/><path fill="#93f065" d="M367.6 257l4.9-3-4.1-3.5-5 2.9z"/><path fill="#94f064" d="M371.7 260.8l5-3-4.2-3.8-4.9 3z"/><path fill="#94f064" d="M375.9 264.7l5-3.1-4.2-3.8-5 3z"/><path fill="#93f064" d="M380.1 268.7l4.9-3-4.1-4.1-5 3.1z"/><path fill="#93f063" d="M384.3 273l4.9-3.1-4.2-4.2-4.9 3z"/><path fill="#92f063" d="M388.4 277.3l5-3.1-4.2-4.3-4.9 3.1z"/><path fill="#91f062" d="M392.6 281.8l5-3.2-4.2-4.4-5 3.1z"/><path fill="#8ff062" d="M396.8 286.4l5-3.2-4.2-4.6-5 3.2z"/><path fill="#8df062" d="M401 291.2l5-3.3-4.2-4.7-5 3.2z"/><path fill="#8bf061" d="M405.2 296l5-3.3-4.2-4.8-5 3.3z"/><path fill="#89f061" d="M409.4 300.9l4.9-3.4-4.1-4.8-5 3.3z"/><path fill="#87f061" d="M413.6 305.9l4.9-3.4-4.2-5-4.9 3.4z"/><path fill="#85f060" d="M417.7 311l5-3.5-4.2-5-4.9 3.4z"/><path fill="#82f060" d="M421.9 316.1l4.9-3.5-4.1-5.1-5 3.5z"/><path fill="#7ff05f" d="M426 321.2l5-3.5-4.2-5.1-4.9 3.5z"/><path fill="#7cf05f" d="M430.2 326.4l4.9-3.6-4.1-5.1-5 3.5z"/><path fill="#79f05f" d="M434.3 331.6l4.9-3.6-4.1-5.2-4.9 3.6z"/><path fill="#76f05e" d="M438.4 336.8l5-3.6-4.2-5.2-4.9 3.6z"/><path fill="#73f05e" d="M442.5 342.1l5-3.7-4.1-5.2-5 3.6z"/><path fill="#70f05d" d="M446.6 347.3l5-3.7-4.1-5.2-5 3.7z"/><path fill="#6df05d" d="M450.7 352.6l5-3.8-4.1-5.2-5 3.7z"/><path fill="#6af05d" d="M454.8 357.8l4.9-3.8-4-5.2-5 3.8z"/><path fill="#67f05c" d="M458.9 363.1l4.9-3.8-4.1-5.3-4.9 3.8z"/><path fill="#60f058" d="M462.9 368.4l4.9-3.8-4-5.3-4.9 3.8z"/><path fill="#58f053" d="M467 373.7l4.9-3.8-4.1-5.3-4.9 3.8z"/><path fill="#50f04f" d="M471 379.1l4.9-4-4-5.2-4.9 3.8z"/><path fill="#4af04a" d="M475 384.4l4.9-3.9-4-5.4-4.9 4z"/><path fill="#46f046" d="M479 389.7l4.9-3.9-4-5.3-4.9 3.9z"/><path fill="#41f048" d="M483 395.1l4.9-4-4-5.3-4.9 3.9z"/><path fill="#3df04d" d="M487 400.5l4.9-4-4-5.4-4.9 4z"/><path fill="#39f053" d="M491 406l4.9-4.1-4-5.4-4.9 4z"/><path fill="#34f05a" d="M494.9 411.5l4.9-4.1-3.9-5.5-4.9 4.1z"/><path fill="#30f062" d="M498.8 417l5-4.1-4-5.5-4.9 4.1z"/><path fill="#2cf06b" d="M502.8 422.6l4.9-4.2-3.9-5.5-5 4.1z"/><path fill="#28f074" d="M506.7 428.3l4.9-4.3-3.9-5.6-4.9 4.2z"/><path fill="#70f06c" d="M302.6 221.5l5-2.6-3.7-.6-4.9 2.5z"/><path fill="#75f06c" d="M306.5 223.3l4.9-2.6-3.8-1.8-5 2.6z"/><path fill="#78f06b" d="M310.3 225.2l5-2.7-3.9-1.8-4.9 2.6z"/><path fill="#7bf06b" d="M314.2 227.3l4.9-2.8-3.8-2-5 2.7z"/><path fill="#7ff06a" d="M318.1 229.4l5-2.8-4-2.1-4.9 2.8z"/><path fill="#82f06a" d="M322.1 231.5l4.9-2.8-3.9-2.1-5 2.8z"/><path fill="#84f06a" d="M326 233.8l5-2.9-4-2.2-4.9 2.8z"/><path fill="#87f069" d="M330 236.1l4.9-2.9-3.9-2.3-5 2.9z"/><path fill="#8af069" d="M334 238.6l4.9-3-4-2.4-4.9 2.9z"/><path fill="#8cf068" d="M338 241.2l5-3-4.1-2.6-4.9 3z"/><path fill="#8ef068" d="M342.1 243.8l4.9-3-4-2.6-5 3z"/><path fill="#90f068" d="M346.1 246.7l5-3.1-4.1-2.8-4.9 3z"/><path fill="#92f067" d="M350.2 249.7l5-3-4.1-3.1-5 3.1z"/><path fill="#93f067" d="M354.3 253l5-3-4.1-3.3-5 3z"/><path fill="#94f067" d="M358.5 256.4l4.9-3-4.1-3.4-5 3z"/><path fill="#95f066" d="M362.6 260.1l5-3.1-4.2-3.6-4.9 3z"/><path fill="#95f066" d="M366.8 263.9l4.9-3.1-4.1-3.8-5 3.1z"/><path fill="#95f065" d="M370.9 267.8l5-3.1-4.2-3.9-4.9 3.1z"/><path fill="#94f065" d="M375.1 271.9l5-3.2-4.2-4-5 3.1z"/><path fill="#94f065" d="M379.3 276.2l5-3.2-4.2-4.3-5 3.2z"/><path fill="#93f064" d="M383.5 280.6l4.9-3.3-4.1-4.3-5 3.2z"/><path fill="#91f064" d="M387.7 285.1l4.9-3.3-4.2-4.5-4.9 3.3z"/><path fill="#90f063" d="M391.9 289.8l4.9-3.4-4.2-4.6-4.9 3.3z"/><path fill="#8ef063" d="M396.1 294.6l4.9-3.4-4.2-4.8-4.9 3.4z"/><path fill="#8cf063" d="M400.3 299.5l4.9-3.5-4.2-4.8-4.9 3.4z"/><path fill="#8af062" d="M404.4 304.4l5-3.5-4.2-4.9-4.9 3.5z"/><path fill="#88f062" d="M408.6 309.4l5-3.5-4.2-5-5 3.5z"/><path fill="#85f062" d="M412.8 314.5l4.9-3.5-4.1-5.1-5 3.5z"/><path fill="#82f061" d="M416.9 319.7l5-3.6-4.2-5.1-4.9 3.5z"/><path fill="#80f061" d="M421.1 324.9l4.9-3.7-4.1-5.1-5 3.6z"/><path fill="#7df060" d="M425.2 330.1l5-3.7-4.2-5.2-4.9 3.7z"/><path fill="#7af060" d="M429.4 335.3l4.9-3.7-4.1-5.2-5 3.7z"/><path fill="#77f060" d="M433.5 340.6l4.9-3.8-4.1-5.2-4.9 3.7z"/><path fill="#74f05f" d="M437.6 345.9l4.9-3.8-4.1-5.3-4.9 3.8z"/><path fill="#71f05f" d="M441.7 351.1l4.9-3.8-4.1-5.2-4.9 3.8z"/><path fill="#6df05e" d="M445.8 356.4l4.9-3.8-4.1-5.3-4.9 3.8z"/><path fill="#6af05e" d="M449.9 361.7l4.9-3.9-4.1-5.2-4.9 3.8z"/><path fill="#63f059" d="M454 367l4.9-3.9-4.1-5.3-4.9 3.9z"/><path fill="#5bf055" d="M458 372.4l4.9-4-4-5.3-4.9 3.9z"/><path fill="#54f050" d="M462.1 377.7l4.9-4-4.1-5.3-4.9 4z"/><path fill="#4cf04c" d="M466.1 383l4.9-3.9-4-5.4-4.9 4z"/><path fill="#47f047" d="M470.1 388.4l4.9-4-4-5.3-4.9 3.9z"/><path fill="#43f044" d="M474.1 393.8l4.9-4.1-4-5.3-4.9 4z"/><path fill="#3ef049" d="M478.1 399.2l4.9-4.1-4-5.4-4.9 4.1z"/><path fill="#3af04f" d="M482.1 404.6l4.9-4.1-4-5.4-4.9 4.1z"/><path fill="#36f055" d="M486.1 410.1l4.9-4.1-4-5.5-4.9 4.1z"/><path fill="#31f05d" d="M490 415.6l4.9-4.1-3.9-5.5-4.9 4.1z"/><path fill="#2df065" d="M493.9 421.2l4.9-4.2-3.9-5.5-4.9 4.1z"/><path fill="#29f06e" d="M497.9 426.9l4.9-4.3-4-5.6-4.9 4.2z"/><path fill="#24f079" d="M501.7 432.7l5-4.4-3.9-5.7-4.9 4.3z"/><path fill="#72f06d" d="M297.7 224.2l4.9-2.7-3.6-.7-4.9 2.7z"/><path fill="#77f06d" d="M301.6 226.1l4.9-2.8-3.9-1.8-4.9 2.7z"/><path fill="#7af06d" d="M305.4 228l4.9-2.8-3.8-1.9-4.9 2.8z"/><path fill="#7df06c" d="M309.3 230.1l4.9-2.8-3.9-2.1-4.9 2.8z"/><path fill="#80f06c" d="M313.2 232.2l4.9-2.8-3.9-2.1-4.9 2.8z"/><path fill="#83f06b" d="M317.2 234.5l4.9-3-4-2.1-4.9 2.8z"/><path fill="#86f06b" d="M321.1 236.8l4.9-3-3.9-2.3-4.9 3z"/><path fill="#88f06b" d="M325.1 239.2l4.9-3.1-4-2.3-4.9 3z"/><path fill="#8bf06a" d="M329.1 241.7l4.9-3.1-4-2.5-4.9 3.1z"/><path fill="#8df06a" d="M333.1 244.3l4.9-3.1-4-2.6-4.9 3.1z"/><path fill="#8ff06a" d="M337.1 247l5-3.2-4.1-2.6-4.9 3.1z"/><path fill="#91f069" d="M341.2 249.9l4.9-3.2-4-2.9-5 3.2z"/><path fill="#93f069" d="M345.3 252.9l4.9-3.2-4.1-3-4.9 3.2z"/><path fill="#94f068" d="M349.4 256.1l4.9-3.1-4.1-3.3-4.9 3.2z"/><path fill="#95f068" d="M353.5 259.6l5-3.2-4.2-3.4-4.9 3.1z"/><path fill="#95f068" d="M357.6 263.3l5-3.2-4.1-3.7-5 3.2z"/><path fill="#96f067" d="M361.8 267.1l5-3.2-4.2-3.8-5 3.2z"/><path fill="#95f067" d="M366 271.1l4.9-3.3-4.1-3.9-5 3.2z"/><path fill="#95f066" d="M370.2 275.3l4.9-3.4-4.2-4.1-4.9 3.3z"/><path fill="#94f066" d="M374.3 279.6l5-3.4-4.2-4.3-4.9 3.4z"/><path fill="#93f066" d="M378.5 284l5-3.4-4.2-4.4-5 3.4z"/><path fill="#92f065" d="M382.7 288.6l5-3.5-4.2-4.5-5 3.4z"/><path fill="#90f065" d="M386.9 293.3l5-3.5-4.2-4.7-5 3.5z"/><path fill="#8ff065" d="M391.1 298.1l5-3.5-4.2-4.8-5 3.5z"/><path fill="#8df064" d="M395.3 303l5-3.5-4.2-4.9-5 3.5z"/><path fill="#8af064" d="M399.5 308l4.9-3.6-4.1-4.9-5 3.5z"/><path fill="#88f063" d="M403.7 313.1l4.9-3.7-4.2-5-4.9 3.6z"/><path fill="#85f063" d="M407.9 318.2l4.9-3.7-4.2-5.1-4.9 3.7z"/><path fill="#83f063" d="M412 323.4l4.9-3.7-4.1-5.2-4.9 3.7z"/><path fill="#80f062" d="M416.2 328.6l4.9-3.7-4.2-5.2-4.9 3.7z"/><path fill="#7df062" d="M420.3 333.9l4.9-3.8-4.1-5.2-4.9 3.7z"/><path fill="#7af061" d="M424.5 339.1l4.9-3.8-4.2-5.2-4.9 3.8z"/><path fill="#77f061" d="M428.6 344.4l4.9-3.8-4.1-5.3-4.9 3.8z"/><path fill="#74f061" d="M432.7 349.7l4.9-3.8-4.1-5.3-4.9 3.8z"/><path fill="#71f060" d="M436.8 355l4.9-3.9-4.1-5.2-4.9 3.8z"/><path fill="#6df060" d="M440.9 360.3l4.9-3.9-4.1-5.3-4.9 3.9z"/><path fill="#66f05b" d="M445 365.7l4.9-4-4.1-5.3-4.9 3.9z"/><path fill="#5ff057" d="M449 371l5-4-4.1-5.3-4.9 4z"/><path fill="#57f052" d="M453.1 376.4l4.9-4-4-5.4-5 4z"/><path fill="#4ff04d" d="M457.2 381.7l4.9-4-4.1-5.3-4.9 4z"/><path fill="#49f049" d="M461.2 387.1l4.9-4.1-4-5.3-4.9 4z"/><path fill="#44f044" d="M465.2 392.5l4.9-4.1-4-5.4-4.9 4.1z"/><path fill="#40f045" d="M469.2 397.9l4.9-4.1-4-5.4-4.9 4.1z"/><path fill="#3bf04b" d="M473.2 403.3l4.9-4.1-4-5.4-4.9 4.1z"/><path fill="#37f051" d="M477.2 408.8l4.9-4.2-4-5.4-4.9 4.1z"/><path fill="#32f058" d="M481.2 414.4l4.9-4.3-4-5.5-4.9 4.2z"/><path fill="#2ef060" d="M485.1 419.9l4.9-4.3-3.9-5.5-4.9 4.3z"/><path fill="#2af069" d="M489 425.6l4.9-4.4-3.9-5.6-4.9 4.3z"/><path fill="#25f073" d="M492.9 431.3l5-4.4-4-5.7-4.9 4.4z"/><path fill="#21f07f" d="M496.8 437.2l4.9-4.5-3.8-5.8-5 4.4z"/><path fill="#74f06f" d="M292.9 227l4.8-2.8-3.6-.7-4.9 2.7z"/><path fill="#78f06e" d="M296.7 228.9l4.9-2.8-3.9-1.9-4.8 2.8z"/><path fill="#7bf06e" d="M300.5 230.9l4.9-2.9-3.8-1.9-4.9 2.8z"/><path fill="#7ef06e" d="M304.4 233.1l4.9-3-3.9-2.1-4.9 2.9z"/><path fill="#81f06d" d="M308.3 235.3l4.9-3.1-3.9-2.1-4.9 3z"/><path fill="#84f06d" d="M312.3 237.5l4.9-3-4-2.3-4.9 3.1z"/><path fill="#87f06c" d="M316.2 239.9l4.9-3.1-3.9-2.3-4.9 3z"/><path fill="#89f06c" d="M320.2 242.3l4.9-3.1-4-2.4-4.9 3.1z"/><path fill="#8cf06c" d="M324.2 244.9l4.9-3.2-4-2.5-4.9 3.1z"/><path fill="#8ef06b" d="M328.2 247.5l4.9-3.2-4-2.6-4.9 3.2z"/><path fill="#90f06b" d="M332.2 250.3l4.9-3.3-4-2.7-4.9 3.2z"/><path fill="#92f06b" d="M336.3 253.2l4.9-3.3-4.1-2.9-4.9 3.3z"/><path fill="#93f06a" d="M340.3 256.3l5-3.4-4.1-3-4.9 3.3z"/><path fill="#95f06a" d="M344.4 259.5l5-3.4-4.1-3.2-5 3.4z"/><path fill="#96f069" d="M348.6 262.9l4.9-3.3-4.1-3.5-5 3.4z"/><path fill="#96f069" d="M352.7 266.7l4.9-3.4-4.1-3.7-4.9 3.3z"/><path fill="#96f069" d="M356.9 270.5l4.9-3.4-4.2-3.8-4.9 3.4z"/><path fill="#96f068" d="M361 274.5l5-3.4-4.2-4-4.9 3.4z"/><path fill="#95f068" d="M365.2 278.7l5-3.4-4.2-4.2-5 3.4z"/><path fill="#95f068" d="M369.4 283.1l4.9-3.5-4.1-4.3-5 3.4z"/><path fill="#94f067" d="M373.6 287.5l4.9-3.5-4.2-4.4-4.9 3.5z"/><path fill="#92f067" d="M377.8 292.2l4.9-3.6-4.2-4.6-4.9 3.5z"/><path fill="#91f066" d="M382 296.9l4.9-3.6-4.2-4.7-4.9 3.6z"/><path fill="#8ff066" d="M386.2 301.7l4.9-3.6-4.2-4.8-4.9 3.6z"/><path fill="#8df066" d="M390.4 306.7l4.9-3.7-4.2-4.9-4.9 3.6z"/><path fill="#8af065" d="M394.6 311.7l4.9-3.7-4.2-5-4.9 3.7z"/><path fill="#88f065" d="M398.7 316.8l5-3.7-4.2-5.1-4.9 3.7z"/><path fill="#85f064" d="M402.9 322l5-3.8-4.2-5.1-5 3.7z"/><path fill="#83f064" d="M407.1 327.2l4.9-3.8-4.1-5.2-5 3.8z"/><path fill="#80f064" d="M411.3 332.4l4.9-3.8-4.2-5.2-4.9 3.8z"/><path fill="#7df063" d="M415.4 337.7l4.9-3.8-4.1-5.3-4.9 3.8z"/><path fill="#7af063" d="M419.5 343l5-3.9-4.2-5.2-4.9 3.8z"/><path fill="#77f063" d="M423.7 348.3l4.9-3.9-4.1-5.3-5 3.9z"/><path fill="#74f062" d="M427.8 353.6l4.9-3.9-4.1-5.3-4.9 3.9z"/><path fill="#71f062" d="M431.9 359l4.9-4-4.1-5.3-4.9 3.9z"/><path fill="#69f05d" d="M436 364.3l4.9-4-4.1-5.3-4.9 4z"/><path fill="#62f058" d="M440.1 369.7l4.9-4-4.1-5.4-4.9 4z"/><path fill="#5af053" d="M444.1 375.1l4.9-4.1-4-5.3-4.9 4z"/><path fill="#52f04f" d="M448.2 380.5l4.9-4.1-4.1-5.4-4.9 4.1z"/><path fill="#4af04a" d="M452.2 385.8l5-4.1-4.1-5.3-4.9 4.1z"/><path fill="#45f045" d="M456.3 391.2l4.9-4.1-4-5.4-5 4.1z"/><path fill="#41f042" d="M460.3 396.7l4.9-4.2-4-5.4-4.9 4.1z"/><path fill="#3cf047" d="M464.3 402.1l4.9-4.2-4-5.4-4.9 4.2z"/><path fill="#38f04d" d="M468.3 407.6l4.9-4.3-4-5.4-4.9 4.2z"/><path fill="#33f054" d="M472.3 413.1l4.9-4.3-4-5.5-4.9 4.3z"/><path fill="#2ff05c" d="M476.3 418.7l4.9-4.3-4-5.6-4.9 4.3z"/><path fill="#2af064" d="M480.2 424.3l4.9-4.4-3.9-5.5-4.9 4.3z"/><path fill="#26f06e" d="M484.1 430.1l4.9-4.5-3.9-5.7-4.9 4.4z"/><path fill="#22f079" d="M488 435.9l4.9-4.6-3.9-5.7-4.9 4.5z"/><path fill="#1df085" d="M491.9 441.9l4.9-4.7-3.9-5.9-4.9 4.6z"/><path fill="#76f070" d="M288 229.8l4.9-2.8-3.7-.8-4.9 2.7z"/><path fill="#7af070" d="M291.8 231.8l4.9-2.9-3.8-1.9-4.9 2.8z"/><path fill="#7df06f" d="M295.7 233.9l4.8-3-3.8-2-4.9 2.9z"/><path fill="#80f06f" d="M299.5 236.1l4.9-3-3.9-2.2-4.8 3z"/><path fill="#82f06f" d="M303.4 238.4l4.9-3.1-3.9-2.2-4.9 3z"/><path fill="#85f06e" d="M307.4 240.7l4.9-3.2-4-2.2-4.9 3.1z"/><path fill="#88f06e" d="M311.3 243.1l4.9-3.2-3.9-2.4-4.9 3.2z"/><path fill="#8af06e" d="M315.3 245.6l4.9-3.3-4-2.4-4.9 3.2z"/><path fill="#8cf06d" d="M319.3 248.2l4.9-3.3-4-2.6-4.9 3.3z"/><path fill="#8ef06d" d="M323.3 251l4.9-3.5-4-2.6-4.9 3.3z"/><path fill="#90f06c" d="M327.3 253.8l4.9-3.5-4-2.8-4.9 3.5z"/><path fill="#92f06c" d="M331.4 256.8l4.9-3.6-4.1-2.9-4.9 3.5z"/><path fill="#94f06c" d="M335.4 259.9l4.9-3.6-4-3.1-4.9 3.6z"/><path fill="#95f06b" d="M339.5 263.1l4.9-3.6-4.1-3.2-4.9 3.6z"/><path fill="#96f06b" d="M343.6 266.6l5-3.7-4.2-3.4-4.9 3.6z"/><path fill="#96f06a" d="M347.8 270.2l4.9-3.5-4.1-3.8-5 3.7z"/><path fill="#96f06a" d="M351.9 274.1l5-3.6-4.2-3.8-4.9 3.5z"/><path fill="#96f06a" d="M356.1 278.1l4.9-3.6-4.1-4-5 3.6z"/><path fill="#96f069" d="M360.3 282.3l4.9-3.6-4.2-4.2-4.9 3.6z"/><path fill="#95f069" d="M364.5 286.7l4.9-3.6-4.2-4.4-4.9 3.6z"/><path fill="#94f069" d="M368.7 291.2l4.9-3.7-4.2-4.4-4.9 3.6z"/><path fill="#92f068" d="M372.9 295.9l4.9-3.7-4.2-4.7-4.9 3.7z"/><path fill="#91f068" d="M377.1 300.6l4.9-3.7-4.2-4.7-4.9 3.7z"/><path fill="#8ff067" d="M381.3 305.5l4.9-3.8-4.2-4.8-4.9 3.7z"/><path fill="#8df067" d="M385.5 310.5l4.9-3.8-4.2-5-4.9 3.8z"/><path fill="#8af067" d="M389.6 315.5l5-3.8-4.2-5-4.9 3.8z"/><path fill="#88f066" d="M393.8 320.7l4.9-3.9-4.1-5.1-5 3.8z"/><path fill="#85f066" d="M398 325.8l4.9-3.8-4.2-5.2-4.9 3.9z"/><path fill="#83f065" d="M402.2 331.1l4.9-3.9-4.2-5.2-4.9 3.8z"/><path fill="#80f065" d="M406.3 336.3l5-3.9-4.2-5.2-4.9 3.9z"/><path fill="#7df065" d="M410.5 341.6l4.9-3.9-4.1-5.3-5 3.9z"/><path fill="#7af064" d="M414.6 347l4.9-4-4.1-5.3-4.9 3.9z"/><path fill="#77f064" d="M418.8 352.3l4.9-4-4.2-5.3-4.9 4z"/><path fill="#74f064" d="M422.9 357.7l4.9-4.1-4.1-5.3-4.9 4z"/><path fill="#6cf05f" d="M427 363l4.9-4-4.1-5.4-4.9 4.1z"/><path fill="#65f05a" d="M431.1 368.4l4.9-4.1-4.1-5.3-4.9 4z"/><path fill="#5df055" d="M435.2 373.8l4.9-4.1-4.1-5.4-4.9 4.1z"/><path fill="#55f050" d="M439.2 379.2l4.9-4.1-4-5.4-4.9 4.1z"/><path fill="#4df04b" d="M443.3 384.6l4.9-4.1-4.1-5.4-4.9 4.1z"/><path fill="#47f047" d="M447.3 390l4.9-4.2-4-5.3-4.9 4.1z"/><path fill="#42f042" d="M451.4 395.5l4.9-4.3-4.1-5.4-4.9 4.2z"/><path fill="#3df045" d="M455.4 400.9l4.9-4.2-4-5.5-4.9 4.3z"/><path fill="#39f04a" d="M459.4 406.4l4.9-4.3-4-5.4-4.9 4.2z"/><path fill="#34f051" d="M463.4 411.9l4.9-4.3-4-5.5-4.9 4.3z"/><path fill="#30f058" d="M467.4 417.5l4.9-4.4-4-5.5-4.9 4.3z"/><path fill="#2bf060" d="M471.4 423.2l4.9-4.5-4-5.6-4.9 4.4z"/><path fill="#27f06a" d="M475.3 428.9l4.9-4.6-3.9-5.6-4.9 4.5z"/><path fill="#22f074" d="M479.2 434.7l4.9-4.6-3.9-5.8-4.9 4.6z"/><path fill="#1ef080" d="M483.1 440.6l4.9-4.7-3.9-5.8-4.9 4.6z"/><path fill="#19f08e" d="M487 446.7l4.9-4.8-3.9-6-4.9 4.7z"/><path fill="#77f072" d="M283.1 232.8l4.9-3-3.7-.9-4.9 2.9z"/><path fill="#7bf071" d="M286.9 234.8l4.9-3-3.8-2-4.9 3z"/><path fill="#7ef071" d="M290.8 237l4.9-3.1-3.9-2.1-4.9 3z"/><path fill="#81f071" d="M294.7 239.3l4.8-3.2-3.8-2.2-4.9 3.1z"/><path fill="#83f070" d="M298.6 241.6l4.8-3.2-3.9-2.3-4.8 3.2z"/><path fill="#86f070" d="M302.5 244l4.9-3.3-4-2.3-4.8 3.2z"/><path fill="#88f06f" d="M306.4 246.5l4.9-3.4-3.9-2.4-4.9 3.3z"/><path fill="#8bf06f" d="M310.4 249.1l4.9-3.5-4-2.5-4.9 3.4z"/><path fill="#8df06f" d="M314.4 251.7l4.9-3.5-4-2.6-4.9 3.5z"/><path fill="#8ff06e" d="M318.4 254.5l4.9-3.5-4-2.8-4.9 3.5z"/><path fill="#91f06e" d="M322.4 257.4l4.9-3.6-4-2.8-4.9 3.5z"/><path fill="#92f06d" d="M326.5 260.4l4.9-3.6-4.1-3-4.9 3.6z"/><path fill="#94f06d" d="M330.6 263.6l4.8-3.7-4-3.1-4.9 3.6z"/><path fill="#95f06d" d="M334.6 266.9l4.9-3.8-4.1-3.2-4.8 3.7z"/><path fill="#96f06c" d="M338.8 270.4l4.8-3.8-4.1-3.5-4.9 3.8z"/><path fill="#96f06c" d="M342.9 274l4.9-3.8-4.2-3.6-4.8 3.8z"/><path fill="#96f06c" d="M347 277.9l4.9-3.8-4.1-3.9-4.9 3.8z"/><path fill="#96f06b" d="M351.2 281.8l4.9-3.7-4.2-4-4.9 3.8z"/><path fill="#96f06b" d="M355.4 286.1l4.9-3.8-4.2-4.2-4.9 3.7z"/><path fill="#95f06a" d="M359.6 290.5l4.9-3.8-4.2-4.4-4.9 3.8z"/><path fill="#94f06a" d="M363.7 295l5-3.8-4.2-4.5-4.9 3.8z"/><path fill="#92f06a" d="M367.9 299.7l5-3.8-4.2-4.7-5 3.8z"/><path fill="#90f069" d="M372.1 304.5l5-3.9-4.2-4.7-5 3.8z"/><path fill="#8ff069" d="M376.3 309.4l5-3.9-4.2-4.9-5 3.9z"/><path fill="#8cf068" d="M380.5 314.4l5-3.9-4.2-5-5 3.9z"/><path fill="#8af068" d="M384.7 319.5l4.9-4-4.1-5-5 3.9z"/><path fill="#88f068" d="M388.9 324.6l4.9-3.9-4.2-5.2-4.9 4z"/><path fill="#85f067" d="M393.1 329.8l4.9-4-4.2-5.1-4.9 3.9z"/><path fill="#82f067" d="M397.3 335.1l4.9-4-4.2-5.3-4.9 4z"/><path fill="#7ff067" d="M401.4 340.4l4.9-4.1-4.1-5.2-4.9 4z"/><path fill="#7cf066" d="M405.6 345.7l4.9-4.1-4.2-5.3-4.9 4.1z"/><path fill="#79f066" d="M409.7 351l4.9-4-4.1-5.4-4.9 4.1z"/><path fill="#76f065" d="M413.9 356.4l4.9-4.1-4.2-5.3-4.9 4z"/><path fill="#6ff060" d="M418 361.8l4.9-4.1-4.1-5.4-4.9 4.1z"/><path fill="#68f05b" d="M422.1 367.2l4.9-4.2-4.1-5.3-4.9 4.1z"/><path fill="#60f057" d="M426.2 372.6l4.9-4.2-4.1-5.4-4.9 4.2z"/><path fill="#58f052" d="M430.3 378l4.9-4.2-4.1-5.4-4.9 4.2z"/><path fill="#50f04d" d="M434.3 383.4l4.9-4.2-4-5.4-4.9 4.2z"/><path fill="#48f048" d="M438.4 388.9l4.9-4.3-4.1-5.4-4.9 4.2z"/><path fill="#43f043" d="M442.5 394.3l4.8-4.3-4-5.4-4.9 4.3z"/><path fill="#3ff042" d="M446.5 399.8l4.9-4.3-4.1-5.5-4.8 4.3z"/><path fill="#3af047" d="M450.5 405.3l4.9-4.4-4-5.4-4.9 4.3z"/><path fill="#35f04e" d="M454.5 410.8l4.9-4.4-4-5.5-4.9 4.4z"/><path fill="#31f055" d="M458.5 416.4l4.9-4.5-4-5.5-4.9 4.4z"/><path fill="#2cf05d" d="M462.5 422l4.9-4.5-4-5.6-4.9 4.5z"/><path fill="#27f066" d="M466.5 427.8l4.9-4.6-4-5.7-4.9 4.5z"/><path fill="#23f070" d="M470.4 433.6l4.9-4.7-3.9-5.7-4.9 4.6z"/><path fill="#1ef07c" d="M474.3 439.5l4.9-4.8-3.9-5.8-4.9 4.7z"/><path fill="#1af089" d="M478.2 445.6l4.9-5-3.9-5.9-4.9 4.8z"/><path fill="#16f098" d="M482.1 451.8l4.9-5.1-3.9-6.1-4.9 5z"/><path fill="#78f073" d="M278.2 235.8l4.9-3-3.7-1-4.8 2.9z"/><path fill="#7cf073" d="M282.1 237.9l4.8-3.1-3.8-2-4.9 3z"/><path fill="#7ff072" d="M285.9 240.2l4.9-3.2-3.9-2.2-4.8 3.1z"/><path fill="#81f072" d="M289.8 242.5l4.9-3.2-3.9-2.3-4.9 3.2z"/><path fill="#84f072" d="M293.7 245l4.9-3.4-3.9-2.3-4.9 3.2z"/><path fill="#86f071" d="M297.6 247.4l4.9-3.4-3.9-2.4-4.9 3.4z"/><path fill="#89f071" d="M301.6 250l4.8-3.5-3.9-2.5-4.9 3.4z"/><path fill="#8bf070" d="M305.6 252.6l4.8-3.5-4-2.6-4.8 3.5z"/><path fill="#8df070" d="M309.5 255.4l4.9-3.7-4-2.6-4.8 3.5z"/><path fill="#8ff070" d="M313.5 258.2l4.9-3.7-4-2.8-4.9 3.7z"/><path fill="#90f06f" d="M317.6 261.2l4.8-3.8-4-2.9-4.9 3.7z"/><path fill="#92f06f" d="M321.6 264.3l4.9-3.9-4.1-3-4.8 3.8z"/><path fill="#93f06f" d="M325.7 267.5l4.9-3.9-4.1-3.2-4.9 3.9z"/><path fill="#94f06e" d="M329.8 270.9l4.8-4-4-3.3-4.9 3.9z"/><path fill="#95f06e" d="M333.9 274.4l4.9-4-4.2-3.5-4.8 4z"/><path fill="#96f06d" d="M338 278.1l4.9-4.1-4.1-3.6-4.9 4z"/><path fill="#96f06d" d="M342.2 281.9l4.8-4-4.1-3.9-4.9 4.1z"/><path fill="#96f06d" d="M346.3 286l4.9-4.2-4.2-3.9-4.8 4z"/><path fill="#95f06c" d="M350.5 290.1l4.9-4-4.2-4.3-4.9 4.2z"/><path fill="#94f06c" d="M354.7 294.5l4.9-4-4.2-4.4-4.9 4z"/><path fill="#93f06b" d="M358.8 299l4.9-4-4.1-4.5-4.9 4z"/><path fill="#92f06b" d="M363 303.7l4.9-4-4.2-4.7-4.9 4z"/><path fill="#90f06b" d="M367.2 308.5l4.9-4-4.2-4.8-4.9 4z"/><path fill="#8ef06a" d="M371.4 313.4l4.9-4-4.2-4.9-4.9 4z"/><path fill="#8cf06a" d="M375.6 318.4l4.9-4-4.2-5-4.9 4z"/><path fill="#8af06a" d="M379.8 323.5l4.9-4-4.2-5.1-4.9 4z"/><path fill="#87f069" d="M384 328.7l4.9-4.1-4.2-5.1-4.9 4z"/><path fill="#85f069" d="M388.2 333.9l4.9-4.1-4.2-5.2-4.9 4.1z"/><path fill="#82f068" d="M392.4 339.2l4.9-4.1-4.2-5.3-4.9 4.1z"/><path fill="#7ff068" d="M396.5 344.5l4.9-4.1-4.1-5.3-4.9 4.1z"/><path fill="#7cf068" d="M400.7 349.9l4.9-4.2-4.2-5.3-4.9 4.1z"/><path fill="#79f067" d="M404.8 355.3l4.9-4.3-4.1-5.3-4.9 4.2z"/><path fill="#72f062" d="M409 360.7l4.9-4.3-4.2-5.4-4.9 4.3z"/><path fill="#6af05d" d="M413.1 366.1l4.9-4.3-4.1-5.4-4.9 4.3z"/><path fill="#62f058" d="M417.2 371.5l4.9-4.3-4.1-5.4-4.9 4.3z"/><path fill="#5bf053" d="M421.3 376.9l4.9-4.3-4.1-5.4-4.9 4.3z"/><path fill="#52f04e" d="M425.4 382.3l4.9-4.3-4.1-5.4-4.9 4.3z"/><path fill="#4af049" d="M429.5 387.7l4.8-4.3-4-5.4-4.9 4.3z"/><path fill="#45f045" d="M433.5 393.2l4.9-4.3-4.1-5.5-4.8 4.3z"/><path fill="#40f040" d="M437.6 398.7l4.9-4.4-4.1-5.4-4.9 4.3z"/><path fill="#3bf045" d="M441.6 404.2l4.9-4.4-4-5.5-4.9 4.4z"/><path fill="#36f04b" d="M445.6 409.7l4.9-4.4-4-5.5-4.9 4.4z"/><path fill="#31f052" d="M449.6 415.3l4.9-4.5-4-5.5-4.9 4.4z"/><path fill="#2df05a" d="M453.6 421l4.9-4.6-4-5.6-4.9 4.5z"/><path fill="#28f063" d="M457.6 426.7l4.9-4.7-4-5.6-4.9 4.6z"/><path fill="#24f06d" d="M461.6 432.5l4.9-4.7-4-5.8-4.9 4.7z"/><path fill="#1ff078" d="M465.5 438.4l4.9-4.8-3.9-5.8-4.9 4.7z"/><path fill="#1af085" d="M469.4 444.5l4.9-5-3.9-5.9-4.9 4.8z"/><path fill="#16f094" d="M473.3 450.7l4.9-5.1-3.9-6.1-4.9 5z"/><path fill="#12f0a5" d="M477.2 457.1l4.9-5.3-3.9-6.2-4.9 5.1z"/><path fill="#7af075" d="M273.4 238.9l4.8-3.1-3.6-1.1-4.9 3z"/><path fill="#7df074" d="M277.2 241.1l4.9-3.2-3.9-2.1-4.8 3.1z"/><path fill="#80f074" d="M281.1 243.5l4.8-3.3-3.8-2.3-4.9 3.2z"/><path fill="#82f073" d="M285 245.9l4.8-3.4-3.9-2.3-4.8 3.3z"/><path fill="#85f073" d="M288.9 248.4l4.8-3.4-3.9-2.5-4.8 3.4z"/><path fill="#87f073" d="M292.8 251l4.8-3.6-3.9-2.4-4.8 3.4z"/><path fill="#89f072" d="M296.8 253.6l4.8-3.6-4-2.6-4.8 3.6z"/><path fill="#8bf072" d="M300.7 256.3l4.9-3.7-4-2.6-4.8 3.6z"/><path fill="#8df071" d="M304.7 259.2l4.8-3.8-3.9-2.8-4.9 3.7z"/><path fill="#8ff071" d="M308.7 262.1l4.8-3.9-4-2.8-4.8 3.8z"/><path fill="#90f071" d="M312.7 265.1l4.9-3.9-4.1-3-4.8 3.9z"/><path fill="#92f070" d="M316.8 268.2l4.8-3.9-4-3.1-4.9 3.9z"/><path fill="#93f070" d="M320.8 271.5l4.9-4-4.1-3.2-4.8 3.9z"/><path fill="#94f070" d="M324.9 275l4.9-4.1-4.1-3.4-4.9 4z"/><path fill="#94f06f" d="M329 278.5l4.9-4.1-4.1-3.5-4.9 4.1z"/><path fill="#95f06f" d="M333.2 282.3l4.8-4.2-4.1-3.7-4.9 4.1z"/><path fill="#95f06e" d="M337.3 286.2l4.9-4.3-4.2-3.8-4.8 4.2z"/><path fill="#95f06e" d="M341.5 290.2l4.8-4.2-4.1-4.1-4.9 4.3z"/><path fill="#94f06e" d="M345.6 294.4l4.9-4.3-4.2-4.1-4.8 4.2z"/><path fill="#93f06d" d="M349.8 298.8l4.9-4.3-4.2-4.4-4.9 4.3z"/><path fill="#92f06d" d="M354 303.3l4.8-4.3-4.1-4.5-4.9 4.3z"/><path fill="#91f06c" d="M358.2 308l4.8-4.3-4.2-4.7-4.8 4.3z"/><path fill="#8ff06c" d="M362.4 312.8l4.8-4.3-4.2-4.8-4.8 4.3z"/><path fill="#8df06c" d="M366.6 317.7l4.8-4.3-4.2-4.9-4.8 4.3z"/><path fill="#8bf06b" d="M370.8 322.7l4.8-4.3-4.2-5-4.8 4.3z"/><path fill="#89f06b" d="M375 327.8l4.8-4.3-4.2-5.1-4.8 4.3z"/><path fill="#86f06b" d="M379.1 333l4.9-4.3-4.2-5.2-4.8 4.3z"/><path fill="#84f06a" d="M383.3 338.2l4.9-4.3-4.2-5.2-4.9 4.3z"/><path fill="#81f06a" d="M387.5 343.5l4.9-4.3-4.2-5.3-4.9 4.3z"/><path fill="#7ef069" d="M391.7 348.9l4.8-4.4-4.1-5.3-4.9 4.3z"/><path fill="#7bf069" d="M395.8 354.2l4.9-4.3-4.2-5.4-4.8 4.4z"/><path fill="#74f064" d="M400 359.6l4.8-4.3-4.1-5.4-4.9 4.3z"/><path fill="#6cf05f" d="M404.1 365l4.9-4.3-4.2-5.4-4.8 4.3z"/><path fill="#65f05a" d="M408.2 370.4l4.9-4.3-4.1-5.4-4.9 4.3z"/><path fill="#5df055" d="M412.3 375.8l4.9-4.3-4.1-5.4-4.9 4.3z"/><path fill="#55f050" d="M416.4 381.3l4.9-4.4-4.1-5.4-4.9 4.3z"/><path fill="#4cf04b" d="M420.5 386.7l4.9-4.4-4.1-5.4-4.9 4.4z"/><path fill="#46f046" d="M424.6 392.1l4.9-4.4-4.1-5.4-4.9 4.4z"/><path fill="#41f041" d="M428.6 397.6l4.9-4.4-4-5.5-4.9 4.4z"/><path fill="#3cf044" d="M432.7 403.1l4.9-4.4-4.1-5.5-4.9 4.4z"/><path fill="#37f049" d="M436.7 408.7l4.9-4.5-4-5.5-4.9 4.4z"/><path fill="#32f050" d="M440.8 414.3l4.8-4.6-4-5.5-4.9 4.5z"/><path fill="#2ef057" d="M444.8 419.9l4.8-4.6-4-5.6-4.8 4.6z"/><path fill="#29f060" d="M448.8 425.7l4.8-4.7-4-5.7-4.8 4.6z"/><path fill="#24f06a" d="M452.7 431.5l4.9-4.8-4-5.7-4.8 4.7z"/><path fill="#20f075" d="M456.7 437.4l4.9-4.9-4-5.8-4.9 4.8z"/><path fill="#1bf082" d="M460.6 443.5l4.9-5.1-3.9-5.9-4.9 4.9z"/><path fill="#16f090" d="M464.6 449.7l4.8-5.2-3.9-6.1-4.9 5.1z"/><path fill="#12f0a1" d="M468.4 456.1l4.9-5.4-3.9-6.2-4.8 5.2z"/><path fill="#0df0b4" d="M472.3 462.7l4.9-5.6-3.9-6.4-4.9 5.4z"/><path fill="#7bf076" d="M268.6 242.1l4.8-3.2-3.7-1.2-4.8 3z"/><path fill="#7ef076" d="M272.4 244.4l4.8-3.3-3.8-2.2-4.8 3.2z"/><path fill="#80f075" d="M276.3 246.9l4.8-3.4-3.9-2.4-4.8 3.3z"/><path fill="#83f075" d="M280.2 249.4l4.8-3.5-3.9-2.4-4.8 3.4z"/><path fill="#85f074" d="M284.1 252l4.8-3.6-3.9-2.5-4.8 3.5z"/><path fill="#87f074" d="M288 254.6l4.8-3.6-3.9-2.6-4.8 3.6z"/><path fill="#89f074" d="M291.9 257.4l4.9-3.8-4-2.6-4.8 3.6z"/><path fill="#8bf073" d="M295.9 260.2l4.8-3.9-3.9-2.7-4.9 3.8z"/><path fill="#8df073" d="M299.9 263.1l4.8-3.9-4-2.9-4.8 3.9z"/><path fill="#8ef073" d="M303.9 266.1l4.8-4-4-2.9-4.8 3.9z"/><path fill="#90f072" d="M307.9 269.2l4.8-4.1-4-3-4.8 4z"/><path fill="#91f072" d="M312 272.4l4.8-4.2-4.1-3.1-4.8 4.1z"/><path fill="#92f071" d="M316 275.7l4.8-4.2-4-3.3-4.8 4.2z"/><path fill="#93f071" d="M320.1 279.2l4.8-4.2-4.1-3.5-4.8 4.2z"/><path fill="#93f071" d="M324.2 282.8l4.8-4.3-4.1-3.5-4.8 4.2z"/><path fill="#94f070" d="M328.3 286.6l4.9-4.3-4.2-3.8-4.8 4.3z"/><path fill="#94f070" d="M332.5 290.6l4.8-4.4-4.1-3.9-4.9 4.3z"/><path fill="#93f06f" d="M336.6 294.7l4.9-4.5-4.2-4-4.8 4.4z"/><path fill="#93f06f" d="M340.8 298.9l4.8-4.5-4.1-4.2-4.9 4.5z"/><path fill="#92f06f" d="M345 303.3l4.8-4.5-4.2-4.4-4.8 4.5z"/><path fill="#91f06e" d="M349.1 307.8l4.9-4.5-4.2-4.5-4.8 4.5z"/><path fill="#90f06e" d="M353.3 312.5l4.9-4.5-4.2-4.7-4.9 4.5z"/><path fill="#8ef06e" d="M357.5 317.3l4.9-4.5-4.2-4.8-4.9 4.5z"/><path fill="#8cf06d" d="M361.7 322.2l4.9-4.5-4.2-4.9-4.9 4.5z"/><path fill="#8af06d" d="M365.9 327.2l4.9-4.5-4.2-5-4.9 4.5z"/><path fill="#88f06c" d="M370.1 332.3l4.9-4.5-4.2-5.1-4.9 4.5z"/><path fill="#85f06c" d="M374.3 337.5l4.8-4.5-4.1-5.2-4.9 4.5z"/><path fill="#83f06c" d="M378.5 342.7l4.8-4.5-4.2-5.2-4.8 4.5z"/><path fill="#80f06b" d="M382.6 348l4.9-4.5-4.2-5.3-4.8 4.5z"/><path fill="#7df06b" d="M386.8 353.3l4.9-4.4-4.2-5.4-4.9 4.5z"/><path fill="#76f066" d="M390.9 358.7l4.9-4.5-4.1-5.3-4.9 4.4z"/><path fill="#6ef060" d="M395.1 364l4.9-4.4-4.2-5.4-4.9 4.5z"/><path fill="#67f05b" d="M399.2 369.4l4.9-4.4-4.1-5.4-4.9 4.4z"/><path fill="#5ff056" d="M403.3 374.8l4.9-4.4-4.1-5.4-4.9 4.4z"/><path fill="#57f051" d="M407.4 380.3l4.9-4.5-4.1-5.4-4.9 4.4z"/><path fill="#4ff04c" d="M411.5 385.7l4.9-4.4-4.1-5.5-4.9 4.5z"/><path fill="#47f047" d="M415.6 391.2l4.9-4.5-4.1-5.4-4.9 4.4z"/><path fill="#42f042" d="M419.7 396.6l4.9-4.5-4.1-5.4-4.9 4.5z"/><path fill="#3df042" d="M423.8 402.2l4.8-4.6-4-5.5-4.9 4.5z"/><path fill="#38f048" d="M427.8 407.7l4.9-4.6-4.1-5.5-4.8 4.6z"/><path fill="#33f04e" d="M431.9 413.3l4.8-4.6-4-5.6-4.9 4.6z"/><path fill="#2ef056" d="M435.9 419l4.9-4.7-4.1-5.6-4.8 4.6z"/><path fill="#2af05e" d="M439.9 424.7l4.9-4.8-4-5.6-4.9 4.7z"/><path fill="#25f067" d="M443.9 430.5l4.9-4.8-4-5.8-4.9 4.8z"/><path fill="#20f072" d="M447.9 436.4l4.8-4.9-3.9-5.8-4.9 4.8z"/><path fill="#1bf07f" d="M451.8 442.5l4.9-5.1-4-5.9-4.8 4.9z"/><path fill="#17f08d" d="M455.8 448.7l4.8-5.2-3.9-6.1-4.9 5.1z"/><path fill="#12f09e" d="M459.7 455.1l4.9-5.4-4-6.2-4.8 5.2z"/><path fill="#0ef0b0" d="M463.6 461.7l4.8-5.6-3.8-6.4-4.9 5.4z"/><path fill="#09f0c6" d="M467.4 468.7l4.9-6-3.9-6.6-4.8 5.6z"/><path fill="#7cf077" d="M263.8 245.4l4.8-3.3-3.7-1.4-4.8 3.1z"/><path fill="#7ff077" d="M267.6 247.8l4.8-3.4-3.8-2.3-4.8 3.3z"/><path fill="#81f077" d="M271.5 250.3l4.8-3.4-3.9-2.5-4.8 3.4z"/><path fill="#83f076" d="M275.4 252.9l4.8-3.5-3.9-2.5-4.8 3.4z"/><path fill="#85f076" d="M279.3 255.6l4.8-3.6-3.9-2.6-4.8 3.5z"/><path fill="#87f076" d="M283.2 258.4l4.8-3.8-3.9-2.6-4.8 3.6z"/><path fill="#89f075" d="M287.1 261.2l4.8-3.8-3.9-2.8-4.8 3.8z"/><path fill="#8bf075" d="M291.1 264.1l4.8-3.9-4-2.8-4.8 3.8z"/><path fill="#8cf074" d="M295.1 267.1l4.8-4-4-2.9-4.8 3.9z"/><path fill="#8ef074" d="M299.1 270.2l4.8-4.1-4-3-4.8 4z"/><path fill="#8ff074" d="M303.1 273.3l4.8-4.1-4-3.1-4.8 4.1z"/><path fill="#90f073" d="M307.2 276.6l4.8-4.2-4.1-3.2-4.8 4.1z"/><path fill="#91f073" d="M311.2 280.1l4.8-4.4-4-3.3-4.8 4.2z"/><path fill="#92f072" d="M315.3 283.6l4.8-4.4-4.1-3.5-4.8 4.4z"/><path fill="#92f072" d="M319.4 287.3l4.8-4.5-4.1-3.6-4.8 4.4z"/><path fill="#92f072" d="M323.5 291.1l4.8-4.5-4.1-3.8-4.8 4.5z"/><path fill="#92f071" d="M327.7 295.1l4.8-4.5-4.2-4-4.8 4.5z"/><path fill="#92f071" d="M331.8 299.2l4.8-4.5-4.1-4.1-4.8 4.5z"/><path fill="#91f071" d="M336 303.5l4.8-4.6-4.2-4.2-4.8 4.5z"/><path fill="#91f070" d="M340.1 307.9l4.9-4.6-4.2-4.4-4.8 4.6z"/><path fill="#8ff070" d="M344.3 312.5l4.8-4.7-4.1-4.5-4.9 4.6z"/><path fill="#8ef06f" d="M348.5 317.1l4.8-4.6-4.2-4.7-4.8 4.7z"/><path fill="#8cf06f" d="M352.7 321.9l4.8-4.6-4.2-4.8-4.8 4.6z"/><path fill="#8bf06f" d="M356.9 326.8l4.8-4.6-4.2-4.9-4.8 4.6z"/><path fill="#88f06e" d="M361.1 331.8l4.8-4.6-4.2-5-4.8 4.6z"/><path fill="#86f06e" d="M365.2 336.9l4.9-4.6-4.2-5.1-4.8 4.6z"/><path fill="#84f06d" d="M369.4 342.1l4.9-4.6-4.2-5.2-4.9 4.6z"/><path fill="#81f06d" d="M373.6 347.3l4.9-4.6-4.2-5.2-4.9 4.6z"/><path fill="#7ff06d" d="M377.8 352.6l4.8-4.6-4.1-5.3-4.9 4.6z"/><path fill="#78f067" d="M381.9 357.9l4.9-4.6-4.2-5.3-4.8 4.6z"/><path fill="#70f062" d="M386.1 363.2l4.8-4.5-4.1-5.4-4.9 4.6z"/><path fill="#69f05d" d="M390.2 368.6l4.9-4.6-4.2-5.3-4.8 4.5z"/><path fill="#61f058" d="M394.4 374l4.8-4.6-4.1-5.4-4.9 4.6z"/><path fill="#59f052" d="M398.5 379.4l4.8-4.6-4.1-5.4-4.8 4.6z"/><path fill="#50f04d" d="M402.6 384.8l4.8-4.5-4.1-5.5-4.8 4.6z"/><path fill="#48f048" d="M406.7 390.3l4.8-4.6-4.1-5.4-4.8 4.5z"/><path fill="#43f043" d="M410.8 395.7l4.8-4.5-4.1-5.5-4.8 4.6z"/><path fill="#3ef042" d="M414.9 401.2l4.8-4.6-4.1-5.4-4.8 4.5z"/><path fill="#39f047" d="M418.9 406.8l4.9-4.6-4.1-5.6-4.8 4.6z"/><path fill="#34f04d" d="M423 412.4l4.8-4.7-4-5.5-4.9 4.6z"/><path fill="#2ff054" d="M427 418l4.9-4.7-4.1-5.6-4.8 4.7z"/><path fill="#2af05c" d="M431 423.8l4.9-4.8-4-5.7-4.9 4.7z"/><path fill="#26f066" d="M435 429.6l4.9-4.9-4-5.7-4.9 4.8z"/><path fill="#21f070" d="M439 435.5l4.9-5-4-5.8-4.9 4.9z"/><path fill="#1cf07d" d="M443 441.6l4.9-5.2-4-5.9-4.9 5z"/><path fill="#17f08b" d="M447 447.8l4.8-5.3-3.9-6.1-4.9 5.2z"/><path fill="#13f09b" d="M450.9 454.2l4.9-5.5-4-6.2-4.8 5.3z"/><path fill="#0ef0ae" d="M454.8 460.8l4.9-5.7-3.9-6.4-4.9 5.5z"/><path fill="#09f0c3" d="M458.7 467.7l4.9-6-3.9-6.6-4.9 5.7z"/><path fill="#04ead7" d="M462.5 475l4.9-6.3-3.8-7-4.9 6z"/><path fill="#15f091" d="M442.6 447.4l2.4-2.7-2-3.1-2.4 2.6z"/><path fill="#13f099" d="M444.5 450.6l2.5-2.8-2-3.1-2.4 2.7z"/><path fill="#10f0a2" d="M446.5 453.8l2.4-2.8-1.9-3.2-2.5 2.8z"/><path fill="#0ef0ab" d="M448.5 457.1l2.4-2.9-2-3.2-2.4 2.8z"/><path fill="#0cf0b6" d="M450.4 460.4l2.5-2.9-2-3.3-2.4 2.9z"/><path fill="#09f0c1" d="M452.4 463.8l2.4-3-1.9-3.3-2.5 2.9z"/><path fill="#07edca" d="M454.3 467.3l2.4-3-1.9-3.5-2.4 3z"/><path fill="#05ead4" d="M456.2 470.9l2.5-3.2-2-3.4-2.4 3z"/><path fill="#02e6de" d="M458.2 474.5l2.4-3.2-1.9-3.6-2.5 3.2z"/><path fill="#00dbe3" d="M460.1 478.3l2.4-3.3-1.9-3.7-2.4 3.2z"/><path fill="#7df079" d="M259 248.7l4.8-3.3-3.7-1.6-4.8 3.2z"/><path fill="#7ff078" d="M262.8 251.3l4.8-3.5-3.8-2.4-4.8 3.3z"/><path fill="#81f078" d="M266.7 253.9l4.8-3.6-3.9-2.5-4.8 3.5z"/><path fill="#83f078" d="M270.6 256.6l4.8-3.7-3.9-2.6-4.8 3.6z"/><path fill="#85f077" d="M274.5 259.4l4.8-3.8-3.9-2.7-4.8 3.7z"/><path fill="#87f077" d="M278.4 262.2l4.8-3.8-3.9-2.8-4.8 3.8z"/><path fill="#89f077" d="M282.4 265.2l4.7-4-3.9-2.8-4.8 3.8z"/><path fill="#8af076" d="M286.3 268.2l4.8-4.1-4-2.9-4.7 4z"/><path fill="#8cf076" d="M290.3 271.2l4.8-4.1-4-3-4.8 4.1z"/><path fill="#8df075" d="M294.3 274.4l4.8-4.2-4-3.1-4.8 4.1z"/><path fill="#8ef075" d="M298.4 277.7l4.7-4.4-4-3.1-4.8 4.2z"/><path fill="#8ff075" d="M302.4 281l4.8-4.4-4.1-3.3-4.7 4.4z"/><path fill="#90f074" d="M306.5 284.5l4.7-4.4-4-3.5-4.8 4.4z"/><path fill="#90f074" d="M310.5 288.1l4.8-4.5-4.1-3.5-4.7 4.4z"/><path fill="#91f073" d="M314.6 291.9l4.8-4.6-4.1-3.7-4.8 4.5z"/><path fill="#91f073" d="M318.8 295.8l4.7-4.7-4.1-3.8-4.8 4.6z"/><path fill="#91f073" d="M322.9 299.8l4.8-4.7-4.2-4-4.7 4.7z"/><path fill="#90f072" d="M327 303.9l4.8-4.7-4.1-4.1-4.8 4.7z"/><path fill="#90f072" d="M331.2 308.2l4.8-4.7-4.2-4.3-4.8 4.7z"/><path fill="#8ff072" d="M335.3 312.7l4.8-4.8-4.1-4.4-4.8 4.7z"/><path fill="#8ef071" d="M339.5 317.2l4.8-4.7-4.2-4.6-4.8 4.8z"/><path fill="#8cf071" d="M343.7 321.9l4.8-4.8-4.2-4.6-4.8 4.7z"/><path fill="#8bf070" d="M347.9 326.7l4.8-4.8-4.2-4.8-4.8 4.8z"/><path fill="#89f070" d="M352.1 331.6l4.8-4.8-4.2-4.9-4.8 4.8z"/><path fill="#87f070" d="M356.2 336.6l4.9-4.8-4.2-5-4.8 4.8z"/><path fill="#85f06f" d="M360.4 341.7l4.8-4.8-4.1-5.1-4.9 4.8z"/><path fill="#82f06f" d="M364.6 346.8l4.8-4.7-4.2-5.2-4.8 4.8z"/><path fill="#80f06f" d="M368.8 352l4.8-4.7-4.2-5.2-4.8 4.7z"/><path fill="#79f069" d="M372.9 357.2l4.9-4.6-4.2-5.3-4.8 4.7z"/><path fill="#71f064" d="M377.1 362.5l4.8-4.6-4.1-5.3-4.9 4.6z"/><path fill="#6af05e" d="M381.2 367.9l4.9-4.7-4.2-5.3-4.8 4.6z"/><path fill="#62f059" d="M385.4 373.2l4.8-4.6-4.1-5.4-4.9 4.7z"/><path fill="#5af054" d="M389.5 378.6l4.9-4.6-4.2-5.4-4.8 4.6z"/><path fill="#52f04f" d="M393.6 384l4.9-4.6-4.1-5.4-4.9 4.6z"/><path fill="#4af04a" d="M397.7 389.5l4.9-4.7-4.1-5.4-4.9 4.6z"/><path fill="#44f044" d="M401.8 394.9l4.9-4.6-4.1-5.5-4.9 4.7z"/><path fill="#3ff042" d="M405.9 400.4l4.9-4.7-4.1-5.4-4.9 4.6z"/><path fill="#3af047" d="M410 406l4.9-4.8-4.1-5.5-4.9 4.7z"/><path fill="#35f04d" d="M414.1 411.5l4.8-4.7-4-5.6-4.9 4.8z"/><path fill="#30f054" d="M418.1 417.2l4.9-4.8-4.1-5.6-4.8 4.7z"/><path fill="#2bf05b" d="M422.2 422.9l4.8-4.9-4-5.6-4.9 4.8z"/><path fill="#26f065" d="M426.2 428.7l4.8-4.9-4-5.8-4.8 4.9z"/><path fill="#21f06f" d="M430.2 434.7l4.8-5.1-4-5.8-4.8 4.9z"/><path fill="#1cf07b" d="M434.2 440.7l4.8-5.2-4-5.9-4.8 5.1z"/><path fill="#18f089" d="M438.2 447l4.8-5.4-4-6.1-4.8 5.2z"/><path fill="#13f098" d="M440.1 450.1l2.5-2.7-2-3.2-2.4 2.8z"/><path fill="#11f0a1" d="M442.1 453.4l2.4-2.8-1.9-3.2-2.5 2.7z"/><path fill="#0ef0ab" d="M444.1 456.6l2.4-2.8-2-3.2-2.4 2.8z"/><path fill="#0cf0b5" d="M446 460l2.5-2.9-2-3.3-2.4 2.8z"/><path fill="#09f0c0" d="M448 463.4l2.4-3-1.9-3.3-2.5 2.9z"/><path fill="#07edc9" d="M449.9 466.9l2.5-3.1-2-3.4-2.4 3z"/><path fill="#05e9d2" d="M451.9 470.5l2.4-3.2-1.9-3.5-2.5 3.1z"/><path fill="#02e6dc" d="M453.8 474.1l2.4-3.2-1.9-3.6-2.4 3.2z"/><path fill="#00dce2" d="M455.7 477.9l2.5-3.4-2-3.6-2.4 3.2z"/><path fill="#00c6de" d="M457.6 481.8l2.5-3.5-1.9-3.8-2.5 3.4z"/><path fill="#11f0a0" d="M437.7 453l2.4-2.9-1.9-3.1-2.5 2.7z"/><path fill="#0ef0aa" d="M439.7 456.2l2.4-2.8-2-3.3-2.4 2.9z"/><path fill="#0cf0b4" d="M441.7 459.6l2.4-3-2-3.2-2.4 2.8z"/><path fill="#09efbe" d="M443.6 463l2.4-3-1.9-3.4-2.4 3z"/><path fill="#07ecc8" d="M445.6 466.5l2.4-3.1-2-3.4-2.4 3z"/><path fill="#05e9d1" d="M447.5 470.1l2.4-3.2-1.9-3.5-2.4 3.1z"/><path fill="#02e6db" d="M449.5 473.7l2.4-3.2-2-3.6-2.4 3.2z"/><path fill="#00dde2" d="M451.4 477.5l2.4-3.4-1.9-3.6-2.4 3.2z"/><path fill="#00c6dd" d="M453.3 481.4l2.4-3.5-1.9-3.8-2.4 3.4z"/><path fill="#00b0d9" d="M455.2 485.4l2.4-3.6-1.9-3.9-2.4 3.5z"/><path fill="#7df07a" d="M254.2 252.2l4.8-3.5-3.7-1.7-4.8 3.3z"/><path fill="#80f07a" d="M258 254.8l4.8-3.5-3.8-2.6-4.8 3.5z"/><path fill="#82f07a" d="M261.9 257.5l4.8-3.6-3.9-2.6-4.8 3.5z"/><path fill="#84f079" d="M265.8 260.4l4.8-3.8-3.9-2.7-4.8 3.6z"/><path fill="#85f079" d="M269.7 263.2l4.8-3.8-3.9-2.8-4.8 3.8z"/><path fill="#87f078" d="M273.7 266.2l4.7-4-3.9-2.8-4.8 3.8z"/><path fill="#88f078" d="M277.6 269.2l4.8-4-4-3-4.7 4z"/><path fill="#8af078" d="M281.6 272.3l4.7-4.1-3.9-3-4.8 4z"/><path fill="#8bf077" d="M285.6 275.5l4.7-4.3-4-3-4.7 4.1z"/><path fill="#8cf077" d="M289.6 278.7l4.7-4.3-4-3.2-4.7 4.3z"/><path fill="#8df076" d="M293.6 282.1l4.8-4.4-4.1-3.3-4.7 4.3z"/><path fill="#8ef076" d="M297.7 285.5l4.7-4.5-4-3.3-4.8 4.4z"/><path fill="#8ef076" d="M301.7 289.1l4.8-4.6-4.1-3.5-4.7 4.5z"/><path fill="#8ff075" d="M305.8 292.8l4.7-4.7-4-3.6-4.8 4.6z"/><path fill="#8ff075" d="M309.9 296.6l4.7-4.7-4.1-3.8-4.7 4.7z"/><path fill="#8ff075" d="M314 300.5l4.8-4.7-4.2-3.9-4.7 4.7z"/><path fill="#8ff074" d="M318.1 304.6l4.8-4.8-4.1-4-4.8 4.7z"/><path fill="#8ef074" d="M322.3 308.8l4.7-4.9-4.1-4.1-4.8 4.8z"/><path fill="#8ef073" d="M326.4 313.1l4.8-4.9-4.2-4.3-4.7 4.9z"/><path fill="#8df073" d="M330.6 317.6l4.7-4.9-4.1-4.5-4.8 4.9z"/><path fill="#8cf073" d="M334.7 322.1l4.8-4.9-4.2-4.5-4.7 4.9z"/><path fill="#8af072" d="M338.9 326.8l4.8-4.9-4.2-4.7-4.8 4.9z"/><path fill="#89f072" d="M343.1 331.6l4.8-4.9-4.2-4.8-4.8 4.9z"/><path fill="#87f071" d="M347.3 336.5l4.8-4.9-4.2-4.9-4.8 4.9z"/><path fill="#85f071" d="M351.4 341.4l4.8-4.8-4.1-5-4.8 4.9z"/><path fill="#83f071" d="M355.6 346.5l4.8-4.8-4.2-5.1-4.8 4.8z"/><path fill="#81f070" d="M359.8 351.6l4.8-4.8-4.2-5.1-4.8 4.8z"/><path fill="#7af06b" d="M364 356.8l4.8-4.8-4.2-5.2-4.8 4.8z"/><path fill="#72f065" d="M368.1 362l4.8-4.8-4.1-5.2-4.8 4.8z"/><path fill="#6bf060" d="M372.3 367.3l4.8-4.8-4.2-5.3-4.8 4.8z"/><path fill="#63f05b" d="M376.4 372.6l4.8-4.7-4.1-5.4-4.8 4.8z"/><path fill="#5bf055" d="M380.6 378l4.8-4.8-4.2-5.3-4.8 4.7z"/><path fill="#53f050" d="M384.7 383.3l4.8-4.7-4.1-5.4-4.8 4.8z"/><path fill="#4bf04b" d="M388.8 388.7l4.8-4.7-4.1-5.4-4.8 4.7z"/><path fill="#46f046" d="M392.9 394.2l4.8-4.7-4.1-5.5-4.8 4.7z"/><path fill="#40f043" d="M397 399.7l4.8-4.8-4.1-5.4-4.8 4.7z"/><path fill="#3bf047" d="M401.1 405.2l4.8-4.8-4.1-5.5-4.8 4.8z"/><path fill="#36f04d" d="M405.2 410.8l4.8-4.8-4.1-5.6-4.8 4.8z"/><path fill="#31f054" d="M409.2 416.4l4.9-4.9-4.1-5.5-4.8 4.8z"/><path fill="#2cf05b" d="M413.3 422.1l4.8-4.9-4-5.7-4.9 4.9z"/><path fill="#27f064" d="M417.3 428l4.9-5.1-4.1-5.7-4.8 4.9z"/><path fill="#22f06e" d="M421.4 433.9l4.8-5.2-4-5.8-4.9 5.1z"/><path fill="#1df07a" d="M425.4 439.9l4.8-5.2-4-6-4.8 5.2z"/><path fill="#18f088" d="M429.4 446.2l4.8-5.5-4-6-4.8 5.2z"/><path fill="#13f098" d="M433.3 452.6l4.9-5.6-4-6.3-4.8 5.5z"/><path fill="#0ef0a9" d="M435.3 455.8l2.4-2.8-2-3.3-2.4 2.9z"/><path fill="#0cf0b3" d="M437.3 459.2l2.4-3-2-3.2-2.4 2.8z"/><path fill="#0aefbe" d="M439.2 462.6l2.5-3-2-3.4-2.4 3z"/><path fill="#07ecc7" d="M441.2 466.1l2.4-3.1-1.9-3.4-2.5 3z"/><path fill="#05e9d0" d="M443.2 469.7l2.4-3.2-2-3.5-2.4 3.1z"/><path fill="#02e5da" d="M445.1 473.3l2.4-3.2-1.9-3.6-2.4 3.2z"/><path fill="#00dee1" d="M447 477.1l2.5-3.4-2-3.6-2.4 3.2z"/><path fill="#00c7dd" d="M449 481l2.4-3.5-1.9-3.8-2.5 3.4z"/><path fill="#00b0d8" d="M450.9 485l2.4-3.6-1.9-3.9-2.4 3.5z"/><path fill="#0099d3" d="M452.8 489.1l2.4-3.7-1.9-4-2.4 3.6z"/><path fill="#0cf0b3" d="M432.9 458.8l2.4-3-2-3.2-2.4 2.9z"/><path fill="#0aefbd" d="M434.9 462.2l2.4-3-2-3.4-2.4 3z"/><path fill="#07ecc6" d="M436.8 465.7l2.4-3.1-1.9-3.4-2.4 3z"/><path fill="#05e9cf" d="M438.8 469.3l2.4-3.2-2-3.5-2.4 3.1z"/><path fill="#02e5d9" d="M440.7 473l2.5-3.3-2-3.6-2.4 3.2z"/><path fill="#00dee1" d="M442.7 476.7l2.4-3.4-1.9-3.6-2.5 3.3z"/><path fill="#00c8dd" d="M444.6 480.6l2.4-3.5-1.9-3.8-2.4 3.4z"/><path fill="#00738c" d="M446.5 484.6l2.5-3.6-2-3.9-2.4 3.5z"/><path fill="#00668c" d="M448.4 488.8l2.5-3.8-1.9-4-2.5 3.6z"/><path fill="#00598c" d="M450.3 493.1l2.5-4-1.9-4.1-2.5 3.8z"/><path fill="#7ef07c" d="M249.4 255.7l4.8-3.5-3.7-1.9-4.8 3.3z"/><path fill="#80f07b" d="M253.3 258.4l4.7-3.6-3.8-2.6-4.8 3.5z"/><path fill="#82f07b" d="M257.2 261.3l4.7-3.8-3.9-2.7-4.7 3.6z"/><path fill="#84f07b" d="M261.1 264.2l4.7-3.8-3.9-2.9-4.7 3.8z"/><path fill="#85f07a" d="M265 267.2l4.7-4-3.9-2.8-4.7 3.8z"/><path fill="#86f07a" d="M268.9 270.2l4.8-4-4-3-4.7 4z"/><path fill="#88f079" d="M272.9 273.4l4.7-4.2-3.9-3-4.8 4z"/><path fill="#89f079" d="M276.9 276.6l4.7-4.3-4-3.1-4.7 4.2z"/><path fill="#8af079" d="M280.9 279.8l4.7-4.3-4-3.2-4.7 4.3z"/><path fill="#8bf078" d="M284.9 283.2l4.7-4.5-4-3.2-4.7 4.3z"/><path fill="#8cf078" d="M288.9 286.6l4.7-4.5-4-3.4-4.7 4.5z"/><path fill="#8cf078" d="M293 290.2l4.7-4.7-4.1-3.4-4.7 4.5z"/><path fill="#8df077" d="M297 293.8l4.7-4.7-4-3.6-4.7 4.7z"/><path fill="#8df077" d="M301.1 297.5l4.7-4.7-4.1-3.7-4.7 4.7z"/><path fill="#8df076" d="M305.2 301.4l4.7-4.8-4.1-3.8-4.7 4.7z"/><path fill="#8df076" d="M309.3 305.4l4.7-4.9-4.1-3.9-4.7 4.8z"/><path fill="#8df076" d="M313.4 309.5l4.7-4.9-4.1-4.1-4.7 4.9z"/><path fill="#8df075" d="M317.5 313.7l4.8-4.9-4.2-4.2-4.7 4.9z"/><path fill="#8cf075" d="M321.7 318.1l4.7-5-4.1-4.3-4.8 4.9z"/><path fill="#8bf074" d="M325.8 322.5l4.8-4.9-4.2-4.5-4.7 5z"/><path fill="#8af074" d="M330 327.1l4.7-5-4.1-4.5-4.8 4.9z"/><path fill="#88f074" d="M334.2 331.8l4.7-5-4.2-4.7-4.7 5z"/><path fill="#87f073" d="M338.3 336.6l4.8-5-4.2-4.8-4.7 5z"/><path fill="#85f073" d="M342.5 341.4l4.8-4.9-4.2-4.9-4.8 5z"/><path fill="#83f073" d="M346.7 346.4l4.7-5-4.1-4.9-4.8 4.9z"/><path fill="#81f072" d="M350.8 351.4l4.8-4.9-4.2-5.1-4.7 5z"/><path fill="#7af06d" d="M355 356.5l4.8-4.9-4.2-5.1-4.8 4.9z"/><path fill="#73f067" d="M359.2 361.7l4.8-4.9-4.2-5.2-4.8 4.9z"/><path fill="#6cf062" d="M363.3 366.9l4.8-4.9-4.1-5.2-4.8 4.9z"/><path fill="#64f05c" d="M367.5 372.2l4.8-4.9-4.2-5.3-4.8 4.9z"/><path fill="#5cf057" d="M371.6 377.4l4.8-4.8-4.1-5.3-4.8 4.9z"/><path fill="#54f051" d="M375.8 382.8l4.8-4.8-4.2-5.4-4.8 4.8z"/><path fill="#4cf04c" d="M379.9 388.2l4.8-4.9-4.1-5.3-4.8 4.8z"/><path fill="#47f047" d="M384 393.6l4.8-4.9-4.1-5.4-4.8 4.9z"/><path fill="#41f044" d="M388.1 399l4.8-4.8-4.1-5.5-4.8 4.9z"/><path fill="#3cf049" d="M392.2 404.5l4.8-4.8-4.1-5.5-4.8 4.8z"/><path fill="#37f04e" d="M396.3 410.1l4.8-4.9-4.1-5.5-4.8 4.8z"/><path fill="#32f054" d="M400.4 415.7l4.8-4.9-4.1-5.6-4.8 4.9z"/><path fill="#2df05c" d="M404.4 421.4l4.8-5-4-5.6-4.8 4.9z"/><path fill="#28f064" d="M408.5 427.2l4.8-5.1-4.1-5.7-4.8 5z"/><path fill="#22f06e" d="M412.5 433.2l4.8-5.2-4-5.9-4.8 5.1z"/><path fill="#1df07a" d="M416.5 439.2l4.9-5.3-4.1-5.9-4.8 5.2z"/><path fill="#18f087" d="M420.6 445.4l4.8-5.5-4-6-4.9 5.3z"/><path fill="#13f097" d="M424.5 451.8l4.9-5.6-4-6.3-4.8 5.5z"/><path fill="#0ff0a9" d="M428.5 458.4l4.8-5.8-3.9-6.4-4.9 5.6z"/><path fill="#0aefbc" d="M430.5 461.9l2.4-3.1-2-3.3-2.4 2.9z"/><path fill="#07ecc5" d="M432.5 465.4l2.4-3.2-2-3.4-2.4 3.1z"/><path fill="#05e8cf" d="M434.4 468.9l2.4-3.2-1.9-3.5-2.4 3.2z"/><path fill="#02e5d9" d="M436.4 472.6l2.4-3.3-2-3.6-2.4 3.2z"/><path fill="#00dfe1" d="M438.3 476.4l2.4-3.4-1.9-3.7-2.4 3.3z"/><path fill="#00c8dd" d="M440.3 480.2l2.4-3.5-2-3.7-2.4 3.4z"/><path fill="#00738c" d="M442.2 484.2l2.4-3.6-1.9-3.9-2.4 3.5z"/><path fill="#161e96" d="M443.7 510l2.8-25.4-1.9-4-2.4 3.6z"/><path fill="#161e96" d="M445.6 512l2.8-23.2-1.9-4.2-2.8 25.4z"/><path fill="#161e96" d="M447.5 513.9l2.8-20.8-1.9-4.3-2.8 23.2z"/><path fill="#07ebc5" d="M428.1 465l2.4-3.1-2-3.5-2.4 3.1z"/><path fill="#05e8ce" d="M430.1 468.6l2.4-3.2-2-3.5-2.4 3.1z"/><path fill="#02e5d8" d="M432 472.2l2.4-3.3-1.9-3.5-2.4 3.2z"/><path fill="#00dfe1" d="M434 476l2.4-3.4-2-3.7-2.4 3.3z"/><path fill="#00c8dc" d="M435.9 479.9l2.4-3.5-1.9-3.8-2.4 3.4z"/><path fill="#00b1d7" d="M437.9 483.9l2.4-3.7-2-3.8-2.4 3.5z"/><path fill="#00678c" d="M439.8 488l2.4-3.8-1.9-4-2.4 3.7z"/><path fill="#161e96" d="M441.4 511.7l2.3-1.7-1.5-25.8-2.4 3.8z"/><path fill="#5f6ee6" d="M441.4 511.7l1.2-.9-2.8-22.8z"/><path fill="#6969e8" d="M443.3 513.6l2.3-1.6-1.9-2-2.3 1.7z"/><path fill="#6969e8" d="M445.2 515.6l2.3-1.7-1.9-1.9-2.3 1.6z"/><path fill="#7ef07d" d="M244.7 259.3l4.7-3.6-3.7-2.1-4.8 3.4z"/><path fill="#81f07d" d="M248.5 262.1l4.8-3.7-3.9-2.7-4.7 3.6z"/><path fill="#82f07c" d="M252.4 265.1l4.8-3.8-3.9-2.9-4.8 3.7z"/><path fill="#83f07c" d="M256.3 268.1l4.8-3.9-3.9-2.9-4.8 3.8z"/><path fill="#85f07c" d="M260.3 271.2l4.7-4-3.9-3-4.8 3.9z"/><path fill="#86f07b" d="M264.2 274.4l4.7-4.2-3.9-3-4.7 4z"/><path fill="#87f07b" d="M268.2 277.6l4.7-4.2-4-3.2-4.7 4.2z"/><path fill="#88f07a" d="M272.2 280.9l4.7-4.3-4-3.2-4.7 4.2z"/><path fill="#89f07a" d="M276.2 284.3l4.7-4.5-4-3.2-4.7 4.3z"/><path fill="#8af07a" d="M280.2 287.7l4.7-4.5-4-3.4-4.7 4.5z"/><path fill="#8af079" d="M284.2 291.2l4.7-4.6-4-3.4-4.7 4.5z"/><path fill="#8bf079" d="M288.3 294.9l4.7-4.7-4.1-3.6-4.7 4.6z"/><path fill="#8bf079" d="M292.3 298.6l4.7-4.8-4-3.6-4.7 4.7z"/><path fill="#8cf078" d="M296.4 302.4l4.7-4.9-4.1-3.7-4.7 4.8z"/><path fill="#8cf078" d="M300.5 306.3l4.7-4.9-4.1-3.9-4.7 4.9z"/><path fill="#8bf077" d="M304.6 310.4l4.7-5-4.1-4-4.7 4.9z"/><path fill="#8bf077" d="M308.7 314.5l4.7-5-4.1-4.1-4.7 5z"/><path fill="#8af077" d="M312.8 318.8l4.7-5.1-4.1-4.2-4.7 5z"/><path fill="#8af076" d="M317 323.2l4.7-5.1-4.2-4.4-4.7 5.1z"/><path fill="#89f076" d="M321.1 327.6l4.7-5.1-4.1-4.4-4.7 5.1z"/><path fill="#88f076" d="M325.3 332.2l4.7-5.1-4.2-4.6-4.7 5.1z"/><path fill="#86f075" d="M329.4 336.9l4.8-5.1-4.2-4.7-4.7 5.1z"/><path fill="#85f075" d="M333.6 341.7l4.7-5.1-4.1-4.8-4.8 5.1z"/><path fill="#83f074" d="M337.8 346.5l4.7-5.1-4.2-4.8-4.7 5.1z"/><path fill="#81f074" d="M341.9 351.5l4.8-5.1-4.2-5-4.7 5.1z"/><path fill="#7af06e" d="M346.1 356.5l4.7-5.1-4.1-5-4.8 5.1z"/><path fill="#73f069" d="M350.2 361.5l4.8-5-4.2-5.1-4.7 5.1z"/><path fill="#6cf063" d="M354.4 366.7l4.8-5-4.2-5.2-4.8 5z"/><path fill="#64f05e" d="M358.6 371.9l4.7-5-4.1-5.2-4.8 5z"/><path fill="#5cf058" d="M362.7 377.1l4.8-4.9-4.2-5.3-4.7 5z"/><path fill="#54f053" d="M366.8 382.4l4.8-5-4.1-5.2-4.8 4.9z"/><path fill="#4df04d" d="M371 387.7l4.8-4.9-4.2-5.4-4.8 5z"/><path fill="#48f048" d="M375.1 393.1l4.8-4.9-4.1-5.4-4.8 4.9z"/><path fill="#42f047" d="M379.2 398.5l4.8-4.9-4.1-5.4-4.8 4.9z"/><path fill="#3df04b" d="M383.3 404l4.8-5-4.1-5.4-4.8 4.9z"/><path fill="#38f050" d="M387.4 409.5l4.8-5-4.1-5.5-4.8 5z"/><path fill="#33f056" d="M391.5 415.1l4.8-5-4.1-5.6-4.8 5z"/><path fill="#2df05d" d="M395.6 420.8l4.8-5.1-4.1-5.6-4.8 5z"/><path fill="#28f065" d="M399.6 426.6l4.8-5.2-4-5.7-4.8 5.1z"/><path fill="#23f06f" d="M403.7 432.5l4.8-5.3-4.1-5.8-4.8 5.2z"/><path fill="#1ef07a" d="M407.7 438.5l4.8-5.3-4-6-4.8 5.3z"/><path fill="#19f087" d="M411.8 444.7l4.7-5.5-4-6-4.8 5.3z"/><path fill="#14f097" d="M415.8 451.1l4.8-5.7-4.1-6.2-4.7 5.5z"/><path fill="#0ff0a8" d="M419.8 457.7l4.7-5.9-3.9-6.4-4.8 5.7z"/><path fill="#0aeebc" d="M423.7 464.7l4.8-6.3-4-6.6-4.7 5.9z"/><path fill="#05e8ce" d="M425.7 468.2l2.4-3.2-2-3.5-2.4 3.2z"/><path fill="#02e4d8" d="M427.7 471.9l2.4-3.3-2-3.6-2.4 3.2z"/><path fill="#00dfe1" d="M429.6 475.7l2.4-3.5-1.9-3.6-2.4 3.3z"/><path fill="#00c9dc" d="M431.6 479.5l2.4-3.5-2-3.8-2.4 3.5z"/><path fill="#00b2d7" d="M433.5 483.6l2.4-3.7-1.9-3.9-2.4 3.5z"/><path fill="#009ad2" d="M435.5 487.7l2.4-3.8-2-4-2.4 3.7z"/><path fill="#005a8c" d="M437.4 492l2.4-4-1.9-4.1-2.4 3.8z"/><path fill="#161e96" d="M439.1 513.3l2.3-1.6-1.6-23.7-2.4 4z"/><path fill="#5f6ee6" d="M439.1 513.3l1.1-.8-2.8-20.5z"/><path fill="#6969e8" d="M441 515.3l2.3-1.7-1.9-1.9-2.3 1.6z"/><path fill="#6969e8" d="M442.9 517.3l2.3-1.7-1.9-2-2.3 1.7z"/><path fill="#02e4d7" d="M423.3 471.6l2.4-3.4-2-3.5-2.4 3.2z"/><path fill="#00dfe0" d="M425.3 475.3l2.4-3.4-2-3.7-2.4 3.4z"/><path fill="#00c9dc" d="M427.3 479.2l2.3-3.5-1.9-3.8-2.4 3.4z"/><path fill="#00b2d7" d="M429.2 483.2l2.4-3.7-2-3.8-2.3 3.5z"/><path fill="#009ad2" d="M431.1 487.4l2.4-3.8-1.9-4.1-2.4 3.7z"/><path fill="#0083cb" d="M433.1 491.7l2.4-4-2-4.1-2.4 3.8z"/><path fill="#004d8c" d="M435 496.2l2.4-4.2-1.9-4.3-2.4 4z"/><path fill="#161e96" d="M436.7 515l2.4-1.7-1.7-21.3-2.4 4.2z"/><path fill="#5f6ee6" d="M436.7 515l1.2-.8-2.9-18z"/><path fill="#6969e8" d="M438.6 517l2.4-1.7-1.9-2-2.4 1.7z"/><path fill="#6969e8" d="M440.6 518.9l2.3-1.6-1.9-2-2.4 1.7z"/><path fill="#7ff07f" d="M239.9 262.9l4.8-3.6-3.8-2.3-4.7 3.5z"/><path fill="#81f07e" d="M243.8 265.9l4.7-3.8-3.8-2.8-4.8 3.6z"/><path fill="#82f07e" d="M247.7 269l4.7-3.9-3.9-3-4.7 3.8z"/><path fill="#83f07d" d="M251.6 272.1l4.7-4-3.9-3-4.7 3.9z"/><path fill="#84f07d" d="M255.6 275.3l4.7-4.1-4-3.1-4.7 4z"/><path fill="#85f07d" d="M259.5 278.6l4.7-4.2-3.9-3.2-4.7 4.1z"/><path fill="#86f07c" d="M263.5 281.9l4.7-4.3-4-3.2-4.7 4.2z"/><path fill="#87f07c" d="M267.5 285.3l4.7-4.4-4-3.3-4.7 4.3z"/><path fill="#88f07c" d="M271.5 288.8l4.7-4.5-4-3.4-4.7 4.4z"/><path fill="#89f07b" d="M275.5 292.3l4.7-4.6-4-3.4-4.7 4.5z"/><path fill="#89f07b" d="M279.6 296l4.6-4.8-4-3.5-4.7 4.6z"/><path fill="#89f07a" d="M283.6 299.7l4.7-4.8-4.1-3.7-4.6 4.8z"/><path fill="#8af07a" d="M287.7 303.5l4.6-4.9-4-3.7-4.7 4.8z"/><path fill="#8af07a" d="M291.7 307.4l4.7-5-4.1-3.8-4.6 4.9z"/><path fill="#8af079" d="M295.8 311.4l4.7-5.1-4.1-3.9-4.7 5z"/><path fill="#89f079" d="M299.9 315.5l4.7-5.1-4.1-4.1-4.7 5.1z"/><path fill="#89f078" d="M304 319.7l4.7-5.2-4.1-4.1-4.7 5.1z"/><path fill="#88f078" d="M308.2 324l4.6-5.2-4.1-4.3-4.7 5.2z"/><path fill="#87f078" d="M312.3 328.3l4.7-5.1-4.2-4.4-4.6 5.2z"/><path fill="#86f077" d="M316.4 332.8l4.7-5.2-4.1-4.4-4.7 5.1z"/><path fill="#85f077" d="M320.6 337.4l4.7-5.2-4.2-4.6-4.7 5.2z"/><path fill="#84f077" d="M324.7 342.1l4.7-5.2-4.1-4.7-4.7 5.2z"/><path fill="#82f076" d="M328.9 346.9l4.7-5.2-4.2-4.8-4.7 5.2z"/><path fill="#81f076" d="M333 351.7l4.8-5.2-4.2-4.8-4.7 5.2z"/><path fill="#7af070" d="M337.2 356.6l4.7-5.1-4.1-5-4.8 5.2z"/><path fill="#73f06a" d="M341.3 361.6l4.8-5.1-4.2-5-4.7 5.1z"/><path fill="#6cf065" d="M345.5 366.6l4.7-5.1-4.1-5-4.8 5.1z"/><path fill="#64f05f" d="M349.7 371.8l4.7-5.1-4.2-5.2-4.7 5.1z"/><path fill="#5cf05a" d="M353.8 376.9l4.8-5-4.2-5.2-4.7 5.1z"/><path fill="#54f054" d="M357.9 382.1l4.8-5-4.1-5.2-4.8 5z"/><path fill="#4ef04e" d="M362.1 387.4l4.7-5-4.1-5.3-4.8 5z"/><path fill="#49f049" d="M366.2 392.7l4.8-5-4.2-5.3-4.7 5z"/><path fill="#44f04a" d="M370.3 398.1l4.8-5-4.1-5.4-4.8 5z"/><path fill="#3ef04e" d="M374.4 403.5l4.8-5-4.1-5.4-4.8 5z"/><path fill="#39f052" d="M378.5 409l4.8-5-4.1-5.5-4.8 5z"/><path fill="#33f058" d="M382.6 414.6l4.8-5.1-4.1-5.5-4.8 5z"/><path fill="#2ef05f" d="M386.7 420.3l4.8-5.2-4.1-5.6-4.8 5.1z"/><path fill="#29f067" d="M390.8 426l4.8-5.2-4.1-5.7-4.8 5.2z"/><path fill="#24f070" d="M394.9 431.9l4.7-5.3-4-5.8-4.8 5.2z"/><path fill="#1ef07b" d="M398.9 437.9l4.8-5.4-4.1-5.9-4.7 5.3z"/><path fill="#19f088" d="M403 444.1l4.7-5.6-4-6-4.8 5.4z"/><path fill="#14f097" d="M407 450.5l4.8-5.8-4.1-6.2-4.7 5.6z"/><path fill="#0ff0a9" d="M411 457.1l4.8-6-4-6.4-4.8 5.8z"/><path fill="#0aeebb" d="M415 464l4.8-6.3-4-6.6-4.8 6z"/><path fill="#05e7ce" d="M419 471.2l4.7-6.5-3.9-7-4.8 6.3z"/><path fill="#00dfe0" d="M420.9 475l2.4-3.4-2-3.7-2.3 3.3z"/><path fill="#00c8dc" d="M422.9 478.9l2.4-3.6-2-3.7-2.4 3.4z"/><path fill="#00b2d7" d="M424.9 482.9l2.4-3.7-2-3.9-2.4 3.6z"/><path fill="#009ad1" d="M426.8 487l2.4-3.8-1.9-4-2.4 3.7z"/><path fill="#0083cb" d="M428.8 491.3l2.3-3.9-1.9-4.2-2.4 3.8z"/><path fill="#006cc4" d="M430.7 495.8l2.4-4.1-2-4.3-2.3 3.9z"/><path fill="#003f8c" d="M432.6 500.5l2.4-4.3-1.9-4.5-2.4 4.1z"/><path fill="#161e96" d="M434.4 516.6l2.3-1.6-1.7-18.8-2.4 4.3z"/><path fill="#5f6ee6" d="M434.4 516.6l1.2-.8-3-15.3z"/><path fill="#6969e8" d="M436.3 518.6l2.3-1.6-1.9-2-2.3 1.6z"/><path fill="#6969e8" d="M438.2 520.6l2.4-1.7-2-1.9-2.3 1.6z"/><path fill="#00c8dc" d="M418.6 478.6l2.3-3.6-1.9-3.8-2.4 3.5z"/><path fill="#00b1d7" d="M420.5 482.6l2.4-3.7-2-3.9-2.3 3.6z"/><path fill="#009ad1" d="M422.5 486.7l2.4-3.8-2-4-2.4 3.7z"/><path fill="#0083cb" d="M424.5 491l2.3-4-1.9-4.1-2.4 3.8z"/><path fill="#006cc4" d="M426.4 495.5l2.4-4.2-2-4.3-2.3 4z"/><path fill="#005cca" d="M428.3 500.2l2.4-4.4-1.9-4.5-2.4 4.2z"/><path fill="#00348d" d="M430.3 503.8l2.3-3.3-1.9-4.7-2.4 4.4z"/><path fill="#161e96" d="M432.1 518.3l2.3-1.7-1.8-16.1-2.3 3.3z"/><path fill="#5f6ee6" d="M432.1 518.3l1.1-.8-2.9-13.7z"/><path fill="#6969e8" d="M434 520.3l2.3-1.7-1.9-2-2.3 1.7z"/><path fill="#6969e8" d="M435.9 522.3l2.3-1.7-1.9-2-2.3 1.7z"/><path fill="#80f080" d="M235.2 266.7l4.7-3.8-3.7-2.4-4.8 3.5z"/><path fill="#81f080" d="M239.1 269.8l4.7-3.9-3.9-3-4.7 3.8z"/><path fill="#82f07f" d="M243 273l4.7-4-3.9-3.1-4.7 3.9z"/><path fill="#83f07f" d="M247 276.2l4.6-4.1-3.9-3.1-4.7 4z"/><path fill="#84f07f" d="M250.9 279.5l4.7-4.2-4-3.2-4.6 4.1z"/><path fill="#85f07e" d="M254.9 282.9l4.6-4.3-3.9-3.3-4.7 4.2z"/><path fill="#85f07e" d="M258.9 286.4l4.6-4.5-4-3.3-4.6 4.3z"/><path fill="#86f07d" d="M262.9 289.9l4.6-4.6-4-3.4-4.6 4.5z"/><path fill="#87f07d" d="M266.9 293.4l4.6-4.6-4-3.5-4.6 4.6z"/><path fill="#87f07d" d="M270.9 297.1l4.6-4.8-4-3.5-4.6 4.6z"/><path fill="#87f07c" d="M274.9 300.8l4.7-4.8-4.1-3.7-4.6 4.8z"/><path fill="#88f07c" d="M279 304.6l4.6-4.9-4-3.7-4.7 4.8z"/><path fill="#88f07b" d="M283 308.5l4.7-5-4.1-3.8-4.6 4.9z"/><path fill="#88f07b" d="M287.1 312.5l4.6-5.1-4-3.9-4.7 5z"/><path fill="#87f07b" d="M291.2 316.5l4.6-5.1-4.1-4-4.6 5.1z"/><path fill="#87f07a" d="M295.3 320.7l4.6-5.2-4.1-4.1-4.6 5.1z"/><path fill="#87f07a" d="M299.4 324.9l4.6-5.2-4.1-4.2-4.6 5.2z"/><path fill="#86f07a" d="M303.5 329.2l4.7-5.2-4.2-4.3-4.6 5.2z"/><path fill="#85f079" d="M307.6 333.7l4.7-5.4-4.1-4.3-4.7 5.2z"/><path fill="#84f079" d="M311.8 338.2l4.6-5.4-4.1-4.5-4.7 5.4z"/><path fill="#83f078" d="M315.9 342.7l4.7-5.3-4.2-4.6-4.6 5.4z"/><path fill="#82f078" d="M320.1 347.4l4.6-5.3-4.1-4.7-4.7 5.3z"/><path fill="#80f078" d="M324.2 352.2l4.7-5.3-4.2-4.8-4.6 5.3z"/><path fill="#79f072" d="M328.3 357l4.7-5.3-4.1-4.8-4.7 5.3z"/><path fill="#72f06c" d="M332.5 361.9l4.7-5.3-4.2-4.9-4.7 5.3z"/><path fill="#6bf066" d="M336.6 366.8l4.7-5.2-4.1-5-4.7 5.3z"/><path fill="#64f061" d="M340.8 371.9l4.7-5.3-4.2-5-4.7 5.2z"/><path fill="#5cf05b" d="M344.9 377l4.8-5.2-4.2-5.2-4.7 5.3z"/><path fill="#55f055" d="M349.1 382.1l4.7-5.2-4.1-5.1-4.8 5.2z"/><path fill="#50f050" d="M353.2 387.3l4.7-5.2-4.1-5.2-4.7 5.2z"/><path fill="#4af04c" d="M357.3 392.6l4.8-5.2-4.2-5.3-4.7 5.2z"/><path fill="#45f04f" d="M361.5 397.9l4.7-5.2-4.1-5.3-4.8 5.2z"/><path fill="#3ff052" d="M365.6 403.3l4.7-5.2-4.1-5.4-4.7 5.2z"/><path fill="#3af056" d="M369.7 408.7l4.7-5.2-4.1-5.4-4.7 5.2z"/><path fill="#34f05b" d="M373.8 414.2l4.7-5.2-4.1-5.5-4.7 5.2z"/><path fill="#2ff061" d="M377.9 419.9l4.7-5.3-4.1-5.6-4.7 5.2z"/><path fill="#2af069" d="M382 425.6l4.7-5.3-4.1-5.7-4.7 5.3z"/><path fill="#24f072" d="M386 431.4l4.8-5.4-4.1-5.7-4.7 5.3z"/><path fill="#1ff07d" d="M390.1 437.4l4.8-5.5-4.1-5.9-4.8 5.4z"/><path fill="#1af08a" d="M394.2 443.6l4.7-5.7-4-6-4.8 5.5z"/><path fill="#14f098" d="M398.2 449.9l4.8-5.8-4.1-6.2-4.7 5.7z"/><path fill="#0ff0aa" d="M402.2 456.5l4.8-6-4-6.4-4.8 5.8z"/><path fill="#0aedbc" d="M406.3 463.4l4.7-6.3-4-6.6-4.8 6z"/><path fill="#05e7ce" d="M410.3 470.6l4.7-6.6-4-6.9-4.7 6.3z"/><path fill="#00dddf" d="M414.2 478.3l4.8-7.1-4-7.2-4.7 6.6z"/><path fill="#00b1d7" d="M416.2 482.3l2.4-3.7-2-3.9-2.4 3.6z"/><path fill="#009ad1" d="M418.2 486.4l2.3-3.8-1.9-4-2.4 3.7z"/><path fill="#0083cb" d="M420.1 490.7l2.4-4-2-4.1-2.3 3.8z"/><path fill="#006cc4" d="M422.1 495.2l2.4-4.2-2-4.3-2.4 4z"/><path fill="#005cca" d="M424 499.9l2.4-4.4-1.9-4.5-2.4 4.2z"/><path fill="#004fd7" d="M426 503.4l2.3-3.2-1.9-4.7-2.4 4.4z"/><path fill="#00319d" d="M427.9 505.4l2.4-1.6-2-3.6-2.3 3.2z"/><path fill="#161e96" d="M429.8 520l2.3-1.7-1.8-14.5-2.4 1.6z"/><path fill="#5f6ee6" d="M429.8 520l1.1-.9-3-13.7z"/><path fill="#6969e8" d="M431.7 522l2.3-1.7-1.9-2-2.3 1.7z"/><path fill="#6969e8" d="M433.6 523.9l2.3-1.6-1.9-2-2.3 1.7z"/><path fill="#009ad1" d="M413.9 486.1l2.3-3.8-2-4-2.3 3.7z"/><path fill="#0083cb" d="M415.8 490.4l2.4-4-2-4.1-2.3 3.8z"/><path fill="#006cc4" d="M417.8 494.9l2.3-4.2-1.9-4.3-2.4 4z"/><path fill="#0058c3" d="M419.7 499.6l2.4-4.4-2-4.5-2.3 4.2z"/><path fill="#0047c1" d="M421.7 503.1l2.3-3.2-1.9-4.7-2.4 4.4z"/><path fill="#0042d0" d="M423.6 505.1l2.4-1.7-2-3.5-2.3 3.2z"/><path fill="#0033a9" d="M425.6 507.1l2.3-1.7-1.9-2-2.4 1.7z"/><path fill="#161e96" d="M427.4 521.6l2.4-1.6-1.9-14.6-2.3 1.7z"/><path fill="#5f6ee6" d="M427.4 521.6l1.2-.8-3-13.7z"/><path fill="#6969e8" d="M429.3 523.6l2.4-1.6-1.9-2-2.4 1.6z"/><path fill="#6969e8" d="M431.2 525.6l2.4-1.7-1.9-1.9-2.4 1.6z"/><path fill="#81f081" d="M230.6 270.5l4.6-3.8-3.8-2.7-4.7 3.6z"/><path fill="#81f081" d="M234.5 273.7l4.6-3.9-3.9-3.1-4.6 3.8z"/><path fill="#82f081" d="M238.4 277l4.6-4-3.9-3.2-4.6 3.9z"/><path fill="#83f080" d="M242.3 280.4l4.7-4.2-4-3.2-4.6 4z"/><path fill="#83f080" d="M246.3 283.9l4.6-4.4-3.9-3.3-4.7 4.2z"/><path fill="#84f080" d="M250.3 287.4l4.6-4.5-4-3.4-4.6 4.4z"/><path fill="#85f07f" d="M254.2 290.9l4.7-4.5-4-3.5-4.6 4.5z"/><path fill="#85f07f" d="M258.2 294.6l4.7-4.7-4-3.5-4.7 4.5z"/><path fill="#85f07e" d="M262.3 298.2l4.6-4.8-4-3.5-4.7 4.7z"/><path fill="#86f07e" d="M266.3 302l4.6-4.9-4-3.7-4.6 4.8z"/><path fill="#86f07e" d="M270.3 305.8l4.6-5-4-3.7-4.6 4.9z"/><path fill="#86f07d" d="M274.4 309.7l4.6-5.1-4.1-3.8-4.6 5z"/><path fill="#86f07d" d="M278.4 313.7l4.6-5.2-4-3.9-4.6 5.1z"/><path fill="#86f07d" d="M282.5 317.8l4.6-5.3-4.1-4-4.6 5.2z"/><path fill="#85f07c" d="M286.6 321.9l4.6-5.4-4.1-4-4.6 5.3z"/><path fill="#85f07c" d="M290.7 326.1l4.6-5.4-4.1-4.2-4.6 5.4z"/><path fill="#84f07b" d="M294.8 330.4l4.6-5.5-4.1-4.2-4.6 5.4z"/><path fill="#83f07b" d="M298.9 334.7l4.6-5.5-4.1-4.3-4.6 5.5z"/><path fill="#83f07b" d="M303 339.2l4.6-5.5-4.1-4.5-4.6 5.5z"/><path fill="#81f07a" d="M307.2 343.7l4.6-5.5-4.2-4.5-4.6 5.5z"/><path fill="#80f07a" d="M311.3 348.3l4.6-5.6-4.1-4.5-4.6 5.5z"/><path fill="#7ff079" d="M315.4 352.9l4.7-5.5-4.2-4.7-4.6 5.6z"/><path fill="#78f074" d="M319.6 357.7l4.6-5.5-4.1-4.8-4.7 5.5z"/><path fill="#71f06e" d="M323.7 362.5l4.6-5.5-4.1-4.8-4.6 5.5z"/><path fill="#6af068" d="M327.8 367.3l4.7-5.4-4.2-4.9-4.6 5.5z"/><path fill="#63f062" d="M332 372.3l4.6-5.5-4.1-4.9-4.7 5.4z"/><path fill="#5cf05c" d="M336.1 377.3l4.7-5.4-4.2-5.1-4.6 5.5z"/><path fill="#57f057" d="M340.2 382.3l4.7-5.3-4.1-5.1-4.7 5.4z"/><path fill="#51f052" d="M344.4 387.4l4.7-5.3-4.2-5.1-4.7 5.3z"/><path fill="#4bf052" d="M348.5 392.6l4.7-5.3-4.1-5.2-4.7 5.3z"/><path fill="#46f054" d="M352.6 397.8l4.7-5.2-4.1-5.3-4.7 5.3z"/><path fill="#40f057" d="M356.7 403.2l4.8-5.3-4.2-5.3-4.7 5.2z"/><path fill="#3bf05b" d="M360.8 408.6l4.8-5.3-4.1-5.4-4.8 5.3z"/><path fill="#35f05f" d="M365 414l4.7-5.3-4.1-5.4-4.8 5.3z"/><path fill="#30f065" d="M369.1 419.6l4.7-5.4-4.1-5.5-4.7 5.3z"/><path fill="#2af06d" d="M373.1 425.3l4.8-5.4-4.1-5.7-4.7 5.4z"/><path fill="#25f075" d="M377.2 431.1l4.8-5.5-4.1-5.7-4.8 5.4z"/><path fill="#1ff080" d="M381.3 437l4.7-5.6-4-5.8-4.8 5.5z"/><path fill="#1af08c" d="M385.4 443.1l4.7-5.7-4.1-6-4.7 5.6z"/><path fill="#15f09a" d="M389.4 449.5l4.8-5.9-4.1-6.2-4.7 5.7z"/><path fill="#10f0ab" d="M393.5 456l4.7-6.1-4-6.3-4.8 5.9z"/><path fill="#0aedbd" d="M397.5 462.9l4.7-6.4-4-6.6-4.7 6.1z"/><path fill="#05e7cf" d="M401.6 470.1l4.7-6.7-4.1-6.9-4.7 6.4z"/><path fill="#00dcdf" d="M405.6 477.7l4.7-7.1-4-7.2-4.7 6.7z"/><path fill="#00afd6" d="M409.5 485.8l4.7-7.5-3.9-7.7-4.7 7.1z"/><path fill="#0082cb" d="M411.5 490.1l2.4-4-2-4.1-2.4 3.8z"/><path fill="#006bc4" d="M413.5 494.6l2.3-4.2-1.9-4.3-2.4 4z"/><path fill="#0055bc" d="M415.5 499.3l2.3-4.4-2-4.5-2.3 4.2z"/><path fill="#003cab" d="M417.4 504.2l2.3-4.6-1.9-4.7-2.3 4.4z"/><path fill="#002ba1" d="M419.4 509l2.3-5.9-2-3.5-2.3 4.6z"/><path fill="#0027a6" d="M421.3 511l2.3-5.9-1.9-2-2.3 5.9z"/><path fill="#0026a1" d="M423.2 513l2.4-5.9-2-2-2.3 5.9z"/><path fill="#161e96" d="M425.1 523.3l2.3-1.7-1.8-14.5-2.4 5.9z"/><path fill="#5f6ee6" d="M425.1 523.3l1.2-.8-3.1-9.5z"/><path fill="#6969e8" d="M427 525.3l2.3-1.7-1.9-2-2.3 1.7z"/><path fill="#6969e8" d="M428.9 527.3l2.3-1.7-1.9-2-2.3 1.7z"/><path fill="#006bc4" d="M409.2 494.3l2.3-4.2-2-4.3-2.3 4z"/><path fill="#0054bc" d="M411.2 499l2.3-4.4-2-4.5-2.3 4.2z"/><path fill="#003ba8" d="M413.1 503.9l2.4-4.6-2-4.7-2.3 4.4z"/><path fill="#002592" d="M415.1 509.2l2.3-5-1.9-4.9-2.4 4.6z"/><path fill="#001588" d="M417 514.8l2.4-5.8-2-4.8-2.3 5z"/><path fill="#000f84" d="M419 516.8l2.3-5.8-1.9-2-2.4 5.8z"/><path fill="#000f83" d="M420.9 518.8l2.3-5.8-1.9-2-2.3 5.8z"/><path fill="#161e96" d="M422.8 525l2.3-1.7-1.9-10.3-2.3 5.8z"/><path fill="#5f6ee6" d="M422.8 525l1.1-.9-3-5.3z"/><path fill="#6969e8" d="M424.7 526.9l2.3-1.6-1.9-2-2.3 1.7z"/><path fill="#6969e8" d="M426.6 528.9l2.3-1.6-1.9-2-2.3 1.6z"/><path fill="#83f083" d="M225.9 274.7l4.7-4.2-3.9-2.9-4.7 3.7z"/><path fill="#83f083" d="M229.9 278.2l4.6-4.5-3.9-3.2-4.7 4.2z"/><path fill="#82f082" d="M233.8 281.7l4.6-4.7-3.9-3.3-4.6 4.5z"/><path fill="#82f082" d="M237.8 285.3l4.5-4.9-3.9-3.4-4.6 4.7z"/><path fill="#82f081" d="M241.8 289l4.5-5.1-4-3.5-4.5 4.9z"/><path fill="#82f081" d="M245.8 292.7l4.5-5.3-4-3.5-4.5 5.1z"/><path fill="#83f081" d="M249.8 296.5l4.4-5.6-3.9-3.5-4.5 5.3z"/><path fill="#83f080" d="M253.8 300.4l4.4-5.8-4-3.7-4.4 5.6z"/><path fill="#83f080" d="M257.9 304.3l4.4-6.1-4.1-3.6-4.4 5.8z"/><path fill="#83f07f" d="M261.9 308.3l4.4-6.3-4-3.8-4.4 6.1z"/><path fill="#83f07f" d="M266 312.4l4.3-6.6-4-3.8-4.4 6.3z"/><path fill="#83f07f" d="M270 316.4l4.4-6.7-4.1-3.9-4.3 6.6z"/><path fill="#82f07e" d="M274.1 320.6l4.3-6.9-4-4-4.4 6.7z"/><path fill="#82f07e" d="M278.2 324.8l4.3-7-4.1-4.1-4.3 6.9z"/><path fill="#81f07d" d="M282.3 329l4.3-7.1-4.1-4.1-4.3 7z"/><path fill="#80ee7c" d="M286.4 333.3l4.3-7.2-4.1-4.2-4.3 7.1z"/><path fill="#7fed7b" d="M290.5 337.7l4.3-7.3-4.1-4.3-4.3 7.2z"/><path fill="#7eec7b" d="M294.6 342.1l4.3-7.4-4.1-4.3-4.3 7.3z"/><path fill="#7cec7a" d="M298.7 346.5l4.3-7.3-4.1-4.5-4.3 7.4z"/><path fill="#7bec7a" d="M302.8 351l4.4-7.3-4.2-4.5-4.3 7.3z"/><path fill="#7bed7a" d="M306.9 355.6l4.4-7.3-4.1-4.6-4.4 7.3z"/><path fill="#74ed74" d="M311 360.2l4.4-7.3-4.1-4.6-4.4 7.3z"/><path fill="#6fee6f" d="M315.1 364.8l4.5-7.1-4.2-4.8-4.4 7.3z"/><path fill="#69f069" d="M319.2 369.5l4.5-7-4.1-4.8-4.5 7.1z"/><path fill="#64f064" d="M323.3 374.3l4.5-7-4.1-4.8-4.5 7z"/><path fill="#5ef05e" d="M327.4 379.1l4.6-6.8-4.2-5-4.5 7z"/><path fill="#58f05d" d="M331.6 383.9l4.5-6.6-4.1-5-4.6 6.8z"/><path fill="#52f05d" d="M335.7 388.9l4.5-6.6-4.1-5-4.5 6.6z"/><path fill="#4cf05d" d="M339.8 393.8l4.6-6.4-4.2-5.1-4.5 6.6z"/><path fill="#47f05e" d="M343.9 398.9l4.6-6.3-4.1-5.2-4.6 6.4z"/><path fill="#41f060" d="M348 404l4.6-6.2-4.1-5.2-4.6 6.3z"/><path fill="#3cf063" d="M352.1 409.3l4.6-6.1-4.1-5.4-4.6 6.2z"/><path fill="#36f067" d="M356.2 414.6l4.6-6-4.1-5.4-4.6 6.1z"/><path fill="#30f06c" d="M360.3 420l4.7-6-4.2-5.4-4.6 6z"/><path fill="#2bf073" d="M364.4 425.5l4.7-5.9-4.1-5.6-4.7 6z"/><path fill="#25f07b" d="M368.5 431.2l4.6-5.9-4-5.7-4.7 5.9z"/><path fill="#20f085" d="M372.6 437l4.6-5.9-4.1-5.8-4.6 5.9z"/><path fill="#1bf091" d="M376.6 443.1l4.7-6.1-4.1-5.9-4.6 5.9z"/><path fill="#15f09e" d="M380.7 449.3l4.7-6.2-4.1-6.1-4.7 6.1z"/><path fill="#10f0af" d="M384.8 455.8l4.6-6.3-4-6.4-4.7 6.2z"/><path fill="#0aecbf" d="M388.8 462.6l4.7-6.6-4.1-6.5-4.6 6.3z"/><path fill="#05e6d1" d="M392.9 469.7l4.6-6.8-4-6.9-4.7 6.6z"/><path fill="#00d9df" d="M396.9 477.2l4.7-7.1-4.1-7.2-4.6 6.8z"/><path fill="#00add6" d="M400.9 485.3l4.7-7.6-4-7.6-4.7 7.1z"/><path fill="#0080cb" d="M404.9 494.1l4.6-8.3-3.9-8.1-4.7 7.6z"/><path fill="#0054bd" d="M406.9 498.7l2.3-4.4-2-4.5-2.3 4.3z"/><path fill="#003ba9" d="M408.9 503.7l2.3-4.7-2-4.7-2.3 4.4z"/><path fill="#002593" d="M410.8 508.9l2.3-5-1.9-4.9-2.3 4.7z"/><path fill="#00137b" d="M412.8 514.6l2.3-5.4-2-5.3-2.3 5z"/><path fill="#161e96" d="M414.7 520.7l2.3-5.9-1.9-5.6-2.3 5.4z"/><path fill="#000373" d="M416.6 522.7l2.4-5.9-2-2-2.3 5.9z"/><path fill="#000375" d="M418.6 524.6l2.3-5.8-1.9-2-2.4 5.9z"/><path fill="#000192" d="M420.5 526.6l2.3-1.6-1.9-6.2-2.3 5.8z"/><path fill="#6969e8" d="M422.4 528.6l2.3-1.7-1.9-1.9-2.3 1.6z"/><path fill="#6969e8" d="M424.3 530.6l2.3-1.7-1.9-2-2.3 1.7z"/></g>
<path fill="none" stroke="#001800" stroke-opacity="0.66" stroke-width="1.05" stroke-linejoin="round" d="M424.3 530.6l-9.6-9.9-1.9-6.1-3.9-10.9-6-14.1-4-8.4-4-7.8-8.1-14.3-8.1-12.9-8.2-12.1-8.2-11.4-10.2-13.4-14.4-18-14.4-17-16.4-18.7-18.5-20.1-18.4-19.1-16.2-16-16-15.1-15.8-14M426.6 528.9l-3.8-3.9-1.9-6.2-3.9-4-1.9-5.6-3.9-10.2-6-13.5-6-11.9-8-14.4-8.2-13.1-10.2-15.1-10.2-14.2-12.3-16.2-14.5-18-16.5-19.6-16.5-18.6-14.4-15.4-16.3-16.5-16.1-15.5-18-16.1-9.8-8.4-3.8-3.1M428.9 527.3l-3.8-4-1.9-10.3-3.8-4-5.9-14.4-5.9-12.9-6-11.6-6.1-10.7-8.1-13.1-10.2-15.2-12.2-17.1-12.4-16.2-14.4-18-16.6-19.7-16.5-18.7-14.4-15.3-16.3-16.4-16.2-15.1-17.8-15.9-9.8-8.2-3.9-2.9M431.2 525.6l-3.8-4-1.8-14.5-3.9-4-2-3.5-3.9-9.2-5.9-12.4-4-7.7-6-10.6-10.1-16.4-10.2-15-12.3-17-12.3-16.1-16.6-20.7-14.5-17.2-16.5-18.7-14.4-15.3-16.3-16.2-16.2-14.9-19.8-17.2-7.8-6.4-3.8-2.8M433.6 523.9l-3.8-3.9-1.9-14.6-1.9-2-2-3.5-3.9-9.2-3.9-8.4-4-7.9-5.9-11-10.1-16.7-10.2-15.3-12.2-17.2-14.4-19-16.5-20.8-16.6-19.8-16.6-18.7-14.4-15.2-16.3-16.1-16.1-14.7-19.9-16.9-9.7-7.8-1.9-1.2M435.9 522.3l-3.8-4-1.8-14.5-2-3.6-3.8-9.2-4-8.4-3.9-7.9-6-11-10-16.7-10.1-15.3-12.3-17.3-16.4-21.8-16.6-20.8-16.6-19.9-16.6-18.7-14.4-15.1-16.3-16-16.1-14.5-10-8.5-9.8-8.1-9.7-7.7-1.9-1.1M438.2 520.6l-3.8-4-1.8-16.1-1.9-4.7-3.9-8.8-3.9-8.1-7.9-14.9-10-16.7-12.2-18.3-12.2-17.2-16.5-21.7-16.5-20.9-16.6-19.9-16.6-18.7-14.5-15.1-8.2-8.1-8.1-7.7-16.1-14.4-9.9-8.3-9.9-8-9.7-7.5-1.8-1M440.6 518.9l-3.9-3.9-1.7-18.8-3.9-8.8-3.8-8.2-7.9-14.9-10-16.7-12.2-18.4-14.2-19.9-16.5-21.8-16.6-20.9-16.6-19.9-16.6-18.7-14.4-15.1-8.2-8-8.2-7.6-16.1-14.2-9.9-8.2-9.8-7.9-9.7-7.3-1.9-1M442.9 517.3l-3.8-4-1.7-21.3-5.8-12.5-7.9-14.8-9.9-16.8-12.1-18.4-14.3-20-18.5-24.5-18.7-23.5-16.6-19.8-14.6-16.3-14.4-15-8.2-8-8.1-7.5-16.1-14-9.9-8.1-9.9-7.7-9.7-7.2-1.8-.9M445.2 515.6l-3.8-3.9-1.6-23.7-5.8-12-5.9-11-9.9-16.8-12.1-18.4-8.1-11.5-8.2-11.3-18.5-24.4-18.7-23.6-16.6-19.9-14.6-16.3-14.5-14.9-8.2-7.9-8.1-7.5-16.1-13.8-9.9-8-11.8-9-7.7-5.6-1.8-.8M447.5 513.9l-3.8-3.9-1.5-25.8-3.9-7.8-5.8-11-9.9-16.8-6.1-9.4-8-12-16.3-22.7-18.5-24.4-18.7-23.6-16.7-19.9-14.5-16.3-14.5-14.9-14.3-13.4-8.1-7.1-8-6.7-10-8-11.7-8.9-9.7-6.9-1.8-.8M450.3 493.1l-3.8-8.5-3.8-7.9-7.8-14.5-9.9-16.4-10.1-15.3-14.2-20.1-18.4-24.7-18.7-23.9-16.6-20.4-12.5-14.5-12.5-13.5-10.4-10.4-12.2-11.6-14.2-12.1-13.9-11.1-17.6-13-3.8-2.6-1.8-.7M452.8 489.1l-3.8-8.1-3.9-7.7-7.8-14.1-9.9-16.2-10.1-15-14.2-20-18.4-24.7-20.7-26.5-16.7-20.3-12.6-14.4-10.4-11.2-10.3-10.4-12.3-11.4-14.1-12-13.9-10.9-17.6-12.7-3.8-2.6-1.8-.6M455.2 485.4l-3.8-7.9-3.9-7.4-7.8-13.9-9.9-15.9-12.1-17.8-16.2-22.5-18.5-24.4-18.7-23.8-16.7-20.2-12.6-14.2-10.4-11.1-10.3-10.1-10.2-9.4-14.1-11.9-14-10.7-17.5-12.5-3.8-2.5-1.8-.6M457.6 481.8l-7.7-14.9-7.8-13.5-9.9-15.7-12.1-17.6-16.2-22.4-20.6-27.2-18.7-23.7-16.7-20.1-12.6-14-10.3-10.9-10.4-9.9-10.2-9.1-14.1-11.6-13.8-10.4-15.6-10.8-3.8-2.4-1.8-.6M460.1 478.3l-7.7-14.5-9.8-16.4-10-15.3-12.1-17.3-18.3-25-20.6-26.9-18.8-23.6-14.6-17.4-10.5-11.6-10.4-10.8-10.3-9.9-10.2-9.1-14.1-11.4-13.9-10.2-15.5-10.6-3.8-2.4-1.8-.5M462.5 475l-7.7-14.2-9.8-16.1-10-15.1-12-17.2-18.4-24.9-22.7-29.6-16.7-21-14.6-17.4-10.5-11.6-10.4-10.7-10.3-9.9-10.2-9-14.1-11.2-13.9-10.1-15.5-10.4-3.8-2.3-1.8-.5M465 471.8l-7.8-13.9-9.8-15.9-9.9-14.9-14.1-19.9-20.4-27.4-20.7-26.9-16.7-20.8-14.7-17.3-10.4-11.4-10.4-10.6-10.3-9.6-10.2-8.7-14.1-10.9-13.8-9.8-15.5-10.1-1.9-1.1-1.8-.3M467.4 468.7l-7.7-13.6-9.9-15.6-9.9-14.8-14.1-19.8-20.4-27.3-22.8-29.6-16.7-20.8-12.6-14.7-10.4-11.4-10.4-10.5-10.3-9.6-10.2-8.6-14.1-10.8-13.8-9.6-7.8-5.1-7.7-4.8-1.9-1.1-1.8-.3M469.8 465.6l-7.7-13.2-9.8-15.5-12-17.5-14.1-19.5-22.5-30-20.7-26.8-14.7-18.1-14.6-17.1-10.5-11.2-8.3-8.4-10.3-9.5-10.2-8.5-14.1-10.6-13.8-9.5-7.8-5-7.7-4.7-1.9-1-1.8-.3M472.3 462.7l-7.7-13-9.9-15.3-11.9-17.3-14.2-19.5-22.5-29.9-20.7-26.8-14.6-18.2-14.7-17-10.5-11.3-8.3-8.2-10.3-9.5-10.2-8.5-6.1-4.6-8-5.9-13.8-9.3-7.8-4.9-7.7-4.6-1.9-1-1.8-.2M474.7 459.9l-9.7-15.9-9.8-14.9-12-17.1-14.2-19.3-22.5-29.9-20.7-26.7-14.7-18.1-12.6-14.5-10.5-11.2-8.3-8.3-10.3-9.4-10.2-8.4-12.1-8.9-15.8-10.6-7.8-4.9-7.7-4.5-1.9-.9-1.7-.2M477.2 457.1l-9.7-15.7-9.9-14.7-12-17-16.1-22-22.6-29.7-18.7-24.1-16.8-20.5-12.6-14.4-10.4-11-8.3-8-10.3-9.1-10.2-8.2-12.1-8.7-13.8-9-7.8-4.8-7.7-4.4-1.8-1-1.8-.1M479.7 454.4l-9.8-15.4-11.8-17.5-14.1-19.5-18.2-24.6-22.7-29.6-16.6-21.2-14.7-17.7-12.6-14.2-8.4-8.8-10.4-9.9-8.2-7.1-10.2-8.1-12-8.6-15.8-10.1-13.5-7.8-1.9-1-1.8-.1M482.1 451.8l-9.7-15.3-11.9-17.3-14-19.4-20.3-27.2-18.5-24.2-18.8-23.8-14.7-17.7-12.6-14.2-10.4-10.9-8.3-7.8-8.3-7.1-10.1-8-12.1-8.5-15.8-10-13.5-7.6-1.9-.9-1.8-.1M484.6 449.2l-9.8-15.1-13.8-20-16.1-22-20.4-27-18.5-24.1-16.7-21-12.6-15-12.6-14.2-8.4-8.7-8.3-8.1-10.3-9-10.2-7.9-12.1-8.5-15.7-9.8-13.6-7.5-1.9-.9-1.7 0M487 446.7l-11.7-17.8-13.9-19.7-16.1-21.9-22.4-29.6-18.6-24-14.7-18.2-12.5-14.9-10.5-11.7-10.5-10.8-8.3-7.9-8.3-7.1-10.2-7.8-12-8.4-15.8-9.7-13.5-7.4-1.9-.8-1.8-.1M489.5 444.3l-9.8-14.8-13.8-19.8-16.1-21.8-22.4-29.6-18.6-23.9-14.6-18.2-12.6-15-12.6-14.1-10.4-10.8-10.4-9.8-8.3-6.8-8.1-6.2-12.1-8.3-13.8-8.4-7.8-4.4-7.7-4-1.9-.9-1.8 0M491.9 441.9l-9.7-14.7-13.9-19.6-16.1-21.8-20.3-26.8-20.6-26.6-14.6-18.1-12.6-15-12.6-14-10.5-10.8-10.4-9.7-8.2-6.9-8.2-6.1-12-8.2-13.9-8.3-7.8-4.4-7.6-3.9-1.9-.9-1.8 .1M494.4 439.5l-9.8-14.5-13.8-19.5-16.1-21.7-22.4-29.5-18.6-23.8-14.6-18.1-12.5-14.9-12.6-14-10.5-10.7-10.4-9.7-6.2-5.3-10.2-7.7-12.1-8.1-13.8-8.3-7.8-4.2-7.7-3.9-1.9-.8-1.8 0M496.8 437.2l-11.7-17.3-13.9-19.3-18.1-24.2-20.4-26.7-18.6-23.7-14.6-18-12.6-14.7-10.5-11.5-10.4-10.7-10.4-9.7-8.3-6.9-8.1-6.1-12.1-8-13.9-8.2-7.8-4.2-7.7-3.8-1.9-.8-1.7 .1M499.3 434.9l-11.7-17.1-13.9-19.3-18.1-24.1-20.4-26.6-18.6-23.7-14.6-17.9-12.6-14.7-10.5-11.4-10.5-10.6-8.3-7.8-10.3-8.9-8.2-6-12.1-7.9-13.8-8.1-7.8-4.2-7.7-3.7-1.9-.8-1.8 0M501.7 432.7l-11.7-17.1-13.9-19.1-20.1-26.8-20.4-26.5-16.6-20.9-14.6-17.9-12.5-14.6-10.5-11.4-10.5-10.6-8.3-7.7-10.3-8.8-8.2-6.1-12.1-7.9-13.9-7.9-7.8-4.2-7.7-3.7-1.9-.7-1.7 0M504.2 430.5l-11.7-17-15.9-21.7-20.2-26.7-18.4-23.8-16.5-20.8-14.6-17.8-12.6-14.6-10.4-11.4-10.5-10.5-8.3-7.7-10.4-8.7-8.1-6.1-12.1-7.8-13.9-8-7.8-4-7.7-3.7-1.9-.7-1.8 0M506.7 428.3l-11.8-16.8-15.9-21.8-22.2-29.2-16.3-21-16.5-20.8-14.6-17.8-12.6-14.5-10.5-11.3-10.4-10.4-8.3-7.7-10.4-8.7-4.1-3.2-4.1-2.9-12.1-7.8-13.8-7.8-7.8-4.1-7.7-3.6-1.9-.7-1.8 .1M509.1 426.1l-11.7-16.7-15.9-21.6-20.2-26.6-18.3-23.6-16.6-20.7-14.5-17.7-12.6-14.4-10.5-11.2-10.4-10.5-8.4-7.6-10.3-8.6-8.2-6.1-12.1-7.8-13.9-7.8-7.8-4-7.7-3.5-1.9-.8-1.8 .1M511.6 424l-11.8-16.6-15.9-21.6-20.1-26.5-20.4-26.1-16.6-20.6-12.5-15.1-12.5-14.3-10.5-11.2-10.4-10.4-8.4-7.6-10.3-8.6-8.2-6.1-12.1-7.7-13.9-7.7-7.8-4-7.7-3.5-1.9-.7-1.8 .1M514 422l-13.7-19.4-15.9-21.4-18.1-23.8-20.5-26-16.5-20.6-12.5-14.9-12.5-14.3-10.5-11.1-10.5-10.3-8.3-7.6-10.3-8.6-8.2-6.1-12.1-7.6-13.9-7.7-7.9-3.9-7.7-3.5-1.9-.7-1.8 .1M516.5 419.9l-13.7-19.3-15.9-21.4-18.2-23.7-20.4-25.9-16.5-20.5-12.5-14.8-12.6-14.2-10.4-11.1-10.5-10.3-8.3-7.5-10.3-8.5-8.2-6.1-12.2-7.7-13.9-7.6-7.8-3.9-7.7-3.4-1.9-.7-1.8 .1M518.9 417.9l-13.7-19.2-15.9-21.4-18.1-23.6-20.4-25.9-16.6-20.4-12.4-14.8-12.6-14.1-10.4-11-10.5-10.2-8.3-7.5-8.3-6.8-10.2-7.8-12.2-7.6-13.9-7.5-7.8-3.9-7.7-3.4-2-.7-1.8 .1M521.4 415.9l-13.7-19.2-15.9-21.3-18.2-23.6-20.4-25.8-16.5-20.2-12.5-14.7-12.5-14.1-10.4-10.9-10.5-10.2-10.4-9.2-10.3-8.2-8.2-5.9-12.1-7.4-13.9-7.4-7.8-3.7-5.8-2.5-1.9-.7-1.8 .1M523.8 413.9l-13.7-19.1-15.9-21.3-18.1-23.5-20.4-25.7-16.5-20.2-12.5-14.6-12.5-14-10.5-10.9-10.4-10-8.3-7.4-10.4-8.4-10.2-7.5-12.1-7.3-13.9-7.4-7.8-3.6-5.8-2.5-1.9-.7-1.8 0M526.3 411.9l-13.7-19-15.9-21.3-16.1-20.9-20.4-25.6-16.5-20.1-14.5-17.1-12.5-13.8-10.5-10.9-10.4-10-8.3-7.3-10.4-8.4-10.2-7.4-12.1-7.3-13.9-7.3-7.9-3.7-5.8-2.4-1.9-.7-1.8 0M528.7 410l-13.7-19-15.9-21.2-16-20.9-20.4-25.5-16.5-20.1-12.4-14.5-12.6-14-12.5-13-10.4-9.9-8.3-7.3-10.4-8.3-10.2-7.4-12.2-7.3-11.9-6.3-7.8-3.8-5.9-2.5-3.8-1.4-1.8 0M531.2 408l-13.7-18.9-15.9-21.2-18.1-23.3-18.3-23-14.5-17.4-14.5-17-12.5-13.8-12.5-12.9-10.4-9.9-8.3-7.3-10.4-8.3-10.2-7.3-12.2-7.3-11.9-6.3-7.9-3.7-5.8-2.5-3.8-1.4-1.9 0M533.6 406.1l-13.7-18.9-15.8-21.1-16.1-20.8-18.3-22.8-14.4-17.5-14.5-16.9-12.5-13.9-12.5-13-10.5-10-10.4-9.1-10.3-8.3-10.2-7.3-12.2-7.3-11.9-6.2-7.9-3.7-5.8-2.5-3.9-1.4-1.8 0M536.1 404.2l-13.7-18.9-15.9-21-16.1-20.7-18.3-22.9-14.3-17.3-14.5-16.9-12.5-13.7-12.5-13-10.5-9.9-10.4-9.1-10.3-8.1-10.3-7.3-6.1-3.8-6-3.5-12-6.2-7.8-3.7-5.9-2.4-3.8-1.4-1.8-.1M538.5 402.4l-13.7-18.9-15.8-21.1-16.1-20.6-18.3-22.7-14.4-17.3-14.5-16.8-12.4-13.7-12.6-12.8-10.4-9.9-10.4-9-10.3-8.1-10.3-7.3-6.1-3.8-6-3.4-12-6.2-7.9-3.6-5.8-2.5-3.8-1.4-1.9 0M541 400.5l-13.7-18.8-15.9-21.1-16-20.6-18.3-22.6-14.4-17.2-14.5-16.7-12.5-13.6-12.5-12.7-10.4-9.8-10.4-9-10.3-8.1-10.3-7.2-6.1-3.8-6-3.4-12-6.2-7.9-3.6-5.8-2.4-3.9-1.4-1.8-.1M543.4 398.6l-15.6-21.4-15.9-20.9-16.1-20.5-16.3-20.1-14.3-17.1-14.5-16.6-12.5-13.5-12.5-12.6-10.4-9.8-10.4-8.9-10.3-8-10.3-7.2-6.1-3.8-6.1-3.4-11.9-6.1-7.9-3.6-5.8-2.4-3.9-1.4-1.9-.1M545.8 396.8l-15.6-21.4-15.9-20.9-16-20.5-16.3-20-14.4-17-14.4-16.5-12.5-13.4-12.5-12.5-10.4-9.7-10.4-8.8-10.3-8-10.3-7.2-6.1-3.7-6.1-3.5-12-6.1-7.8-3.5-5.9-2.4-3.8-1.3-1.9-.2M548.3 395l-13.7-18.8-15.8-20.9-16-20.5-16.3-20-14.3-17-14.5-16.4-12.4-13.5-12.5-12.6-12.5-11.6-10.4-8.8-10.4-8-10.2-7.1-6.1-3.7-6.1-3.4-12-6.1-7.9-3.5-5.8-2.4-3.9-1.3-1.8-.2M550.7 393.2l-13.6-18.7-15.8-21-16.1-20.4-16.2-19.9-14.4-17-14.4-16.3-12.5-13.4-12.5-12.5-12.5-11.5-10.3-8.8-10.4-7.9-10.2-7-6.1-3.8-6.1-3.4-12-6-7.9-3.5-5.8-2.3-3.9-1.4-1.9-.1M553.2 391.4l-13.7-18.7-15.8-20.9-16-20.4-16.3-19.9-14.3-16.8-14.4-16.3-12.5-13.2-12.5-12.5-12.5-11.4-10.4-8.7-10.3-7.9-10.3-7-12.1-7.1-12-6-7.9-3.5-5.9-2.3-3.8-1.3-1.9-.2M555.6 389.6l-13.6-18.7-15.8-20.9-14-17.8-16.3-19.8-16.3-19.3-14.5-16.1-12.4-13.2-12.5-12.4-12.5-11.4-10.4-8.6-10.3-7.8-10.3-7-12.1-7-12.1-6-7.9-3.4-5.8-2.3-3.9-1.3-1.9-.2M558 387.9l-13.6-18.7-15.8-20.9-14-17.8-16.2-19.8-14.3-16.8-14.4-16.2-14.5-15.3-12.5-12.3-12.5-11.2-10.4-8.6-10.3-7.8-10.3-6.9-12.2-7-12-6-7.9-3.4-5.8-2.2-3.9-1.3-1.9-.2M560.5 386.1l-13.6-18.7-15.8-20.8-14-17.8-16.2-19.7-14.3-16.7-14.5-16.1-12.4-13.1-12.5-12.4-12.5-11.3-10.3-8.7-10.4-7.9-12.3-8.3-12.2-7-12-5.9-11.8-4.9-5.9-2-1.8-.2M562.9 384.4l-13.6-18.7-15.8-20.8-14-17.8-16.2-19.6-14.3-16.7-14.4-16-12.4-13-12.5-12.3-12.5-11.2-10.4-8.6-10.3-7.9-12.3-8.3-12.2-6.9-12-5.9-11.9-4.8-5.8-2-1.9-.2M565.3 382.6l-13.5-18.6-15.8-20.8-14-17.7-16.2-19.7-14.3-16.5-14.4-15.9-12.5-13-12.4-12.1-12.5-11.2-10.4-8.6-12.4-9.2-10.3-6.8-12.1-6.9-12.1-5.8-11.8-4.8-5.8-1.9-1.9-.3M567.8 380.9l-13.6-18.7-13.8-18.2-16-20.2-14.1-17.2-14.3-16.6-14.4-15.9-14.5-15-12.5-12.1-12.4-11.1-10.4-8.5-12.4-9.2-10.3-6.7-12.2-6.9-12-5.7-11.8-4.8-5.9-1.9-1.9-.2M570.2 379.2l-13.6-18.7-13.7-18.2-16-20.2-14.1-17.1-14.3-16.5-14.4-15.8-14.5-15-12.5-12-12.5-11-10.3-8.4-12.4-9.1-10.3-6.7-12.2-6.8-12-5.8-11.9-4.6-5.8-1.9-1.9-.3M572.6 377.5l-13.5-18.7-15.8-20.7-13.9-17.6-14.2-17.1-14.3-16.4-14.4-15.8-12.4-12.8-12.4-12-12.5-11.2-10.4-8.5-10.3-7.7-12.4-8.3-12.2-6.9-12.1-5.9-11.9-4.8-7.8-2.5-1.9-.3M575.1 375.8l-13.6-18.7-15.7-20.7-14-17.6-14.1-17-14.3-16.4-14.4-15.6-12.4-12.8-12.5-11.9-12.4-11.1-10.4-8.4-12.4-9.1-10.3-6.8-12.2-6.9-12.1-5.8-11.9-4.7-5.9-1.9-1.9-.6-1.9-.3M577.5 374.1l-13.5-18.6-15.8-20.7-13.9-17.6-14.2-17-14.2-16.3-14.4-15.6-12.4-12.6-12.5-11.9-12.5-11-10.4-8.3-12.4-9.1-10.3-6.7-12.2-6.8-12.1-5.8-11.8-4.6-5.9-1.9-3.9-.9M579.9 372.4l-13.5-18.6-15.7-20.7-14-17.5-14.1-16.9-14.3-16.3-14.4-15.5-12.4-12.6-12.4-11.8-12.5-10.9-10.4-8.3-12.4-8.9-10.3-6.7-12.2-6.8-12.1-5.7-6-2.4-5.9-2.1-5.9-1.9-3.8-.8M582.4 370.8l-13.6-18.7-15.7-20.6-13.9-17.5-14.1-16.9-14.3-16.2-12.3-13.3-14.5-14.6-12.5-11.7-12.4-10.9-10.4-8.2-12.4-8.9-10.3-6.6-12.3-6.7-12-5.6-6-2.4-5.9-2.1-5.9-1.9-3.9-.8M584.8 369.1l-13.5-18.6-15.7-20.7-14-17.4-14.1-16.9-14.3-16.1-12.3-13.2-14.5-14.6-12.4-11.6-12.5-10.7-10.4-8.2-12.4-8.9-10.3-6.4-12.2-6.7-12.1-5.6-6-2.4-5.9-2-5.9-1.8-3.8-.8M587.2 367.5l-13.5-18.7-13.7-18.1-13.9-17.5-14.1-16.9-14.2-16.2-12.4-13.2-14.4-14.6-12.5-11.7-12.4-10.8-12.5-9.8-12.4-8.8-10.3-6.4-12.2-6.6-12.1-5.5-6-2.4-5.9-2-5.9-1.7-3.9-.8M589.6 365.8l-13.4-18.6-13.7-18.1-14-17.5-14-16.9-14.3-16.1-12.3-13.2-14.5-14.5-12.4-11.6-12.5-10.7-12.4-9.8-12.5-8.7-10.2-6.3-12.3-6.6-6.1-2.8-6-2.6-6-2.3-5.9-2-5.9-1.6-3.8-.8M592.1 364.2l-13.5-18.7-13.7-18-13.9-17.5-14.1-16.8-14.2-16.1-12.3-13.1-14.5-14.5-12.4-11.5-12.5-10.6-12.5-9.7-12.4-8.6-10.3-6.3-12.2-6.5-6.1-2.8-6-2.5-6-2.3-5.9-1.9-5.9-1.6-3.9-.8M594.5 362.5l-13.5-18.6-13.7-18-13.9-17.5-14-16.8-14.3-16-12.3-13-14.4-14.4-12.5-11.5-12.5-10.5-12.4-9.6-12.4-8.5-10.3-6.3-12.3-6.4-6.1-2.7-6-2.5-6-2.2-5.9-1.9-5.9-1.6-3.9-.8M596.9 360.9l-13.4-18.6-13.7-18-13.9-17.5-14.1-16.7-14.2-16-12.3-13-14.5-14.3-12.4-11.3-12.5-10.5-12.5-9.5-10.3-7.1-12.4-7.5-12.2-6.4-6.1-2.7-6-2.5-6-2.1-6-1.9-5.8-1.5-3.9-.7M599.3 359.3l-13.4-18.6-13.7-18-13.9-17.4-14-16.7-14.3-16-12.3-12.9-14.4-14.2-12.5-11.3-12.4-10.4-12.5-9.4-10.4-7.1-12.3-7.4-6.2-3.3-6.1-2.9-6.1-2.7-6-2.5-6-2.1-5.9-1.8-5.9-1.5-3.9-.7M601.7 357.7l-13.4-18.6-13.6-18-13.9-17.4-14.1-16.7-14.2-15.8-12.3-12.9-14.5-14.1-12.4-11.3-12.5-10.3-12.5-9.3-10.3-7-12.4-7.3-6.1-3.3-6.1-2.9-6.1-2.7-6.1-2.3-5.9-2.1-6-1.8-5.9-1.4-3.8-.7M604.1 356.1l-13.4-18.6-13.6-18-13.9-17.4-14-16.6-14.3-15.8-12.3-12.8-14.4-14.1-12.5-11.1-12.4-10.3-12.5-9.2-10.4-6.9-12.3-7.3-6.2-3.2-6.1-2.9-6.1-2.6-6-2.3-6-2-5.9-1.7-5.9-1.4-3.9-.7M606.6 354.5l-13.4-18.6-13.7-18-13.8-17.3-12.1-14.3-14.2-15.9-12.3-12.9-14.4-14.1-12.4-11.2-12.5-10.3-12.5-9.4-12.4-8.3-12.4-7.1-6.1-3.2-6.2-2.8-6-2.6-6.1-2.3-6-2-5.9-1.6-5.9-1.3-3.9-.7M609 352.9l-13.4-18.6-13.6-18-13.9-17.3-12-14.2-14.2-15.8-12.3-12.9-14.4-14-12.5-11.2-12.5-10.2-12.4-9.3-12.5-8.2-12.4-7.1-6.1-3.1-6.1-2.8-6.1-2.5-6-2.2-6-2-6-1.6-5.9-1.2-3.9-.6M611.4 351.4l-13.4-18.7-13.6-17.9-13.8-17.3-12.1-14.2-14.2-15.8-12.3-12.8-14.4-14-12.4-11-12.5-10.2-12.5-9.2-12.4-8.1-12.4-7-6.2-3.1-6.1-2.7-6.1-2.5-6-2.2-6-1.9-6-1.5-5.8-1.2-3.9-.6M613.8 349.8l-13.4-18.6-13.6-18-13.8-17.2-12-14.2-14.2-15.7-12.3-12.8-14.4-13.9-12.5-11-12.5-10.1-12.4-9.1-12.5-8-12.4-6.9-6.1-3-6.2-2.8-6-2.4-6.1-2.1-6-1.8-5.9-1.5-5.9-1.2-3.9-.5M616.2 348.2l-13.3-18.6-13.6-17.9-13.9-17.3-12-14.1-14.2-15.7-12.3-12.7-14.4-13.8-12.4-10.9-12.5-10-12.5-9.1-12.5-7.9-6.2-3.6-6.1-3.2-6.2-3-6.1-2.7-6.1-2.4-6.1-2-6-1.8-5.9-1.4-5.9-1.1-3.9-.5M618.6 346.7l-13.3-18.6-13.6-18-13.8-17.2-12-14.1-14.2-15.6-12.3-12.7-14.5-13.7-12.4-10.9-12.5-9.9-12.5-8.9-12.4-7.9-6.2-3.5-6.2-3.2-6.2-3-6.1-2.6-6.1-2.3-6-2.1-6-1.7-6-1.3-5.9-1.1-3.9-.4M621 345.1l-13.3-18.6-13.6-17.9-13.8-17.2-12-14.1-14.2-15.5-12.3-12.6-14.4-13.7-12.5-10.8-12.4-9.9-12.5-8.8-12.5-7.8-6.2-3.5-6.2-3.1-6.1-2.9-6.2-2.6-6.1-2.3-6-2-6-1.6-6-1.3-5.9-1-3.9-.4M623.4 343.6l-13.3-18.6-13.5-17.9-13.8-17.2-12.1-14-14.1-15.6-12.3-12.5-14.5-13.6-12.4-10.7-12.5-9.8-12.5-8.8-12.5-7.7-6.2-3.4-6.1-3.1-6.2-2.9-6.1-2.5-6.1-2.2-6.1-1.9-6-1.6-6-1.3-5.9-.9-3.9-.4M625.8 342l-13.3-18.6-13.5-17.9-13.8-17.1-12-14-14.2-15.5-12.3-12.5-14.4-13.5-12.5-10.7-12.5-9.7-12.5-8.6-12.4-7.6-6.2-3.4-6.2-3.1-6.2-2.8-6.1-2.5-6.1-2.2-6.1-1.8-6-1.5-5.9-1.2-6-.9-3.9-.4M628.2 340.5l-13.3-18.6-13.5-17.9-13.8-17.1-12-14-14.2-15.4-12.2-12.4-14.5-13.5-12.4-10.6-12.5-9.6-12.5-8.6-12.5-7.5-6.2-3.3-6.2-3.1-6.2-2.7-6.1-2.5-6.1-2.1-6.1-1.8-6-1.5-5.9-1.1-5.9-.8-4-.3M630.6 339l-13.2-18.6-13.6-17.9-13.8-17.1-11.9-13.9-14.2-15.4-12.3-12.4-14.4-13.4-12.5-10.5-12.5-9.5-12.5-8.5-12.5-7.5-6.2-3.3-6.2-2.9-6.1-2.7-6.2-2.4-6.1-2.1-6.1-1.7-6-1.4-5.9-1.1-5.9-.7-4-.3M633 337.4l-13.2-18.5-13.6-17.9-13.7-17-12-14-14.2-15.3-12.3-12.3-14.4-13.3-12.5-10.5-12.5-9.4-12.5-8.5-12.4-7.3-6.3-3.3-6.2-2.9-6.1-2.6-6.2-2.4-6.1-2-6-1.7-6.1-1.3-5.9-1-5.9-.7-4-.2M635.4 335.9l-13.2-18.5-13.5-17.9-13.8-17-12-13.9-14.1-15.3-12.3-12.2-14.5-13.3-12.4-10.4-12.5-9.4-12.5-8.3-12.5-7.3-6.2-3.1-6.2-2.9-6.2-2.6-6.2-2.3-6.1-2-6-1.6-6.1-1.3-5.9-.9-6-.6-3.9-.2M637.8 334.4l-13.2-18.5-13.5-17.9-13.8-17-12-13.8-14.1-15.3-12.3-12.2-14.4-13.2-12.5-10.3-12.5-9.3-12.5-8.2-6.3-3.8-6.2-3.4-6.2-3.1-6.2-2.9-6.2-2.5-6.2-2.2-6.1-1.9-6-1.6-6.1-1.2-5.9-.9-6-.5-3.9-.2M640.2 332.9l-13.2-18.5-13.5-17.9-13.7-16.9-12-13.8-14.2-15.2-12.3-12.2-14.4-13.1-12.5-10.2-12.5-9.3-12.5-8.1-6.3-3.7-6.2-3.4-6.2-3.1-6.2-2.8-6.2-2.5-6.2-2.1-6.1-1.9-6-1.5-6.1-1.2-6-.8-5.9-.4-3.9-.1M642.6 331.4l-13.2-18.5-13.5-17.8-13.7-17-12-13.8-14.2-15.1-12.2-12.1-8.3-7.6-6.2-5.4-12.5-10.2-12.5-9.2-12.5-8.1-6.2-3.6-6.3-3.3-6.2-3.1-6.2-2.7-6.2-2.4-6.2-2.1-6.1-1.8-6-1.5-6.1-1.1-6-.7-5.9-.4-3.9-.1M645 329.9l-13.2-18.5-13.5-17.8-13.7-16.9-12-13.8-14.1-15.1-12.3-12-8.2-7.6-6.3-5.4-12.4-10.1-12.5-9-12.6-8-6.2-3.6-6.3-3.3-6.2-3-6.2-2.7-6.2-2.4-6.2-2-6.1-1.7-6.1-1.4-6-1.1-6-.7-5.9-.3-3.9 0M647.3 328.4l-13.1-18.5-13.5-17.8-13.7-16.8-11.9-13.8-14.2-15-12.3-12-8.2-7.5-6.2-5.4-12.5-10-12.5-9-12.6-7.9-6.2-3.6-6.3-3.2-6.2-3-6.2-2.6-6.2-2.3-6.2-2-6.1-1.7-6.1-1.3-6-1-6-.6-5.9-.2-4 0M649.7 327l-13.1-18.6-13.4-17.7-13.8-16.9-11.9-13.7-14.2-14.9-12.3-12-12.3-11.1-12.5-10.1-8.3-6.1-6.3-4.4-12.5-7.8-6.3-3.5-6.3-3.2-6.2-2.9-6.2-2.6-6.2-2.2-6.2-2-6.1-1.6-6.1-1.2-6-.9-6-.6-6-.2-3.9 .1M652.1 325.5l-13.1-18.5-13.4-17.8-13.8-16.8-11.9-13.6-14.2-15-12.2-11.9-12.4-11-12.5-10-8.3-6.1-6.3-4.3-12.5-7.8-6.3-3.4-6.3-3.2-6.2-2.8-6.2-2.5-6.2-2.2-6.2-1.9-6.1-1.6-6.1-1.2-6.1-.8-5.9-.5-6-.1-3.9 .1M654.5 324l-13.1-18.5-13.4-17.7-13.7-16.8-12-13.6-14.1-14.9-12.3-11.8-12.4-11-12.5-9.9-8.3-6.1-6.3-4.3-6.3-3.9-6.2-3.7-6.3-3.4-6.3-3.1-6.2-2.8-6.2-2.5-6.2-2.1-6.2-1.8-6.1-1.5-6.1-1.2-6.1-.7-6-.5-5.9 0-3.9 .2M656.9 322.6l-13.1-18.6-13.4-17.6-13.7-16.8-12-13.6-14.1-14.8-12.3-11.8-12.4-10.9-12.5-9.9-8.3-6-6.3-4.2-6.3-3.9-6.2-3.7-6.3-3.3-6.3-3.1-6.2-2.7-6.2-2.4-6.2-2.1-6.2-1.8-6.2-1.4-6.1-1.1-6-.7-6-.3-6 0-3.9 .2M659.2 321.1l-13-18.5-13.4-17.7-13.7-16.7-12-13.5-14.1-14.8-12.3-11.8-12.4-10.8-12.4-9.8-8.4-6-6.3-4.1-6.3-3.9-6.2-3.6-6.3-3.3-6.3-3-6.2-2.7-6.2-2.3-6.3-2.1-6.1-1.7-6.2-1.3-6.1-1-6-.7-6.1-.3-5.9 .1-3.9 .3M661.6 319.6l-13-18.4-13.4-17.7-13.7-16.7-11.9-13.5-14.2-14.7-12.3-11.7-12.4-10.8-12.4-9.7-8.4-5.9-6.3-4.1-6.3-3.9-6.2-3.5-6.3-3.3-6.3-2.9-6.2-2.6-6.3-2.4-6.2-1.9-6.2-1.7-6.1-1.3-6.1-.9-6.1-.6-6-.2-6 .2-3.9 .3M664 318.2l-13.1-18.5-13.3-17.6-13.7-16.7-11.9-13.4-14.2-14.7-12.3-11.6-12.3-10.7-12.5-9.7-8.4-5.9-6.3-4-6.3-3.8-6.2-3.5-6.3-3.2-6.3-2.9-6.2-2.6-6.3-2.3-6.2-1.9-6.2-1.6-6.1-1.2-6.2-.9-6-.5-6-.1-6 .2-3.9 .4M666.4 316.8l-13.1-18.5-13.3-17.6-13.7-16.7-11.9-13.4-14.2-14.6-12.2-11.6-12.4-10.6-12.5-9.6-8.4-5.8-6.3-4-6.3-3.8-6.2-3.4-6.3-3.2-6.3-2.8-6.3-2.5-6.2-2.2-6.2-1.9-6.2-1.5-6.2-1.2-6.1-.8-6.1-.5-6 0-6 .3-3.9 .4M424.3 530.6l23.2-16.7 2.8-20.8 7.3-11.3 4.9-6.8 4.9-6.3 4.9-6 7.4-8.3 12.2-12.5 7.4-7 7.4-6.6 14.7-12.4 14.7-11.7 17.1-12.8 19.4-13.9 21.9-15 21.7-14.3 24-15.3 26.2-16.1M422.4 528.6l23.2-16.6 2.8-23.2 2.5-3.8 4.8-7.1 4.9-6.6 4.9-6.2 7.3-8.5 7.4-8 7.3-7.4 7.4-7 7.4-6.6 14.7-12.5 14.7-11.7 19.5-14.7 19.5-13.9 21.9-14.9 21.7-14.4 24-15.3 26.2-16.1M420.5 526.6l23.2-16.6 2.8-25.4 4.9-7.1 4.8-6.6 4.9-6.2 7.3-8.6 7.4-8 7.3-7.5 7.4-7 7.4-6.7 14.7-12.6 14.7-11.8 19.5-14.7 19.6-14 21.8-15 24.2-16 24-15.3 26.3-16.1M418.6 524.6l7-17.5 4.7-3.3 2.3-3.3 4.8-8.5 4.8-7.8 4.8-7.1 4.9-6.6 9.7-12.1 9.8-10.8 9.8-9.9 12.2-11.5 14.8-12.6 14.7-11.9 19.6-14.8 19.5-14.1 21.9-15 24.2-16.1 26.5-16.8 26.2-16.2M416.6 522.7l7-17.6 2.4-1.7 2.3-3.2 4.8-8.5 4.8-7.8 4.8-7.2 4.8-6.6 9.7-12.2 9.8-10.8 12.2-12.4 12.3-11.3 14.7-12.6 17.2-13.7 19.6-14.7 19.5-13.9 21.9-15 24.2-16 24.1-15.3 26.3-16.1M414.7 520.7l7-17.6 2.3-3.2 4.8-8.6 4.7-7.7 4.8-7.2 4.9-6.7 9.7-12.2 9.7-11 12.2-12.4 12.3-11.3 14.7-12.7 17.2-13.8 19.6-14.7 19.5-14.1 21.9-15.1 24.3-16 26.5-16.8 26.3-16.1M412.8 514.6l4.6-10.4 2.3-4.6 4.8-8.6 7.1-11.5 4.8-6.9 4.8-6.5 9.7-11.9 9.7-10.7 12.3-12.3 12.2-11.3 14.7-12.5 17.2-13.8 19.6-14.7 19.6-14 21.9-15.1 24.3-16 26.5-16.8 26.3-16.1M410.8 508.9l4.7-9.6 7-12.6 7.1-11 4.8-6.8 4.8-6.3 9.7-11.6 12.2-13.1 12.2-11.9 12.3-11 14.7-12.4 17.2-13.5 19.6-14.6 19.5-14 22-15 24.3-15.9 24.1-15.2 26.3-16.1M408.9 503.7l2.3-4.7 4.6-8.6 7.1-11.5 7.2-10.3 9.6-12.4 9.7-11.1 12.2-12.6 12.2-11.6 12.3-10.8 14.7-12.2 17.2-13.4 19.6-14.5 19.5-13.8 22-14.9 24.3-15.8 24.1-15.2 23.9-14.6M406.9 498.7l2.3-4.4 4.7-8.2 7-11.1 7.2-10 9.6-12 9.7-11 12.2-12.4 12.2-11.5 12.3-10.7 14.7-12.2 17.2-13.3 19.6-14.5 19.6-13.8 21.9-14.9 24.3-15.8 24.2-15.2 23.9-14.5M404.9 494.1l7-12.1 7.1-10.8 7.1-9.7 9.6-11.8 9.7-10.7 12.2-12.3 12.2-11.4 14.8-12.7 14.7-12 17.2-13.2 19.6-14.4 19.6-13.7 21.9-14.8 21.9-14.2 24.2-15.2 23.9-14.5M402.9 489.6l7-11.6 7.1-10.4 9.5-12.5 9.7-11.3 9.7-10.3 12.2-12 12.2-11.2 12.3-10.4 14.7-12 17.2-13.2 19.6-14.3 19.6-13.7 22-14.8 21.9-14.2 24.1-15.1 24-14.5M400.9 485.3l7-11.2 7.1-10.1 9.5-12.2 9.7-11.1 9.7-10.2 12.2-11.9 12.2-11 14.7-12.5 14.8-11.8 17.1-13 19.7-14.2 19.6-13.6 21.9-14.8 21.9-14.1 21.8-13.5 24-14.5M398.9 481.2l7-10.9 7.1-9.8 9.6-11.9 9.6-10.9 9.7-10.1 12.2-11.8 12.2-11 14.7-12.4 14.8-11.7 17.2-13 19.6-14.2 19.6-13.6 22-14.7 21.9-14.1 21.8-13.5 24-14.5M396.9 477.2l7-10.5 9.5-12.6 9.6-11.5 9.6-10.5 9.7-9.8 12.2-11.5 12.3-10.8 14.7-12.2 14.7-11.6 17.2-13 19.7-14 19.6-13.5 22-14.6 21.9-14 21.7-13.5 21.7-12.9M394.9 473.4l7-10.3 9.5-12.3 9.6-11.2 9.6-10.4 9.7-9.8 12.2-11.4 12.3-10.7 14.7-12.2 14.7-11.6 17.2-12.9 19.7-14 19.6-13.5 22-14.6 21.9-13.9 21.8-13.5 21.6-12.9M392.9 469.7l7-10 9.5-12.1 9.6-11.1 9.6-10.3 12.2-11.9 12.2-11.2 12.2-10.6 14.7-12 14.8-11.5 17.2-12.7 19.6-14 19.7-13.4 19.5-12.9 21.9-13.9 21.8-13.4 21.7-12.9M390.8 466.1l7.1-9.8 9.5-11.9 9.5-10.9 9.7-10.2 12.1-11.8 12.3-11.2 12.2-10.5 14.7-12 14.8-11.4 17.2-12.7 19.6-13.9 19.7-13.4 19.5-12.9 22-13.9 21.8-13.4 21.6-12.8M388.8 462.6l7.1-9.7 9.4-11.6 9.6-10.8 9.7-10 12.1-11.8 12.2-11.1 12.3-10.5 14.7-12 14.8-11.3 17.2-12.7 19.7-13.9 19.6-13.3 19.6-12.8 21.9-13.9 21.8-13.4 21.7-12.7M386.8 459.1l7-9.4 9.5-11.5 9.6-10.6 12.1-12.4 12.2-11.6 12.2-10.9 12.2-10.3 14.8-11.8 14.7-11.3 17.2-12.5 19.7-13.8 19.6-13.2 19.6-12.8 21.9-13.8 19.4-11.8 21.7-12.7M384.8 455.8l7-9.3 9.5-11.3 9.6-10.5 12.1-12.3 12.1-11.5 12.2-10.9 12.3-10.3 14.7-11.8 14.8-11.2 17.2-12.5 19.7-13.7 19.6-13.2 19.6-12.7 22-13.8 19.4-11.8 21.7-12.6M382.7 452.5l7.1-9.2 9.5-11.1 9.6-10.4 12-12.2 12.2-11.5 12.2-10.8 12.3-10.3 14.7-11.7 14.8-11.2 17.2-12.5 19.7-13.6 19.6-13.2 19.6-12.7 22-13.7 19.4-11.7 21.7-12.7M380.7 449.3l2.3-3.2 4.7-5.8 9.5-11.1 9.6-10.3 12.1-12.1 12.2-11.4 12.2-10.8 12.3-10.2 14.7-11.7 14.8-11.2 17.2-12.4 19.7-13.6 19.6-13.1 19.6-12.7 22-13.7 19.4-11.7 21.7-12.5M378.7 446.2l2.3-3.2 4.7-5.8 11.9-13.5 9.6-10.1 12.1-11.9 12.2-11.2 12.2-10.7 12.3-10.1 14.7-11.6 14.8-11 17.3-12.3 19.6-13.5 19.7-13 19.6-12.5 19.5-12.1 19.4-11.7 21.7-12.5M376.6 443.1l2.4-3.2 4.7-5.7 9.5-10.8 9.6-10.2 12.1-12 12.1-11.3 12.2-10.7 12.3-10.2 14.8-11.6 14.7-11 17.3-12.4 19.7-13.5 19.6-13 19.6-12.6 22-13.6 19.4-11.6 21.8-12.5M374.6 440l2.3-3.1 4.7-5.7 9.5-10.7 9.6-10.1 12.1-11.9 12.2-11.3 12.2-10.7 12.3-10.2 14.7-11.5 14.8-11 17.2-12.3 19.7-13.5 19.7-12.9 22.1-14.1 19.5-12 19.4-11.6 21.8-12.4M372.6 437l2.3-3.1 4.7-5.6 9.5-10.6 12-12.5 12.1-11.8 12.2-11.1 12.2-10.5 12.3-10.1 12.3-9.5 17.2-12.8 17.3-12.1 19.7-13.4 19.6-12.8 22.1-14 19.5-11.9 19.5-11.4 19.3-11M370.5 434.1l2.3-3.1 4.8-5.6 9.5-10.5 12-12.5 12.1-11.7 12.1-11.1 12.3-10.5 12.3-10 12.3-9.5 17.2-12.7 17.3-12.1 19.7-13.3 19.6-12.8 22.1-13.9 19.5-11.9 19.5-11.4 19.3-10.9M368.5 431.2l4.6-5.9 11.9-13.2 12-12.4 12.1-11.7 12.2-11.1 12.2-10.5 12.3-10 12.3-9.4 17.3-12.7 17.2-12 19.7-13.2 19.7-12.8 19.6-12.3 22-13.3 19.4-11.4 19.4-10.8M366.4 428.4l2.3-3.2 2.4-2.8 11.9-13.1 12-12.4 12.1-11.7 12.1-11 12.3-10.5 12.3-9.9 12.3-9.5 17.2-12.5 17.3-12 19.7-13.2 19.7-12.6 19.6-12.3 22-13.3 19.4-11.3 19.4-10.8M364.4 425.5l2.3-3.1 2.4-2.8 11.8-13.1 12-12.3 12.1-11.7 12.2-11 12.2-10.5 12.3-9.9 12.3-9.4 17.3-12.5 17.3-11.9 19.7-13.1 19.6-12.6 19.7-12.2 22-13.2 19.4-11.2 19.3-10.8M362.3 422.7l2.4-3.1 2.3-2.8 11.9-13.1 12-12.2 12.1-11.7 12.1-11 12.3-10.5 12.3-9.8 12.3-9.4 14.8-10.7 17.2-11.9 19.8-13.1 22.1-14.1 19.6-12.2 22-13.1 19.5-11.2 19.3-10.7M360.3 420l2.3-3.2 2.4-2.8 11.8-13 12-12.3 12.1-11.6 9.7-8.9 12.3-10.5 12.3-9.9 14.7-11.3 14.8-10.6 17.3-11.9 19.7-13 22.2-14 19.6-12.1 22-13.1 19.5-11.1 19.3-10.6M358.2 417.3l2.3-3.3 2.4-2.7 11.9-13 12-12.3 12-11.6 12.2-11 9.8-8.4 12.3-9.9 14.8-11.2 14.8-10.5 17.3-11.8 19.7-12.9 22.1-14 19.7-12.1 22-13 19.4-11 19.4-10.6M356.2 414.6l2.3-3.3 2.3-2.7 11.9-13 12-12.3 14.5-13.9 12.2-10.9 9.8-8.2 12.3-9.7 12.3-9.2 14.8-10.6 17.3-11.7 19.7-12.8 22.2-13.9 19.6-12 22-12.9 19.5-11 19.3-10.5M354.1 411.9l2.3-3.3 2.4-2.8 11.8-12.9 12-12.3 14.5-13.9 12.2-10.9 9.8-8.2 12.3-9.6 12.4-9.2 14.8-10.5 17.3-11.6 19.7-12.8 22.2-13.8 22-13.3 19.6-11.4 19.5-11 19.3-10.4M352.1 409.3l2.3-3.4 2.3-2.7 11.9-13 12-12.2 12.1-11.7 9.7-8.9 9.8-8.4 12.3-9.9 14.7-11.1 14.9-10.5 17.2-11.6 19.8-12.7 22.1-13.8 22.2-13.3 19.5-11.4 21.9-12.3 19.4-10.4M350 406.6l2.3-3.4 2.4-2.7 11.8-13 12-12.2 12.1-11.7 9.7-8.9 9.8-8.4 12.3-9.8 14.8-11.1 14.8-10.4 17.3-11.6 19.7-12.6 22.2-13.7 22.1-13.2 22-12.7 19.5-10.8 19.3-10.3M348 404l2.3-3.4 11.8-13.2 11.9-12.4 14.5-14.1 9.7-8.9 9.8-8.3 12.3-9.8 14.8-11.1 14.8-10.4 17.3-11.4 19.8-12.5 22.1-13.6 22.2-13.1 22-12.7 19.4-10.7 19.4-10.2M345.9 401.5l2.3-3.5 4.7-5.5 7.1-7.7 12-12.4 14.4-14.1 9.8-8.9 9.8-8.4 12.2-9.8 14.8-11 14.9-10.3 17.3-11.3 19.7-12.4 22.2-13.5 22.1-13.1 22-12.5 19.5-10.7 19.3-10.1M343.9 398.9l2.3-3.5 2.3-2.8 11.8-13 14.4-14.7 12.1-11.6 9.7-8.8 9.8-8.2 12.3-9.6 12.4-9 14.8-10.3 17.3-11.2 19.8-12.3 22.1-13.4 22.1-13 22.1-12.4 19.4-10.6 19.4-10.1M341.8 396.4l2.3-3.6 4.7-5.5 7.1-7.8 14.3-14.8 12.1-11.8 12.2-11 7.3-6.2 12.3-9.7 12.3-9.1 14.9-10.3 17.3-11.3 19.7-12.2 22.2-13.3 22.1-12.9 22.1-12.5 21.9-11.8 19.3-10M339.8 393.8l2.2-3.6 4.7-5.5 7.1-7.8 14.3-14.9 12.1-11.7 12.2-11.1 7.3-6.1 12.3-9.7 12.4-9.1 14.8-10.2 14.8-9.6 19.8-12.2 24.7-14.7 24.5-14.2 19.6-10.9 21.9-11.8 19.3-9.9M337.7 391.3l2.3-3.6 4.6-5.5 7.1-7.9 14.3-14.9 12.1-11.8 12.2-11.1 7.3-6.1 12.3-9.6 12.4-9 14.8-10.2 14.9-9.5 19.7-12.1 24.7-14.5 24.6-14.1 19.5-10.9 21.9-11.7 19.4-9.8M335.7 388.9l2.2-3.8 4.7-5.5 7.1-7.8 14.3-15 12-11.8 12.2-11.1 7.3-6.1 12.4-9.6 12.3-9 14.8-10 14.9-9.5 19.8-12 24.6-14.4 24.6-14 22-12.1 19.5-10.2 19.3-9.8M333.6 386.4l2.2-3.8 4.7-5.5 7.1-7.9 14.3-15 12-11.8 9.8-9 9.8-8.2 12.3-9.6 12.3-8.9 14.9-10 14.8-9.3 19.8-11.9 24.7-14.3 24.5-13.9 22.1-12 19.4-10.1 19.3-9.7M331.6 383.9l2.2-3.8 4.6-5.6 7.1-7.9 14.3-15 12.1-11.8 9.7-9 9.8-8.2 12.3-9.5 12.3-8.9 14.9-9.9 14.8-9.3 19.8-11.7 24.7-14.2 24.6-13.7 22-11.9 19.4-10.1 19.4-9.6M329.5 381.5l2.2-3.9 4.7-5.6 7-7.9 14.3-15 12.1-11.9 9.7-9 9.8-8.2 9.8-7.6 12.4-9 14.8-9.9 14.9-9.3 17.3-10.3 24.7-14.1 27.1-15 22-11.9 21.9-11.3 19.3-9.5M327.4 379.1l2.2-4 9.4-10.9 14.2-15.2 14.5-14.4 9.7-9 9.8-8.1 9.8-7.7 12.4-8.9 14.8-9.8 14.9-9.2 17.3-10.2 24.7-14 27.1-14.9 22-11.7 21.9-11.2 19.3-9.4M325.4 376.7l2.2-4 9.3-11 14.2-15.3 14.5-14.3 9.7-9 9.8-8.2 9.8-7.6 12.4-8.8 14.9-9.8 14.8-9.2 17.4-10 24.7-13.8 27-14.8 22-11.7 21.9-11 19.3-9.3M323.3 374.3l2.2-4.1 9.3-11 14.3-15.3 14.4-14.4 9.7-9 9.8-8.1 9.8-7.6 12.4-8.8 14.9-9.7 14.8-9 17.4-10 24.7-13.7 27-14.6 22.1-11.5 21.8-11 19.3-9.2M321.3 371.9l2.2-4.1 9.3-11 14.2-15.4 14.4-14.4 9.7-9 7.3-6.1 12.3-9.5 12.4-8.8 12.4-8.1 14.9-9.1 17.3-9.9 24.7-13.5 29.6-15.9 22-11.4 21.9-10.9 19.3-9.1M319.2 369.5l2.2-4.1 9.3-11.1 14.2-15.4 14.4-14.4 9.7-9 7.3-6.1 12.3-9.5 12.4-8.7 12.4-8.1 14.9-8.9 17.4-9.8 24.7-13.4 29.5-15.7 22-11.3 21.9-10.8 19.3-9M317.2 367.2l2.1-4.2 4.6-5.7 4.7-5.4 14.2-15.4 14.4-14.5 9.7-9 7.3-6.1 12.4-9.4 12.3-8.7 12.4-8 14.9-8.8 17.4-9.7 24.7-13.3 29.5-15.5 22-11.3 21.9-10.6 19.3-8.9M315.1 364.8l2.2-4.2 4.6-5.7 4.6-5.4 14.2-15.4 14.4-14.5 9.7-9 7.3-6.1 12.4-9.4 12.3-8.7 12.4-7.9 14.9-8.8 17.4-9.6 22.2-11.8 32-16.6 22-11.1 21.9-10.6 19.3-8.8M313 362.5l2.2-4.3 4.6-5.7 4.7-5.4 14.1-15.4 14.4-14.5 9.7-9 7.3-6.1 9.9-7.6 12.3-8.7 12.5-8 14.9-8.8 14.8-8.3 22.3-11.8 32-16.5 24.5-12.3 21.9-10.5 21.7-9.8M311 360.2l2.1-4.3 4.6-5.8 4.7-5.4 14.1-15.4 14.4-14.5 9.7-9 7.3-6.1 9.9-7.5 12.4-8.7 12.4-8 12.4-7.3 14.9-8.2 22.3-11.7 34.5-17.7 24.4-12.1 21.9-10.4 21.7-9.7M308.9 357.9l2.2-4.4 4.6-5.7 4.6-5.4 14.2-15.5 14.3-14.4 9.7-9 7.3-6.2 9.9-7.5 12.4-8.6 12.4-7.9 12.4-7.2 14.9-8.2 22.3-11.6 34.5-17.4 24.5-12.1 21.8-10.2 21.7-9.6M306.9 355.6l2.1-4.4 4.6-5.7 4.6-5.4 14.2-15.5 14.3-14.5 9.7-8.9 7.3-6.2 9.9-7.5 12.4-8.5 12.4-7.9 12.4-7.2 14.9-8 22.3-11.5 34.5-17.2 24.5-11.9 21.8-10.2 21.7-9.4M304.8 353.3l2.1-4.4 4.6-5.7 4.7-5.4 14.1-15.5 14.3-14.5 9.7-8.9 7.3-6.2 9.9-7.4 12.4-8.6 12.4-7.7 12.4-7.2 14.9-7.9 19.9-10.1 36.9-18.3 24.5-11.8 21.9-10 21.6-9.3M302.8 351l2.1-4.4 6.9-8.4 14-15.7 14.3-14.6 9.7-9.1 7.3-6.4 12.3-9.3 12.4-8.5 12.4-7.7 12.4-7.1 14.9-7.9 19.9-10 37-18.1 24.4-11.6 21.9-9.9 21.6-9.2M300.7 348.8l2.1-4.4 6.9-8.5 14.1-15.6 14.3-14.6 9.6-9.1 7.3-6.4 12.3-9.3 12.4-8.5 12.4-7.6 12.4-7 15-7.9 19.8-9.8 37-18 24.4-11.4 21.9-9.8 21.6-9.1M298.7 346.5l2.1-4.4 6.8-8.4 14.1-15.6 14.3-14.6 9.6-9.1 9.8-8.3 9.8-7.4 12.4-8.4 12.4-7.6 12.5-6.9 14.9-7.8 19.8-9.7 37-17.8 24.5-11.3 21.8-9.7 21.6-8.9M296.6 344.3l2.1-4.4 6.9-8.5 14-15.5 14.3-14.5 9.6-9.1 9.8-8.4 9.8-7.3 12.4-8.3 12.4-7.6 12.5-6.9 14.9-7.7 19.8-9.6 37-17.5 24.5-11.3 21.8-9.5 21.6-8.8M294.6 342.1l2-4.4 6.9-8.5 14-15.5 14.3-14.5 9.7-9 9.7-8.4 9.8-7.3 12.4-8.3 12.4-7.5 12.5-6.8 14.9-7.6 19.9-9.6 36.9-17.3 24.5-11.1 21.8-9.4 21.6-8.6M292.5 339.9l2.1-4.4 6.9-8.4 14-15.5 14.2-14.4 9.7-9 9.7-8.4 9.8-7.3 12.4-8.3 12.5-7.4 12.4-6.8 14.9-7.5 19.9-9.5 37-17.1 24.4-11 21.8-9.2 21.7-8.5M290.5 337.7l2-4.4 6.9-8.4 14-15.4 14.3-14.4 12-11.1 9.8-8.1 9.8-7.1 9.9-6.5 12.5-7.4 12.4-6.7 15-7.5 22.3-10.5 36.9-16.9 22-9.7 21.8-9.2 21.7-8.3M288.4 335.5l2.1-4.4 6.8-8.3 14-15.4 14.3-14.3 12.1-11 9.7-8.1 9.9-7.1 9.9-6.5 12.4-7.4 12.4-6.7 15-7.4 22.3-10.4 37-16.7 21.9-9.6 21.9-9 21.6-8.2M286.4 333.3l2-4.3 6.9-8.3 14-15.3 14.2-14.3 12.1-10.9 9.7-8.1 9.9-7.1 9.9-6.5 12.4-7.3 12.5-6.6 14.9-7.4 22.3-10.3 34.5-15.4 24.5-10.6 21.8-8.8 21.6-8.1M284.3 331.2l2.1-4.3 4.5-5.7 4.7-5.2 14-15 14.3-14.1 12-10.7 9.8-7.8 9.9-7 9.9-6.2 12.4-7.1 15-7.8 17.4-8.2 24.8-11.2 27-11.9 26.9-11.3 19.3-7.7 19.2-7M282.3 329l2-4.3 4.6-5.5 4.6-5.3 14-14.9 14.3-13.9 12.1-10.7 9.7-7.8 7.4-5.3 12.4-7.9 12.5-7.1 14.9-7.6 17.4-8.2 24.8-11.1 27.1-11.8 26.8-11.1 19.3-7.6 19.2-6.8M280.2 326.9l2.1-4.2 4.5-5.6 4.7-5.2 14-14.8 14.3-13.9 12-10.6 9.8-7.8 7.4-5.3 12.3-7.8 12.5-7.1 14.9-7.6 17.5-8.1 27.2-12.1 27-11.5 24.4-10 19.3-7.4 19.2-6.7M278.2 324.8l2.1-4.2 4.5-5.5 4.6-5.2 14-14.7 14.3-13.8 12.1-10.5 9.7-7.8 9.9-7 9.9-6.1 12.4-7 15-7.6 17.4-8.1 27.2-11.9 27.1-11.4 24.3-9.9 19.4-7.2 19.1-6.6M276.2 322.7l2-4.2 4.6-5.4 4.6-5.2 14-14.6 14.3-13.7 12-10.4 9.8-7.7 9.8-7 9.9-6.2 14.9-8.3 15-7.3 17.4-8 24.8-10.7 27-11.3 24.4-9.7 19.3-7.1 19.1-6.4M274.1 320.6l2.1-4.1 4.5-5.4 4.6-5.1 14.1-14.6 14.2-13.5 12.1-10.4 9.7-7.6 9.9-7 9.9-6.2 14.9-8.2 14.9-7.4 19.9-8.9 24.8-10.6 27-11.1 21.9-8.5 19.3-7.1 19.1-6.2M272.1 318.5l2-4 4.6-5.4 4.6-5.1 14-14.4 11.9-11.3 12-10.5 9.8-7.7 9.8-7.1 12.3-7.9 14.9-8.2 15-7.3 19.9-8.9 24.7-10.4 27-11 21.9-8.4 19.3-6.9 19.1-6.1M270 316.4l2.1-3.9 4.6-5.4 6.9-7.4 14.1-14.2 14.3-13.1 12-10.1 9.8-7.3 9.9-6.7 12.3-7.6 15-7.8 14.9-7 17.4-7.6 24.7-10.3 24.6-9.8 21.9-8.3 19.3-6.7 19.1-6M268 314.4l2.1-3.9 4.5-5.3 7-7.4 14-14 14.3-13.1 12.1-9.9 9.8-7.3 9.8-6.7 12.4-7.5 12.4-6.6 17.5-8.2 19.8-8.6 24.7-10.1 24.5-9.7 21.9-8 19.3-6.6 16.7-5M266 312.4l2.1-3.9 4.5-5.2 7-7.3 14-13.9 14.3-12.9 12.1-9.9 9.8-7.3 9.8-6.6 12.4-7.4 14.9-7.9 14.9-7 19.9-8.5 24.7-10 24.5-9.5 21.9-8 19.2-6.4 16.7-4.9M263.9 310.3l2.1-3.8 4.6-5.1 6.9-7.2 14.1-13.8 14.3-12.8 12.1-9.8 9.7-7.2 9.9-6.6 12.3-7.4 14.9-7.8 15-7 19.8-8.5 24.7-9.9 24.5-9.4 19.5-6.9 19.3-6.4 19-5.5M261.9 308.3l2.1-3.7 4.6-5.1 6.9-7.2 14.1-13.6 14.3-12.6 12.1-9.7 9.7-7.2 12.3-8 12.4-7.2 14.9-7.7 14.9-6.8 19.9-8.4 27.1-10.7 22-8.3 19.5-6.7 19.2-6.1 16.7-4.7M259.9 306.3l2.1-3.6 4.6-5 6.9-7.1 14.1-13.5 14.3-12.6 12.1-9.6 9.7-7 12.3-8 12.4-7.2 14.9-7.6 14.9-6.9 19.9-8.3 27.1-10.6 22-8.1 19.4-6.7 19.2-5.9 16.7-4.6M257.9 304.3l2.1-3.5 4.6-5 6.9-7 14.1-13.3 14.3-12.4 12.1-9.6 9.7-7 12.3-7.9 12.4-7.1 14.9-7.6 17.4-7.9 19.8-8.2 24.6-9.5 22.1-8 19.4-6.6 19.2-5.8 16.6-4.4M255.9 302.4l2.1-3.5 2.3-2.5 11.5-11.6 14.2-13 14.3-12.1 12.1-9.3 9.8-6.8 12.3-7.7 12.3-7 14.9-7.4 17.4-7.7 19.8-8.1 24.7-9.4 19.5-6.9 19.4-6.4 19.2-5.7 16.7-4.2M253.8 300.4l2.2-3.4 2.2-2.4 11.6-11.5 14.2-12.9 14.3-12 12.1-9.1 9.8-6.8 12.3-7.6 12.3-6.9 14.9-7.4 17.4-7.7 19.8-8.1 24.6-9.2 19.6-6.9 19.4-6.2 19.2-5.5 16.6-4.2M251.8 298.5l2.2-3.3 2.2-2.5 11.6-11.3 14.2-12.7 14.3-11.9 12.1-9 9.8-6.7 12.3-7.6 12.3-6.9 14.9-7.3 17.4-7.7 22.3-8.9 22.1-8.3 19.6-6.7 19.3-6.1 19.2-5.4 16.7-3.9M249.8 296.5l2.2-3.2 2.2-2.4 11.7-11.1 14.1-12.6 14.3-11.7 12.1-9 12.3-8.2 12.3-7.4 12.3-6.7 14.9-7.2 17.4-7.5 22.2-8.8 22.1-8 19.6-6.6 19.3-5.9 16.8-4.5 16.6-3.8M247.8 294.6l2.2-3.1 2.2-2.4 11.7-11 14.1-12.4 14.4-11.6 12.1-8.8 12.2-8.2 12.3-7.3 12.3-6.6 17.4-8.3 17.3-7.4 19.8-7.7 22.1-8 19.5-6.4 17-5.1 19.2-5 16.6-3.7M245.8 292.7l2.2-3 2.3-2.3 13.9-13 14.2-12.2 14.4-11.2 12.1-8.6 12.3-7.9 12.3-7.2 12.3-6.4 14.9-7 17.4-7.4 19.7-7.7 22.1-7.8 19.5-6.4 17-4.9 19.1-4.8 16.6-3.6M243.8 290.9l2.2-3 2.3-2.3 14-12.8 14.2-12 14.3-11.1 12.2-8.5 12.2-7.9 12.3-7 12.4-6.5 14.8-6.9 17.4-7.4 19.7-7.6 22.1-7.7 19.5-6.2 16.9-4.8 19.2-4.7 16.6-3.4M241.8 289l2.2-2.9 2.3-2.2 14-12.7 14.2-11.8 14.4-11 12.1-8.4 12.2-7.8 12.3-7 14.9-7.6 17.3-7.9 17.3-7.1 19.7-7.3 19.7-6.7 19.4-6 16.9-4.5 16.8-4 16.6-3.2M239.8 287.2l2.2-2.8 2.3-2.3 14-12.4 14.2-11.7 14.4-10.9 12.2-8.3 12.2-7.6 12.3-7 14.8-7.6 17.3-7.8 17.3-7.1 19.8-7.2 19.6-6.6 19.4-5.9 16.9-4.4 16.8-3.8 16.5-3M237.8 285.3l2.2-2.7 2.3-2.2 7-6.2 9.4-8.1 14.3-11.3 14.4-10.6 12.1-8.1 12.3-7.4 12.3-6.8 14.8-7.4 17.3-7.7 17.3-6.9 17.3-6.2 19.6-6.5 19.4-5.7 16.9-4.3 16.8-3.6 16.5-3M235.8 283.5l2.2-2.6 2.4-2.2 6.9-6.2 9.4-7.8 14.3-11.3 14.5-10.4 12.1-8 12.2-7.4 12.3-6.7 14.8-7.3 17.4-7.7 17.2-6.8 17.3-6.2 19.6-6.4 19.5-5.5 16.8-4.2 16.8-3.5 16.5-2.7M233.8 281.7l2.3-2.5 4.6-4.2 14.1-11.8 14.3-11.1 14.4-10.3 12.2-7.9 14.6-8.7 12.3-6.5 14.9-7.2 17.3-7.4 17.2-6.7 17.3-6.1 19.6-6.1 17-4.7 16.8-4 16.8-3.3 16.5-2.6M231.9 279.9l2.2-2.4 4.6-4.1 14.1-11.7 14.3-10.9 14.5-10.1 12.1-7.9 14.7-8.5 12.3-6.5 14.8-7.1 17.3-7.4 17.3-6.7 17.2-5.9 19.6-6.1 17-4.5 16.9-3.9 16.7-3.2 16.5-2.4M229.9 278.2l2.2-2.4 4.7-4.1 16.5-13.3 14.3-10.6 14.5-9.9 12.1-7.6 14.7-8.3 12.3-6.4 14.8-6.9 17.3-7.2 17.3-6.5 17.2-5.8 17.1-5.1 17-4.4 16.9-3.8 16.7-3 16.5-2.3M227.9 276.4l2.3-2.3 4.6-4 16.5-13.1 14.4-10.4 14.5-9.8 12.1-7.5 14.7-8.2 14.8-7.5 14.8-6.8 17.3-7 17.2-6.3 17.2-5.6 17.1-5 17-4.2 16.8-3.5 16.7-2.7 14.1-1.8M225.9 274.7l2.3-2.2 7-5.8 14.2-11 14.4-10.3 14.4-9.6 12.2-7.4 14.7-8.2 14.8-7.4 14.7-6.7 14.9-6.1 17.2-6.3 17.2-5.7 17.1-4.9 17-4.1 16.9-3.5 16.6-2.7 16.5-1.9M224 273l2.3-2.1 9.4-7.6 14.2-10.7 14.4-10 14.5-9.3 12.2-7.2 14.7-7.9 14.7-7.3 14.8-6.5 14.8-6 17.2-6.2 17.2-5.4 17.1-4.7 17-3.9 16.8-3.2 16.6-2.5 14.2-1.4M222 271.3l14.2-10.8 14.3-10.2 14.4-9.6 14.5-8.9 14.7-8.3 14.7-7.7 14.7-7.1 17.2-7.5 14.8-5.7 14.7-5.2 14.7-4.5 17.1-4.6 14.5-3.2 16.8-3.1 14.3-2 16.5-1.6"/>
<path fill="none" stroke="#000" stroke-opacity="0.35" stroke-width="2.4" stroke-linejoin="round" d="M355.5 195.5l14.2-5 14.1-4.4 14.1-3.9 14-3.3 13.9-2.7 13.8-2.2 10.9-1.4 17.4-1.7 5.8-.3 5.8 0 5.8 .4 7.9 1.1 6 1.1 7.9 2.1 6.1 2 8 3"/>
<path fill="none" stroke="#000" stroke-opacity="0.6" stroke-width="2.6" stroke-linejoin="round" d="M411.9 178.9l13.9-2.7 13.8-2.2 10.9-1.4 17.4-1.7 5.8-.3 5.8 0 5.8 .4 5.9 .7"/>
<path fill="none" stroke="#001400" stroke-opacity="0.45" stroke-width="1" d="M311.8 263.6 C313.9 262.4 319.1 258.7 324.1 256.6 C329.1 254.6 336.4 252 341.6 251.3 C346.9 250.6 351.8 251.6 355.6 252.4 C359.4 253.2 361.9 254.4 364.4 255.9 C366.8 257.4 369.3 260.2 370.3 261.1 M282 258.3 C286.7 256.3 301.3 249 310.1 246.1 C318.9 243.2 327 242 334.6 240.8 C342.2 239.6 348 239.3 355.6 239.1 C363.2 238.9 373.8 239.1 380.2 239.8 C386.6 240.5 390.1 241.4 394.2 243.3 C398.3 245.2 402.5 249.1 404.7 251.3 C406.9 253.5 407 255.7 407.5 256.6 M401.2 228.5 C405.3 228.8 418.1 228.8 425.7 230.3 C433.3 231.8 440.9 234.1 446.7 237.3 C452.5 240.5 457.2 245.2 460.7 249.6 C464.2 254 466.2 259.5 467.7 263.6 C469.2 267.7 469.2 272.4 469.5 274.1"/>
<path d="M436.5 186.5 L443.2 266" stroke="#111" stroke-width="1" fill="none"/>
<circle cx="222" cy="270.5" r="3.3" fill="#d00000" stroke="#300" stroke-width="0.8"/>
<circle cx="345.8" cy="199.8" r="3.3" fill="#d00000" stroke="#300" stroke-width="0.8"/>
<circle cx="561.8" cy="203.5" r="3.3" fill="#d00000" stroke="#300" stroke-width="0.8"/>
<circle cx="317.3" cy="368" r="3.3" fill="#d00000" stroke="#300" stroke-width="0.8"/>
<circle cx="443.5" cy="270" r="3.3" fill="#d00000" stroke="#300" stroke-width="0.8"/>
<circle cx="548.4" cy="393.8" r="3.3" fill="#d00000" stroke="#300" stroke-width="0.8"/>
<circle cx="423" cy="532.3" r="3.3" fill="#d00000" stroke="#300" stroke-width="0.8"/>
<circle cx="666" cy="314.3" r="3.3" fill="#d00000" stroke="#300" stroke-width="0.8"/>
<rect x="403.6" y="172.6" width="32.4" height="14.4" fill="#fff" stroke="#111" stroke-width="1.2"/>
<text x="404.8" y="183.8" font-size="11" fill="#444">0.608</text>
<circle cx="241.2" cy="371.2" r="1.5" fill="#000"/><circle cx="277.8" cy="410.3" r="1.5" fill="#000"/><circle cx="314.4" cy="449.3" r="1.5" fill="#000"/><circle cx="351" cy="488.4" r="1.5" fill="#000"/><circle cx="387.6" cy="527.4" r="1.5" fill="#000"/><circle cx="424.2" cy="566.5" r="1.5" fill="#000"/><circle cx="480.5" cy="525.3" r="1.5" fill="#000"/><circle cx="536.8" cy="484.1" r="1.5" fill="#000"/><circle cx="593" cy="443" r="1.5" fill="#000"/><circle cx="649.3" cy="401.8" r="1.5" fill="#000"/><circle cx="233.7" cy="332.2" r="1.3" fill="#000"/><circle cx="228.5" cy="305" r="1.3" fill="#000"/><circle cx="223.3" cy="277.8" r="1.3" fill="#000"/><circle cx="218" cy="250.6" r="1.3" fill="#000"/><circle cx="212.8" cy="223.4" r="1.3" fill="#000"/><circle cx="207.6" cy="196.2" r="1.3" fill="#000"/>
<path d="M241.2 371.2 L207.6 196.2" stroke="#111" stroke-width="1"/>
<g font-size="15" fill="#222">
<text x="197.9" y="193.3" text-anchor="end">1.000</text>
<text x="204.5" y="220.7" text-anchor="end">0.800</text>
<text x="208.7" y="247.9" text-anchor="end">0.600</text>
<text x="213.6" y="275.6" text-anchor="end">0.400</text>
<text x="219.5" y="303" text-anchor="end">0.200</text>
<text x="224.4" y="330.2" text-anchor="end">0.000</text>
<text x="228.8" y="386.7" text-anchor="middle">2</text>
<text x="258.9" y="425.5" text-anchor="middle">1.8</text>
<text x="295.3" y="463.6" text-anchor="middle">1.6</text>
<text x="331.4" y="503.7" text-anchor="middle">1.4</text>
<text x="367.5" y="541.7" text-anchor="middle">1.2</text>
<text x="411.5" y="581.6" text-anchor="middle">1</text>
<text x="441.4" y="581.8" text-anchor="middle">10</text>
<text x="497.5" y="540" text-anchor="middle">15</text>
<text x="553.3" y="499.6" text-anchor="middle">20</text>
<text x="609.5" y="458" text-anchor="middle">25</text>
<text x="666.1" y="416.9" text-anchor="middle">30</text>
</g>
<g fill="#161616">
<text x="206" y="533.5" font-size="21">B: PVA (%)</text>
<text x="557" y="562" font-size="21">A: CR (%)</text>
<text transform="translate(156.2,338.5) rotate(-90)" font-size="19.3">Desirability</text>
</g>
<defs><linearGradient id="lg" x1="0" y1="0" x2="0" y2="1"><stop offset="0" stop-color="#f00"/><stop offset="0.5" stop-color="#0f0"/><stop offset="1" stop-color="#00f"/></linearGradient></defs>
<rect x="6.5" y="41.5" width="12.5" height="53.5" fill="url(#lg)" stroke="#222" stroke-width="1"/>
<g font-size="17" fill="#161616">
<text x="2.5" y="14.3">Factor Coding: Actual</text>
<text x="2.5" y="33.5">Desirability</text>
<text x="24.3" y="53" fill="#f51e28">1.000</text>
<text x="24.3" y="93.3" fill="#281ef5">0.000</text>
<text x="2" y="133.5">X1 = A: CR</text>
<text x="2" y="153.5">X2 = B: PVA</text>
</g>
</svg>
</body></html>
